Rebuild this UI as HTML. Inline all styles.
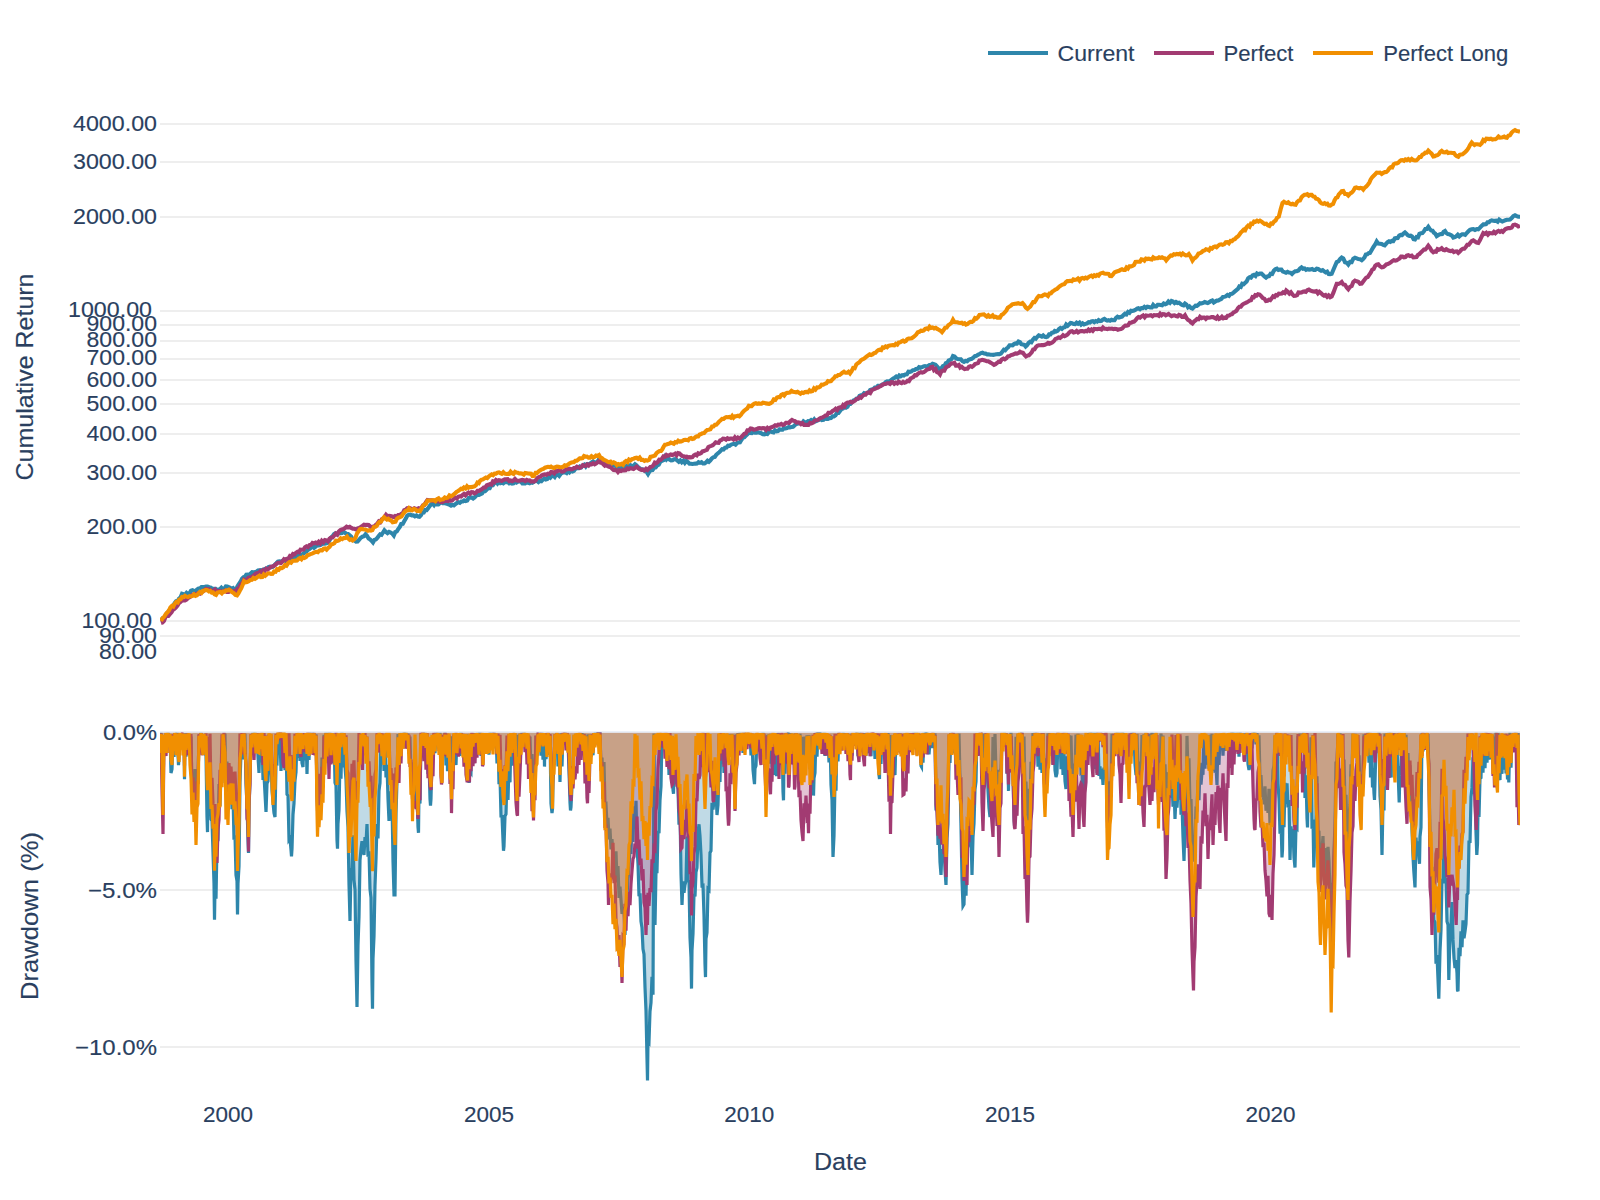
<!DOCTYPE html>
<html><head><meta charset="utf-8"><style>
html,body{margin:0;padding:0;background:#fff;}
svg{display:block;}
text{font-family:"Liberation Sans", sans-serif;fill:#2a3f5f;stroke:#2a3f5f;stroke-width:0.15px;}
</style></head><body>
<svg width="1600" height="1200" viewBox="0 0 1600 1200">
<rect width="1600" height="1200" fill="#fff"/>
<line x1="160" x2="1520" y1="124" y2="124" stroke="#e8e8e8" stroke-width="1.3"/>
<line x1="160" x2="1520" y1="162" y2="162" stroke="#e8e8e8" stroke-width="1.3"/>
<line x1="160" x2="1520" y1="217" y2="217" stroke="#e8e8e8" stroke-width="1.3"/>
<line x1="160" x2="1520" y1="311" y2="311" stroke="#e8e8e8" stroke-width="1.3"/>
<line x1="160" x2="1520" y1="325" y2="325" stroke="#e8e8e8" stroke-width="1.3"/>
<line x1="160" x2="1520" y1="341" y2="341" stroke="#e8e8e8" stroke-width="1.3"/>
<line x1="160" x2="1520" y1="359" y2="359" stroke="#e8e8e8" stroke-width="1.3"/>
<line x1="160" x2="1520" y1="380" y2="380" stroke="#e8e8e8" stroke-width="1.3"/>
<line x1="160" x2="1520" y1="404" y2="404" stroke="#e8e8e8" stroke-width="1.3"/>
<line x1="160" x2="1520" y1="434" y2="434" stroke="#e8e8e8" stroke-width="1.3"/>
<line x1="160" x2="1520" y1="473" y2="473" stroke="#e8e8e8" stroke-width="1.3"/>
<line x1="160" x2="1520" y1="527" y2="527" stroke="#e8e8e8" stroke-width="1.3"/>
<line x1="160" x2="1520" y1="621" y2="621" stroke="#e8e8e8" stroke-width="1.3"/>
<line x1="160" x2="1520" y1="636" y2="636" stroke="#e8e8e8" stroke-width="1.3"/>
<line x1="160" x2="1520" y1="890" y2="890" stroke="#e8e8e8" stroke-width="1.3"/>
<line x1="160" x2="1520" y1="1047" y2="1047" stroke="#e8e8e8" stroke-width="1.3"/>
<line x1="160" x2="1520" y1="731.9" y2="731.9" stroke="#EBF0F8" stroke-width="2"/>
<defs><clipPath id="ddclip"><rect x="160" y="732.6" width="1360" height="360"/></clipPath><clipPath id="topclip"><rect x="160" y="100" width="1360" height="552"/></clipPath></defs>
<g clip-path="url(#ddclip)"><path d="M160.0,755.5 L161.0,732.9 L162.0,752.9 L163.0,790.3 L164.0,735.0 L165.0,742.3 L166.0,733.3 L167.0,746.7 L168.0,732.8 L169.0,742.2 L170.0,734.6 L171.0,773.0 L172.0,769.0 L173.0,736.6 L174.0,756.9 L175.0,733.0 L176.0,739.5 L177.0,732.8 L178.0,754.8 L178.5,765.1 L179.0,758.4 L180.0,733.3 L181.0,745.4 L182.0,733.5 L183.0,748.7 L184.0,734.2 L184.5,779.2 L185.0,733.3 L186.0,756.8 L187.0,733.4 L188.0,754.2 L189.0,734.0 L190.0,754.9 L191.0,736.6 L192.0,792.1 L193.0,775.2 L194.0,796.5 L195.0,769.0 L196.0,811.3 L197.0,785.1 L198.0,782.2 L199.0,735.0 L200.0,745.5 L201.0,733.0 L202.0,744.8 L203.0,748.3 L204.0,734.0 L205.0,754.0 L206.0,755.0 L207.0,817.0 L207.5,832.1 L208.0,787.3 L209.0,772.7 L210.0,775.9 L211.0,819.3 L212.0,821.0 L213.0,852.1 L214.0,883.1 L214.5,919.7 L215.0,886.0 L216.0,898.7 L217.0,842.4 L218.0,840.2 L219.0,784.1 L220.0,805.9 L221.0,772.8 L222.0,783.0 L223.0,734.6 L224.0,740.3 L225.0,733.6 L226.0,792.1 L227.0,761.6 L228.0,797.3 L229.0,765.7 L230.0,799.7 L231.0,776.5 L232.0,809.3 L233.0,795.3 L234.0,839.6 L235.0,835.4 L236.0,875.1 L237.0,881.1 L237.5,914.4 L238.0,883.6 L239.0,866.2 L240.0,782.1 L241.0,753.4 L242.0,735.0 L242.5,759.5 L243.0,733.4 L244.0,753.9 L245.0,733.6 L246.0,783.8 L247.0,803.8 L248.0,840.1 L248.5,852.9 L249.0,812.5 L250.0,775.8 L251.0,735.1 L252.0,750.3 L253.0,732.8 L254.0,752.3 L255.0,732.9 L256.0,749.4 L257.0,733.2 L258.0,756.6 L259.0,773.0 L260.0,733.5 L261.0,762.5 L262.0,735.8 L263.0,780.0 L264.0,774.9 L265.0,793.6 L266.0,812.0 L267.0,783.5 L268.0,781.1 L269.0,755.9 L270.0,774.1 L271.0,758.0 L272.0,790.4 L273.0,802.0 L274.0,813.0 L275.0,817.0 L276.0,763.3 L277.0,763.6 L278.0,734.6 L279.0,744.3 L280.0,734.2 L281.0,771.0 L282.0,736.5 L283.0,762.8 L284.0,734.5 L285.0,770.2 L286.0,737.7 L287.0,794.4 L288.0,795.6 L289.0,839.8 L290.0,838.4 L291.0,849.9 L291.5,856.5 L292.0,849.0 L293.0,814.7 L294.0,803.3 L295.0,780.5 L296.0,772.2 L297.0,735.4 L298.0,758.0 L299.0,735.8 L300.0,761.0 L301.0,734.4 L302.0,763.1 L303.0,767.0 L304.0,735.1 L305.0,760.5 L306.0,733.9 L307.0,774.0 L308.0,734.6 L309.0,759.9 L310.0,732.9 L311.0,746.3 L312.0,733.1 L313.0,737.5 L314.0,733.0 L315.0,746.7 L316.0,734.2 L317.0,788.8 L317.5,805.6 L318.0,786.5 L319.0,802.0 L320.0,786.8 L321.0,797.1 L322.0,757.5 L323.0,783.4 L324.0,734.9 L325.0,761.2 L326.0,732.9 L327.0,745.4 L328.0,732.9 L329.0,752.1 L330.0,732.9 L331.0,754.9 L332.0,733.1 L333.0,763.2 L334.0,734.7 L335.0,782.7 L336.0,785.6 L337.0,840.3 L337.5,848.7 L338.0,823.8 L339.0,809.6 L340.0,760.0 L341.0,778.8 L342.0,732.9 L343.0,767.4 L344.0,734.9 L345.0,766.7 L346.0,779.8 L347.0,810.9 L348.0,827.0 L349.0,884.1 L350.0,921.0 L351.0,868.0 L352.0,872.5 L353.0,835.2 L354.0,879.8 L355.0,889.8 L356.0,961.0 L357.0,1007.0 L358.0,945.3 L359.0,916.7 L360.0,860.2 L361.0,849.1 L362.0,841.1 L363.0,846.4 L364.0,855.0 L365.0,837.2 L366.0,843.7 L367.0,824.0 L368.0,856.6 L369.0,851.4 L370.0,889.1 L371.0,897.6 L372.0,983.3 L372.5,1008.7 L373.0,958.5 L374.0,936.5 L375.0,885.2 L376.0,859.3 L377.0,824.1 L378.0,838.4 L379.0,790.9 L380.0,782.8 L381.0,737.6 L382.0,764.5 L383.0,736.3 L384.0,771.0 L385.0,734.3 L386.0,777.4 L387.0,764.9 L388.0,798.8 L389.0,821.0 L390.0,791.4 L391.0,803.1 L392.0,801.1 L393.0,860.6 L394.0,895.0 L395.0,895.0 L396.0,813.6 L397.0,781.2 L398.0,734.0 L399.0,755.3 L400.0,733.5 L401.0,736.8 L402.0,733.1 L403.0,748.4 L404.0,732.8 L405.0,738.4 L406.0,733.0 L407.0,743.3 L408.0,733.6 L409.0,753.7 L410.0,736.6 L411.0,775.5 L412.0,766.4 L412.5,794.7 L413.0,762.5 L414.0,772.7 L415.0,782.6 L416.0,808.2 L417.0,794.0 L418.0,826.9 L418.5,832.8 L419.0,789.8 L420.0,803.7 L421.0,733.7 L422.0,743.4 L423.0,732.8 L424.0,754.0 L425.0,732.9 L426.0,744.4 L427.0,733.6 L428.0,774.0 L429.0,761.9 L430.0,798.8 L430.5,805.6 L431.0,798.7 L432.0,754.5 L433.0,750.7 L434.0,733.5 L435.0,753.2 L436.0,732.9 L437.0,742.5 L438.0,733.5 L439.0,748.3 L440.0,732.8 L441.0,760.4 L442.0,767.9 L443.0,735.5 L444.0,752.4 L445.0,732.9 L446.0,765.4 L447.0,735.5 L447.5,771.3 L448.0,736.6 L449.0,760.7 L450.0,736.0 L451.0,775.5 L451.5,779.3 L452.0,736.4 L453.0,759.5 L454.0,734.7 L455.0,755.3 L456.0,765.0 L457.0,734.2 L458.0,753.7 L459.0,733.0 L460.0,756.0 L461.0,732.9 L462.0,747.1 L463.0,734.6 L464.0,752.5 L465.0,734.1 L466.0,759.3 L467.0,734.2 L467.5,777.0 L468.0,760.9 L469.0,783.0 L470.0,770.1 L471.0,771.9 L472.0,733.1 L473.0,751.6 L474.0,733.2 L475.0,751.7 L476.0,733.4 L477.0,738.8 L478.0,733.1 L479.0,740.3 L480.0,732.8 L481.0,756.0 L482.0,733.6 L483.0,755.3 L484.0,734.0 L485.0,745.4 L486.0,733.7 L487.0,748.4 L488.0,733.1 L489.0,754.8 L490.0,732.8 L491.0,740.1 L492.0,732.9 L493.0,748.5 L494.0,733.0 L495.0,744.8 L496.0,734.5 L497.0,763.4 L498.0,737.1 L499.0,784.2 L500.0,776.4 L501.0,816.1 L502.0,816.3 L503.0,840.0 L503.5,850.8 L504.0,846.5 L505.0,816.1 L506.0,814.0 L507.0,777.1 L508.0,799.9 L509.0,763.6 L510.0,782.4 L511.0,734.6 L512.0,765.6 L513.0,734.3 L514.0,751.2 L515.0,733.2 L516.0,757.2 L517.0,780.5 L518.0,734.7 L519.0,755.1 L520.0,733.5 L521.0,745.1 L522.0,733.0 L523.0,741.8 L524.0,733.0 L525.0,738.4 L526.0,733.4 L527.0,743.8 L528.0,734.5 L529.0,754.2 L530.0,736.5 L531.0,774.6 L532.0,754.1 L533.0,789.2 L533.5,792.1 L534.0,760.1 L535.0,775.9 L536.0,735.8 L537.0,755.3 L538.0,733.8 L539.0,741.6 L540.0,732.9 L541.0,755.8 L542.0,732.9 L543.0,759.8 L544.0,733.5 L544.5,766.6 L545.0,736.5 L546.0,759.0 L547.0,749.7 L548.0,733.3 L549.0,754.8 L550.0,734.7 L551.0,803.6 L552.0,813.0 L552.5,809.0 L553.0,783.2 L554.0,761.3 L555.0,734.7 L556.0,740.9 L557.0,733.7 L558.0,766.5 L559.0,737.5 L560.0,782.0 L561.0,733.3 L562.0,766.5 L563.0,733.1 L564.0,738.8 L565.0,733.0 L566.0,738.6 L567.0,733.3 L568.0,741.7 L569.0,770.9 L570.0,802.5 L570.5,810.4 L571.0,807.2 L572.0,786.6 L573.0,768.9 L574.0,735.2 L575.0,747.3 L576.0,734.0 L577.0,751.2 L578.0,733.0 L579.0,756.7 L580.0,733.1 L581.0,747.7 L582.0,733.2 L583.0,747.1 L584.0,733.9 L585.0,756.4 L586.0,735.9 L587.0,762.7 L588.0,734.4 L589.0,766.5 L590.0,734.6 L591.0,753.6 L592.0,734.7 L593.0,755.3 L594.0,733.0 L595.0,736.6 L596.0,733.0 L597.0,738.5 L598.0,733.1 L599.0,735.3 L600.0,733.6 L601.0,766.9 L602.0,757.5 L603.0,784.0 L604.0,762.1 L605.0,804.6 L606.0,804.0 L607.0,824.6 L608.0,817.8 L609.0,839.4 L610.0,828.5 L611.0,849.4 L612.0,839.2 L613.0,857.2 L614.0,856.2 L615.0,876.2 L616.0,851.2 L617.0,882.4 L618.0,866.0 L619.0,897.9 L620.0,886.6 L621.0,899.9 L622.0,914.0 L623.0,906.9 L624.0,914.2 L625.0,935.0 L626.0,906.8 L627.0,894.8 L628.0,878.9 L629.0,867.3 L630.0,844.9 L631.0,854.0 L632.0,817.8 L633.0,841.9 L634.0,806.4 L635.0,824.0 L636.0,800.8 L637.0,847.8 L638.0,863.9 L639.0,896.2 L640.0,893.4 L641.0,921.3 L642.0,927.7 L643.0,949.1 L644.0,954.3 L645.0,987.1 L646.0,1010.9 L647.0,1058.9 L647.5,1080.5 L648.0,1040.0 L649.0,1041.6 L650.0,1011.5 L651.0,1002.6 L652.0,976.9 L653.0,994.7 L654.0,733.5 L655.0,925.0 L656.0,871.5 L657.0,871.6 L658.0,830.9 L659.0,833.2 L660.0,800.3 L661.0,786.3 L662.0,733.3 L663.0,749.4 L664.0,733.7 L665.0,749.7 L666.0,733.9 L667.0,755.0 L668.0,733.0 L669.0,775.0 L670.0,736.2 L671.0,764.5 L672.0,736.0 L673.0,790.0 L673.5,793.7 L674.0,776.8 L675.0,772.3 L676.0,758.9 L677.0,783.1 L678.0,789.5 L679.0,824.7 L680.0,809.6 L681.0,873.9 L682.0,905.0 L683.0,881.2 L684.0,892.7 L685.0,884.9 L686.0,880.9 L687.0,836.5 L688.0,880.9 L689.0,881.5 L690.0,937.8 L691.0,957.4 L691.5,988.6 L692.0,950.6 L693.0,933.8 L694.0,893.7 L695.0,896.4 L696.0,872.1 L697.0,867.7 L698.0,832.3 L699.0,824.3 L700.0,836.0 L701.0,854.8 L702.0,885.6 L703.0,885.3 L704.0,915.7 L705.0,964.3 L705.5,977.1 L706.0,938.7 L707.0,932.6 L708.0,889.1 L709.0,890.1 L710.0,852.7 L711.0,850.9 L712.0,802.9 L713.0,809.5 L714.0,801.0 L715.0,805.0 L716.0,790.5 L717.0,815.0 L718.0,805.0 L719.0,772.3 L720.0,781.9 L721.0,733.8 L722.0,763.7 L723.0,734.8 L724.0,773.0 L725.0,735.2 L726.0,759.4 L727.0,734.6 L728.0,752.8 L729.0,755.3 L730.0,734.3 L731.0,754.0 L732.0,734.1 L733.0,759.4 L734.0,736.9 L735.0,786.1 L736.0,734.2 L737.0,753.7 L738.0,733.2 L739.0,740.9 L740.0,733.0 L741.0,741.0 L742.0,733.1 L743.0,752.8 L744.0,732.8 L745.0,748.3 L746.0,733.4 L747.0,742.3 L748.0,733.6 L749.0,744.4 L750.0,734.0 L751.0,755.5 L752.0,734.5 L753.0,769.6 L754.0,779.5 L754.5,784.1 L755.0,768.5 L756.0,765.6 L757.0,735.3 L758.0,749.7 L759.0,734.1 L760.0,749.7 L761.0,733.6 L762.0,744.3 L763.0,732.9 L764.0,754.7 L765.0,735.8 L766.0,791.7 L767.0,734.7 L768.0,757.2 L769.0,734.2 L770.0,763.6 L771.0,733.7 L772.0,767.7 L773.0,736.7 L774.0,775.0 L775.0,733.1 L776.0,770.8 L776.5,776.0 L777.0,773.6 L778.0,733.0 L779.0,742.4 L780.0,733.8 L781.0,753.7 L782.0,734.8 L783.0,791.4 L783.5,800.3 L784.0,761.8 L785.0,773.6 L786.0,733.3 L787.0,735.6 L788.0,733.7 L789.0,762.3 L790.0,733.1 L791.0,747.3 L792.0,733.6 L793.0,748.3 L794.0,735.0 L795.0,762.3 L796.0,733.1 L797.0,752.3 L798.0,734.0 L799.0,754.3 L800.0,733.9 L801.0,764.9 L802.0,769.3 L803.0,736.8 L804.0,765.7 L805.0,736.5 L806.0,761.9 L807.0,735.3 L808.0,755.5 L809.0,735.1 L810.0,769.3 L811.0,736.2 L812.0,774.6 L813.0,756.8 L813.5,795.6 L814.0,778.1 L815.0,772.8 L816.0,732.8 L817.0,756.8 L818.0,733.0 L819.0,734.6 L820.0,732.9 L821.0,743.3 L822.0,733.4 L823.0,748.4 L823.5,750.6 L824.0,732.9 L825.0,756.0 L826.0,733.8 L827.0,741.1 L828.0,735.2 L829.0,762.5 L830.0,736.8 L831.0,784.6 L832.0,800.0 L833.0,857.0 L834.0,836.0 L835.0,781.3 L836.0,790.6 L837.0,735.8 L838.0,761.4 L839.0,733.2 L840.0,742.5 L841.0,733.1 L842.0,748.4 L843.0,732.8 L844.0,745.5 L845.0,733.1 L846.0,741.7 L847.0,733.4 L848.0,747.7 L849.0,734.9 L850.0,753.0 L850.5,755.1 L851.0,733.9 L852.0,755.6 L853.0,733.6 L854.0,739.7 L855.0,733.2 L856.0,741.2 L857.0,732.8 L858.0,756.3 L859.0,733.1 L860.0,738.8 L861.0,733.1 L862.0,743.0 L863.0,733.2 L864.0,748.3 L865.0,733.1 L866.0,755.7 L867.0,733.6 L868.0,746.6 L869.0,753.0 L870.0,733.4 L871.0,756.1 L872.0,733.0 L873.0,749.3 L874.0,733.4 L875.0,759.0 L876.0,734.7 L877.0,753.1 L878.0,734.4 L879.0,774.6 L879.5,779.1 L880.0,736.1 L881.0,763.9 L882.0,733.3 L883.0,750.9 L884.0,733.1 L885.0,754.3 L886.0,733.1 L887.0,755.8 L888.0,733.1 L889.0,762.2 L890.0,735.0 L890.5,776.8 L891.0,737.6 L892.0,764.6 L893.0,735.2 L894.0,770.7 L894.5,773.5 L895.0,775.0 L896.0,734.5 L897.0,748.3 L898.0,733.8 L899.0,738.2 L900.0,733.7 L901.0,749.3 L902.0,734.1 L903.0,757.4 L904.0,759.5 L905.0,733.8 L906.0,748.2 L907.0,733.4 L908.0,751.6 L909.0,733.4 L910.0,748.8 L911.0,733.1 L912.0,743.7 L913.0,748.3 L914.0,732.9 L915.0,741.5 L916.0,733.1 L917.0,737.5 L918.0,733.4 L919.0,743.5 L920.0,735.0 L921.0,765.9 L921.5,766.8 L922.0,734.4 L923.0,762.8 L924.0,732.9 L925.0,738.9 L926.0,733.1 L927.0,735.7 L928.0,733.0 L929.0,754.3 L930.0,741.3 L931.0,733.5 L932.0,748.1 L933.0,733.0 L934.0,747.5 L935.0,733.2 L936.0,810.4 L937.0,798.3 L938.0,845.0 L939.0,829.9 L940.0,862.1 L941.0,875.0 L942.0,849.1 L943.0,860.5 L944.0,841.5 L945.0,870.1 L946.0,885.0 L947.0,838.1 L948.0,823.9 L949.0,759.5 L950.0,762.9 L951.0,733.1 L952.0,738.2 L953.0,733.3 L954.0,753.5 L955.0,733.9 L956.0,754.5 L957.0,734.1 L958.0,763.3 L959.0,733.6 L960.0,777.9 L961.0,826.6 L962.0,879.6 L963.0,906.0 L964.0,904.3 L965.0,870.6 L966.0,895.8 L967.0,847.3 L968.0,846.5 L969.0,835.6 L970.0,845.6 L971.0,834.2 L972.0,875.0 L973.0,837.1 L974.0,823.4 L975.0,789.2 L976.0,781.6 L977.0,733.2 L978.0,739.4 L979.0,733.3 L980.0,746.5 L981.0,733.6 L982.0,756.4 L983.0,769.3 L984.0,733.5 L985.0,759.6 L986.0,734.0 L987.0,757.6 L988.0,790.5 L989.0,807.8 L990.0,817.0 L991.0,800.3 L992.0,809.0 L993.0,737.1 L994.0,771.5 L995.0,734.1 L996.0,773.0 L997.0,769.8 L998.0,787.7 L999.0,797.3 L1000.0,771.6 L1001.0,768.1 L1002.0,733.4 L1003.0,745.9 L1004.0,733.1 L1005.0,738.3 L1006.0,733.3 L1007.0,773.8 L1008.0,762.6 L1008.5,790.9 L1009.0,757.3 L1010.0,772.1 L1011.0,732.9 L1012.0,762.4 L1013.0,774.7 L1014.0,817.2 L1014.5,826.0 L1015.0,821.0 L1016.0,736.8 L1017.0,755.7 L1018.0,733.7 L1019.0,755.8 L1020.0,733.2 L1021.0,746.1 L1022.0,732.8 L1023.0,756.8 L1024.0,736.6 L1025.0,793.2 L1026.0,781.6 L1027.0,815.7 L1028.0,832.3 L1029.0,788.9 L1030.0,804.2 L1031.0,761.8 L1032.0,767.8 L1033.0,733.0 L1034.0,755.9 L1035.0,732.9 L1036.0,754.3 L1037.0,734.2 L1038.0,766.6 L1039.0,734.1 L1040.0,769.7 L1041.0,735.3 L1042.0,773.0 L1043.0,733.1 L1044.0,776.8 L1045.0,791.7 L1046.0,758.2 L1047.0,774.1 L1048.0,733.2 L1049.0,753.9 L1050.0,733.2 L1051.0,752.8 L1052.0,733.0 L1053.0,764.8 L1054.0,734.3 L1055.0,770.4 L1056.0,777.0 L1057.0,773.0 L1058.0,735.7 L1059.0,749.2 L1060.0,733.2 L1061.0,769.2 L1062.0,733.9 L1063.0,775.0 L1064.0,754.0 L1065.0,781.2 L1066.0,789.0 L1067.0,756.4 L1068.0,776.0 L1069.0,735.0 L1070.0,768.2 L1071.0,735.6 L1072.0,780.6 L1073.0,790.3 L1074.0,763.6 L1075.0,773.7 L1076.0,734.6 L1077.0,760.2 L1078.0,733.9 L1079.0,756.5 L1080.0,734.8 L1081.0,772.5 L1082.0,771.6 L1083.0,805.0 L1084.0,778.5 L1085.0,781.4 L1086.0,734.6 L1087.0,752.7 L1088.0,733.0 L1089.0,740.8 L1090.0,733.0 L1091.0,737.4 L1092.0,732.9 L1093.0,752.8 L1094.0,732.9 L1095.0,769.0 L1096.0,732.8 L1097.0,773.3 L1098.0,734.4 L1099.0,775.9 L1100.0,766.5 L1101.0,779.1 L1102.0,768.9 L1103.0,785.0 L1104.0,767.6 L1105.0,775.3 L1106.0,734.3 L1107.0,801.0 L1107.5,821.8 L1108.0,800.0 L1109.0,816.1 L1110.0,781.2 L1111.0,793.8 L1112.0,733.7 L1113.0,764.2 L1114.0,734.2 L1115.0,746.6 L1116.0,733.1 L1117.0,737.2 L1118.0,733.1 L1119.0,743.8 L1120.0,732.8 L1121.0,744.8 L1122.0,733.1 L1123.0,739.3 L1124.0,733.0 L1125.0,750.4 L1126.0,735.0 L1127.0,761.0 L1128.0,736.8 L1129.0,779.1 L1130.0,734.9 L1131.0,755.1 L1132.0,732.9 L1133.0,741.2 L1134.0,733.2 L1135.0,764.3 L1136.0,775.0 L1137.0,733.7 L1138.0,772.2 L1139.0,783.3 L1140.0,761.5 L1141.0,780.1 L1142.0,735.1 L1143.0,756.7 L1144.0,734.2 L1145.0,754.3 L1146.0,733.1 L1147.0,752.6 L1148.0,734.3 L1149.0,769.3 L1150.0,733.8 L1151.0,762.8 L1152.0,732.9 L1153.0,751.3 L1154.0,733.7 L1155.0,751.6 L1156.0,733.3 L1157.0,770.9 L1158.0,757.1 L1158.5,799.8 L1159.0,768.0 L1160.0,777.0 L1161.0,733.5 L1162.0,753.0 L1163.0,735.6 L1164.0,775.0 L1165.0,764.4 L1166.0,795.7 L1167.0,804.3 L1168.0,772.2 L1169.0,782.6 L1170.0,776.5 L1171.0,797.6 L1172.0,781.0 L1173.0,806.8 L1174.0,787.4 L1175.0,819.0 L1176.0,796.1 L1177.0,807.6 L1178.0,789.8 L1179.0,764.1 L1180.0,736.2 L1181.0,814.8 L1182.0,804.9 L1183.0,836.8 L1184.0,861.0 L1185.0,823.0 L1186.0,824.8 L1187.0,735.9 L1188.0,775.5 L1189.0,758.2 L1190.0,808.4 L1191.0,799.1 L1192.0,839.9 L1193.0,861.7 L1194.0,837.1 L1195.0,839.3 L1196.0,808.7 L1197.0,809.2 L1198.0,780.0 L1199.0,800.2 L1200.0,762.8 L1201.0,784.5 L1202.0,772.2 L1203.0,774.8 L1204.0,734.1 L1205.0,768.6 L1206.0,736.8 L1207.0,764.7 L1208.0,735.6 L1209.0,769.0 L1210.0,734.8 L1211.0,775.0 L1212.0,733.9 L1213.0,770.7 L1214.0,735.9 L1215.0,772.8 L1216.0,765.8 L1217.0,785.0 L1218.0,734.0 L1219.0,764.9 L1220.0,734.8 L1221.0,748.6 L1222.0,734.6 L1223.0,755.7 L1224.0,734.0 L1225.0,751.0 L1226.0,734.1 L1227.0,749.4 L1228.0,734.2 L1229.0,744.2 L1230.0,733.3 L1231.0,736.9 L1232.0,733.0 L1233.0,737.9 L1234.0,732.9 L1235.0,752.5 L1236.0,733.0 L1237.0,739.8 L1238.0,733.1 L1239.0,756.8 L1240.0,732.8 L1241.0,738.2 L1242.0,733.3 L1243.0,747.4 L1244.0,748.3 L1245.0,733.3 L1246.0,747.8 L1247.0,736.2 L1248.0,764.0 L1249.0,770.0 L1250.0,765.5 L1251.0,733.1 L1252.0,748.3 L1253.0,732.9 L1254.0,736.0 L1255.0,733.0 L1256.0,744.3 L1257.0,733.0 L1258.0,750.6 L1259.0,735.4 L1260.0,777.7 L1261.0,775.1 L1262.0,797.2 L1263.0,788.7 L1264.0,804.3 L1265.0,786.3 L1266.0,810.8 L1267.0,797.9 L1268.0,812.8 L1269.0,788.7 L1270.0,825.3 L1271.0,802.2 L1272.0,798.0 L1273.0,770.4 L1274.0,765.3 L1275.0,735.5 L1276.0,765.3 L1277.0,733.0 L1278.0,783.6 L1279.0,798.9 L1280.0,833.8 L1281.0,821.7 L1282.0,857.5 L1282.5,850.0 L1283.0,815.9 L1284.0,827.1 L1285.0,782.7 L1286.0,804.0 L1287.0,783.3 L1288.0,807.5 L1289.0,800.0 L1290.0,860.0 L1291.0,826.3 L1292.0,846.9 L1293.0,828.7 L1294.0,857.5 L1295.0,867.5 L1296.0,826.2 L1297.0,827.6 L1298.0,736.0 L1299.0,760.2 L1300.0,733.6 L1301.0,746.3 L1302.0,733.6 L1303.0,739.4 L1304.0,732.9 L1305.0,798.1 L1306.0,775.4 L1307.0,818.2 L1307.5,827.5 L1308.0,795.0 L1309.0,808.4 L1310.0,800.0 L1311.0,737.3 L1312.0,828.8 L1313.0,819.6 L1313.8,867.5 L1315.0,827.1 L1316.0,822.1 L1317.0,776.3 L1318.0,831.5 L1319.0,831.9 L1320.0,873.3 L1320.5,881.3 L1321.0,858.4 L1322.0,849.7 L1323.0,836.1 L1324.0,871.2 L1325.0,888.3 L1326.0,848.1 L1327.0,872.4 L1328.0,846.9 L1329.0,861.6 L1330.0,893.6 L1331.2,928.6 L1332.0,882.7 L1333.0,889.7 L1334.0,848.7 L1335.0,826.2 L1336.0,761.4 L1337.0,764.7 L1338.0,734.0 L1339.0,752.3 L1340.0,733.4 L1341.0,750.3 L1342.0,734.9 L1343.0,770.2 L1344.0,759.6 L1345.0,802.6 L1346.0,794.8 L1347.0,834.7 L1348.0,849.8 L1349.0,816.1 L1350.0,804.7 L1351.0,764.2 L1352.0,770.3 L1353.0,733.8 L1354.0,754.0 L1355.0,733.8 L1356.0,753.9 L1357.0,735.7 L1358.0,769.5 L1359.0,755.2 L1360.0,789.2 L1361.2,800.8 L1362.0,774.0 L1363.0,777.7 L1364.0,734.4 L1365.0,752.6 L1366.0,734.1 L1367.0,748.2 L1368.0,732.9 L1369.0,762.6 L1370.0,737.2 L1370.5,777.5 L1371.0,734.0 L1372.0,765.6 L1372.5,787.5 L1373.0,768.1 L1374.0,793.5 L1374.5,800.0 L1375.0,782.1 L1376.0,746.0 L1377.0,733.4 L1378.0,742.0 L1379.0,732.8 L1380.0,795.7 L1381.0,810.0 L1382.0,855.0 L1383.0,801.5 L1384.0,810.6 L1385.0,733.5 L1386.0,749.4 L1387.0,733.3 L1388.0,755.6 L1389.0,732.9 L1390.0,768.2 L1391.2,777.5 L1392.0,735.9 L1393.0,765.7 L1394.0,733.1 L1395.0,767.6 L1396.0,734.2 L1397.0,749.2 L1398.0,770.2 L1399.2,802.5 L1400.0,766.1 L1401.0,775.3 L1402.0,733.3 L1403.0,741.4 L1404.0,733.2 L1405.0,747.5 L1406.0,734.7 L1407.0,771.6 L1408.0,753.0 L1409.0,785.1 L1410.0,765.4 L1411.0,791.4 L1412.0,830.4 L1413.0,856.6 L1413.8,870.8 L1415.0,887.5 L1416.0,837.6 L1417.0,854.5 L1418.0,841.3 L1419.0,858.4 L1419.5,863.8 L1420.0,836.5 L1421.0,827.4 L1422.0,733.2 L1423.0,751.3 L1424.0,733.5 L1425.0,749.7 L1426.0,733.4 L1427.0,740.5 L1428.0,734.1 L1429.0,780.9 L1430.0,832.6 L1431.0,866.6 L1432.0,867.9 L1433.0,902.1 L1433.8,920.0 L1435.0,922.1 L1436.0,963.7 L1437.0,955.0 L1438.0,979.2 L1438.8,998.8 L1440.0,951.0 L1441.0,930.0 L1442.0,878.8 L1443.0,883.3 L1444.0,839.5 L1445.0,880.2 L1446.0,880.0 L1447.0,921.5 L1448.0,924.7 L1448.8,980.0 L1450.0,934.6 L1451.0,926.7 L1452.0,902.1 L1453.0,939.9 L1454.0,957.8 L1455.0,968.1 L1456.0,960.0 L1457.0,973.1 L1457.5,990.2 L1458.0,991.2 L1459.0,947.7 L1460.0,956.1 L1461.0,931.4 L1462.0,947.3 L1463.0,920.3 L1464.0,938.2 L1465.0,931.4 L1466.0,923.9 L1467.0,894.7 L1468.0,893.2 L1469.0,840.5 L1470.0,843.0 L1471.0,796.8 L1472.0,787.9 L1473.0,757.4 L1474.0,793.7 L1475.0,787.4 L1476.0,832.8 L1476.8,855.0 L1477.5,843.8 L1478.0,810.6 L1479.0,816.9 L1480.0,778.3 L1481.0,777.7 L1482.0,734.8 L1483.0,772.6 L1484.0,733.3 L1485.0,768.2 L1486.0,735.6 L1487.0,762.6 L1488.0,734.4 L1489.0,759.7 L1490.0,735.5 L1491.0,759.3 L1492.0,734.5 L1493.0,763.1 L1494.0,736.6 L1495.0,767.6 L1496.0,732.8 L1497.0,773.1 L1497.5,774.6 L1498.0,732.9 L1499.0,777.1 L1500.0,780.0 L1501.0,736.3 L1502.0,773.9 L1503.0,734.0 L1504.0,769.6 L1505.0,734.1 L1506.0,773.5 L1507.0,764.9 L1507.5,779.4 L1508.0,754.6 L1508.8,782.5 L1510.0,732.8 L1511.0,767.6 L1512.0,735.8 L1513.0,751.0 L1514.0,733.3 L1515.0,746.9 L1516.0,732.8 L1517.0,743.1 L1518.0,733.1 L1519.0,773.9 L1520.0,797.3 L1520.0,732.8 L160.0,732.8 Z" fill="#2E86AB" fill-opacity="0.3" stroke="none"/><path d="M160.0,755.5 L161.0,732.9 L162.0,752.9 L163.0,790.3 L164.0,735.0 L165.0,742.3 L166.0,733.3 L167.0,746.7 L168.0,732.8 L169.0,742.2 L170.0,734.6 L171.0,773.0 L172.0,769.0 L173.0,736.6 L174.0,756.9 L175.0,733.0 L176.0,739.5 L177.0,732.8 L178.0,754.8 L178.5,765.1 L179.0,758.4 L180.0,733.3 L181.0,745.4 L182.0,733.5 L183.0,748.7 L184.0,734.2 L184.5,779.2 L185.0,733.3 L186.0,756.8 L187.0,733.4 L188.0,754.2 L189.0,734.0 L190.0,754.9 L191.0,736.6 L192.0,792.1 L193.0,775.2 L194.0,796.5 L195.0,769.0 L196.0,811.3 L197.0,785.1 L198.0,782.2 L199.0,735.0 L200.0,745.5 L201.0,733.0 L202.0,744.8 L203.0,748.3 L204.0,734.0 L205.0,754.0 L206.0,755.0 L207.0,817.0 L207.5,832.1 L208.0,787.3 L209.0,772.7 L210.0,775.9 L211.0,819.3 L212.0,821.0 L213.0,852.1 L214.0,883.1 L214.5,919.7 L215.0,886.0 L216.0,898.7 L217.0,842.4 L218.0,840.2 L219.0,784.1 L220.0,805.9 L221.0,772.8 L222.0,783.0 L223.0,734.6 L224.0,740.3 L225.0,733.6 L226.0,792.1 L227.0,761.6 L228.0,797.3 L229.0,765.7 L230.0,799.7 L231.0,776.5 L232.0,809.3 L233.0,795.3 L234.0,839.6 L235.0,835.4 L236.0,875.1 L237.0,881.1 L237.5,914.4 L238.0,883.6 L239.0,866.2 L240.0,782.1 L241.0,753.4 L242.0,735.0 L242.5,759.5 L243.0,733.4 L244.0,753.9 L245.0,733.6 L246.0,783.8 L247.0,803.8 L248.0,840.1 L248.5,852.9 L249.0,812.5 L250.0,775.8 L251.0,735.1 L252.0,750.3 L253.0,732.8 L254.0,752.3 L255.0,732.9 L256.0,749.4 L257.0,733.2 L258.0,756.6 L259.0,773.0 L260.0,733.5 L261.0,762.5 L262.0,735.8 L263.0,780.0 L264.0,774.9 L265.0,793.6 L266.0,812.0 L267.0,783.5 L268.0,781.1 L269.0,755.9 L270.0,774.1 L271.0,758.0 L272.0,790.4 L273.0,802.0 L274.0,813.0 L275.0,817.0 L276.0,763.3 L277.0,763.6 L278.0,734.6 L279.0,744.3 L280.0,734.2 L281.0,771.0 L282.0,736.5 L283.0,762.8 L284.0,734.5 L285.0,770.2 L286.0,737.7 L287.0,794.4 L288.0,795.6 L289.0,839.8 L290.0,838.4 L291.0,849.9 L291.5,856.5 L292.0,849.0 L293.0,814.7 L294.0,803.3 L295.0,780.5 L296.0,772.2 L297.0,735.4 L298.0,758.0 L299.0,735.8 L300.0,761.0 L301.0,734.4 L302.0,763.1 L303.0,767.0 L304.0,735.1 L305.0,760.5 L306.0,733.9 L307.0,774.0 L308.0,734.6 L309.0,759.9 L310.0,732.9 L311.0,746.3 L312.0,733.1 L313.0,737.5 L314.0,733.0 L315.0,746.7 L316.0,734.2 L317.0,788.8 L317.5,805.6 L318.0,786.5 L319.0,802.0 L320.0,786.8 L321.0,797.1 L322.0,757.5 L323.0,783.4 L324.0,734.9 L325.0,761.2 L326.0,732.9 L327.0,745.4 L328.0,732.9 L329.0,752.1 L330.0,732.9 L331.0,754.9 L332.0,733.1 L333.0,763.2 L334.0,734.7 L335.0,782.7 L336.0,785.6 L337.0,840.3 L337.5,848.7 L338.0,823.8 L339.0,809.6 L340.0,760.0 L341.0,778.8 L342.0,732.9 L343.0,767.4 L344.0,734.9 L345.0,766.7 L346.0,779.8 L347.0,810.9 L348.0,827.0 L349.0,884.1 L350.0,921.0 L351.0,868.0 L352.0,872.5 L353.0,835.2 L354.0,879.8 L355.0,889.8 L356.0,961.0 L357.0,1007.0 L358.0,945.3 L359.0,916.7 L360.0,860.2 L361.0,849.1 L362.0,841.1 L363.0,846.4 L364.0,855.0 L365.0,837.2 L366.0,843.7 L367.0,824.0 L368.0,856.6 L369.0,851.4 L370.0,889.1 L371.0,897.6 L372.0,983.3 L372.5,1008.7 L373.0,958.5 L374.0,936.5 L375.0,885.2 L376.0,859.3 L377.0,824.1 L378.0,838.4 L379.0,790.9 L380.0,782.8 L381.0,737.6 L382.0,764.5 L383.0,736.3 L384.0,771.0 L385.0,734.3 L386.0,777.4 L387.0,764.9 L388.0,798.8 L389.0,821.0 L390.0,791.4 L391.0,803.1 L392.0,801.1 L393.0,860.6 L394.0,895.0 L395.0,895.0 L396.0,813.6 L397.0,781.2 L398.0,734.0 L399.0,755.3 L400.0,733.5 L401.0,736.8 L402.0,733.1 L403.0,748.4 L404.0,732.8 L405.0,738.4 L406.0,733.0 L407.0,743.3 L408.0,733.6 L409.0,753.7 L410.0,736.6 L411.0,775.5 L412.0,766.4 L412.5,794.7 L413.0,762.5 L414.0,772.7 L415.0,782.6 L416.0,808.2 L417.0,794.0 L418.0,826.9 L418.5,832.8 L419.0,789.8 L420.0,803.7 L421.0,733.7 L422.0,743.4 L423.0,732.8 L424.0,754.0 L425.0,732.9 L426.0,744.4 L427.0,733.6 L428.0,774.0 L429.0,761.9 L430.0,798.8 L430.5,805.6 L431.0,798.7 L432.0,754.5 L433.0,750.7 L434.0,733.5 L435.0,753.2 L436.0,732.9 L437.0,742.5 L438.0,733.5 L439.0,748.3 L440.0,732.8 L441.0,760.4 L442.0,767.9 L443.0,735.5 L444.0,752.4 L445.0,732.9 L446.0,765.4 L447.0,735.5 L447.5,771.3 L448.0,736.6 L449.0,760.7 L450.0,736.0 L451.0,775.5 L451.5,779.3 L452.0,736.4 L453.0,759.5 L454.0,734.7 L455.0,755.3 L456.0,765.0 L457.0,734.2 L458.0,753.7 L459.0,733.0 L460.0,756.0 L461.0,732.9 L462.0,747.1 L463.0,734.6 L464.0,752.5 L465.0,734.1 L466.0,759.3 L467.0,734.2 L467.5,777.0 L468.0,760.9 L469.0,783.0 L470.0,770.1 L471.0,771.9 L472.0,733.1 L473.0,751.6 L474.0,733.2 L475.0,751.7 L476.0,733.4 L477.0,738.8 L478.0,733.1 L479.0,740.3 L480.0,732.8 L481.0,756.0 L482.0,733.6 L483.0,755.3 L484.0,734.0 L485.0,745.4 L486.0,733.7 L487.0,748.4 L488.0,733.1 L489.0,754.8 L490.0,732.8 L491.0,740.1 L492.0,732.9 L493.0,748.5 L494.0,733.0 L495.0,744.8 L496.0,734.5 L497.0,763.4 L498.0,737.1 L499.0,784.2 L500.0,776.4 L501.0,816.1 L502.0,816.3 L503.0,840.0 L503.5,850.8 L504.0,846.5 L505.0,816.1 L506.0,814.0 L507.0,777.1 L508.0,799.9 L509.0,763.6 L510.0,782.4 L511.0,734.6 L512.0,765.6 L513.0,734.3 L514.0,751.2 L515.0,733.2 L516.0,757.2 L517.0,780.5 L518.0,734.7 L519.0,755.1 L520.0,733.5 L521.0,745.1 L522.0,733.0 L523.0,741.8 L524.0,733.0 L525.0,738.4 L526.0,733.4 L527.0,743.8 L528.0,734.5 L529.0,754.2 L530.0,736.5 L531.0,774.6 L532.0,754.1 L533.0,789.2 L533.5,792.1 L534.0,760.1 L535.0,775.9 L536.0,735.8 L537.0,755.3 L538.0,733.8 L539.0,741.6 L540.0,732.9 L541.0,755.8 L542.0,732.9 L543.0,759.8 L544.0,733.5 L544.5,766.6 L545.0,736.5 L546.0,759.0 L547.0,749.7 L548.0,733.3 L549.0,754.8 L550.0,734.7 L551.0,803.6 L552.0,813.0 L552.5,809.0 L553.0,783.2 L554.0,761.3 L555.0,734.7 L556.0,740.9 L557.0,733.7 L558.0,766.5 L559.0,737.5 L560.0,782.0 L561.0,733.3 L562.0,766.5 L563.0,733.1 L564.0,738.8 L565.0,733.0 L566.0,738.6 L567.0,733.3 L568.0,741.7 L569.0,770.9 L570.0,802.5 L570.5,810.4 L571.0,807.2 L572.0,786.6 L573.0,768.9 L574.0,735.2 L575.0,747.3 L576.0,734.0 L577.0,751.2 L578.0,733.0 L579.0,756.7 L580.0,733.1 L581.0,747.7 L582.0,733.2 L583.0,747.1 L584.0,733.9 L585.0,756.4 L586.0,735.9 L587.0,762.7 L588.0,734.4 L589.0,766.5 L590.0,734.6 L591.0,753.6 L592.0,734.7 L593.0,755.3 L594.0,733.0 L595.0,736.6 L596.0,733.0 L597.0,738.5 L598.0,733.1 L599.0,735.3 L600.0,733.6 L601.0,766.9 L602.0,757.5 L603.0,784.0 L604.0,762.1 L605.0,804.6 L606.0,804.0 L607.0,824.6 L608.0,817.8 L609.0,839.4 L610.0,828.5 L611.0,849.4 L612.0,839.2 L613.0,857.2 L614.0,856.2 L615.0,876.2 L616.0,851.2 L617.0,882.4 L618.0,866.0 L619.0,897.9 L620.0,886.6 L621.0,899.9 L622.0,914.0 L623.0,906.9 L624.0,914.2 L625.0,935.0 L626.0,906.8 L627.0,894.8 L628.0,878.9 L629.0,867.3 L630.0,844.9 L631.0,854.0 L632.0,817.8 L633.0,841.9 L634.0,806.4 L635.0,824.0 L636.0,800.8 L637.0,847.8 L638.0,863.9 L639.0,896.2 L640.0,893.4 L641.0,921.3 L642.0,927.7 L643.0,949.1 L644.0,954.3 L645.0,987.1 L646.0,1010.9 L647.0,1058.9 L647.5,1080.5 L648.0,1040.0 L649.0,1041.6 L650.0,1011.5 L651.0,1002.6 L652.0,976.9 L653.0,994.7 L654.0,733.5 L655.0,925.0 L656.0,871.5 L657.0,871.6 L658.0,830.9 L659.0,833.2 L660.0,800.3 L661.0,786.3 L662.0,733.3 L663.0,749.4 L664.0,733.7 L665.0,749.7 L666.0,733.9 L667.0,755.0 L668.0,733.0 L669.0,775.0 L670.0,736.2 L671.0,764.5 L672.0,736.0 L673.0,790.0 L673.5,793.7 L674.0,776.8 L675.0,772.3 L676.0,758.9 L677.0,783.1 L678.0,789.5 L679.0,824.7 L680.0,809.6 L681.0,873.9 L682.0,905.0 L683.0,881.2 L684.0,892.7 L685.0,884.9 L686.0,880.9 L687.0,836.5 L688.0,880.9 L689.0,881.5 L690.0,937.8 L691.0,957.4 L691.5,988.6 L692.0,950.6 L693.0,933.8 L694.0,893.7 L695.0,896.4 L696.0,872.1 L697.0,867.7 L698.0,832.3 L699.0,824.3 L700.0,836.0 L701.0,854.8 L702.0,885.6 L703.0,885.3 L704.0,915.7 L705.0,964.3 L705.5,977.1 L706.0,938.7 L707.0,932.6 L708.0,889.1 L709.0,890.1 L710.0,852.7 L711.0,850.9 L712.0,802.9 L713.0,809.5 L714.0,801.0 L715.0,805.0 L716.0,790.5 L717.0,815.0 L718.0,805.0 L719.0,772.3 L720.0,781.9 L721.0,733.8 L722.0,763.7 L723.0,734.8 L724.0,773.0 L725.0,735.2 L726.0,759.4 L727.0,734.6 L728.0,752.8 L729.0,755.3 L730.0,734.3 L731.0,754.0 L732.0,734.1 L733.0,759.4 L734.0,736.9 L735.0,786.1 L736.0,734.2 L737.0,753.7 L738.0,733.2 L739.0,740.9 L740.0,733.0 L741.0,741.0 L742.0,733.1 L743.0,752.8 L744.0,732.8 L745.0,748.3 L746.0,733.4 L747.0,742.3 L748.0,733.6 L749.0,744.4 L750.0,734.0 L751.0,755.5 L752.0,734.5 L753.0,769.6 L754.0,779.5 L754.5,784.1 L755.0,768.5 L756.0,765.6 L757.0,735.3 L758.0,749.7 L759.0,734.1 L760.0,749.7 L761.0,733.6 L762.0,744.3 L763.0,732.9 L764.0,754.7 L765.0,735.8 L766.0,791.7 L767.0,734.7 L768.0,757.2 L769.0,734.2 L770.0,763.6 L771.0,733.7 L772.0,767.7 L773.0,736.7 L774.0,775.0 L775.0,733.1 L776.0,770.8 L776.5,776.0 L777.0,773.6 L778.0,733.0 L779.0,742.4 L780.0,733.8 L781.0,753.7 L782.0,734.8 L783.0,791.4 L783.5,800.3 L784.0,761.8 L785.0,773.6 L786.0,733.3 L787.0,735.6 L788.0,733.7 L789.0,762.3 L790.0,733.1 L791.0,747.3 L792.0,733.6 L793.0,748.3 L794.0,735.0 L795.0,762.3 L796.0,733.1 L797.0,752.3 L798.0,734.0 L799.0,754.3 L800.0,733.9 L801.0,764.9 L802.0,769.3 L803.0,736.8 L804.0,765.7 L805.0,736.5 L806.0,761.9 L807.0,735.3 L808.0,755.5 L809.0,735.1 L810.0,769.3 L811.0,736.2 L812.0,774.6 L813.0,756.8 L813.5,795.6 L814.0,778.1 L815.0,772.8 L816.0,732.8 L817.0,756.8 L818.0,733.0 L819.0,734.6 L820.0,732.9 L821.0,743.3 L822.0,733.4 L823.0,748.4 L823.5,750.6 L824.0,732.9 L825.0,756.0 L826.0,733.8 L827.0,741.1 L828.0,735.2 L829.0,762.5 L830.0,736.8 L831.0,784.6 L832.0,800.0 L833.0,857.0 L834.0,836.0 L835.0,781.3 L836.0,790.6 L837.0,735.8 L838.0,761.4 L839.0,733.2 L840.0,742.5 L841.0,733.1 L842.0,748.4 L843.0,732.8 L844.0,745.5 L845.0,733.1 L846.0,741.7 L847.0,733.4 L848.0,747.7 L849.0,734.9 L850.0,753.0 L850.5,755.1 L851.0,733.9 L852.0,755.6 L853.0,733.6 L854.0,739.7 L855.0,733.2 L856.0,741.2 L857.0,732.8 L858.0,756.3 L859.0,733.1 L860.0,738.8 L861.0,733.1 L862.0,743.0 L863.0,733.2 L864.0,748.3 L865.0,733.1 L866.0,755.7 L867.0,733.6 L868.0,746.6 L869.0,753.0 L870.0,733.4 L871.0,756.1 L872.0,733.0 L873.0,749.3 L874.0,733.4 L875.0,759.0 L876.0,734.7 L877.0,753.1 L878.0,734.4 L879.0,774.6 L879.5,779.1 L880.0,736.1 L881.0,763.9 L882.0,733.3 L883.0,750.9 L884.0,733.1 L885.0,754.3 L886.0,733.1 L887.0,755.8 L888.0,733.1 L889.0,762.2 L890.0,735.0 L890.5,776.8 L891.0,737.6 L892.0,764.6 L893.0,735.2 L894.0,770.7 L894.5,773.5 L895.0,775.0 L896.0,734.5 L897.0,748.3 L898.0,733.8 L899.0,738.2 L900.0,733.7 L901.0,749.3 L902.0,734.1 L903.0,757.4 L904.0,759.5 L905.0,733.8 L906.0,748.2 L907.0,733.4 L908.0,751.6 L909.0,733.4 L910.0,748.8 L911.0,733.1 L912.0,743.7 L913.0,748.3 L914.0,732.9 L915.0,741.5 L916.0,733.1 L917.0,737.5 L918.0,733.4 L919.0,743.5 L920.0,735.0 L921.0,765.9 L921.5,766.8 L922.0,734.4 L923.0,762.8 L924.0,732.9 L925.0,738.9 L926.0,733.1 L927.0,735.7 L928.0,733.0 L929.0,754.3 L930.0,741.3 L931.0,733.5 L932.0,748.1 L933.0,733.0 L934.0,747.5 L935.0,733.2 L936.0,810.4 L937.0,798.3 L938.0,845.0 L939.0,829.9 L940.0,862.1 L941.0,875.0 L942.0,849.1 L943.0,860.5 L944.0,841.5 L945.0,870.1 L946.0,885.0 L947.0,838.1 L948.0,823.9 L949.0,759.5 L950.0,762.9 L951.0,733.1 L952.0,738.2 L953.0,733.3 L954.0,753.5 L955.0,733.9 L956.0,754.5 L957.0,734.1 L958.0,763.3 L959.0,733.6 L960.0,777.9 L961.0,826.6 L962.0,879.6 L963.0,906.0 L964.0,904.3 L965.0,870.6 L966.0,895.8 L967.0,847.3 L968.0,846.5 L969.0,835.6 L970.0,845.6 L971.0,834.2 L972.0,875.0 L973.0,837.1 L974.0,823.4 L975.0,789.2 L976.0,781.6 L977.0,733.2 L978.0,739.4 L979.0,733.3 L980.0,746.5 L981.0,733.6 L982.0,756.4 L983.0,769.3 L984.0,733.5 L985.0,759.6 L986.0,734.0 L987.0,757.6 L988.0,790.5 L989.0,807.8 L990.0,817.0 L991.0,800.3 L992.0,809.0 L993.0,737.1 L994.0,771.5 L995.0,734.1 L996.0,773.0 L997.0,769.8 L998.0,787.7 L999.0,797.3 L1000.0,771.6 L1001.0,768.1 L1002.0,733.4 L1003.0,745.9 L1004.0,733.1 L1005.0,738.3 L1006.0,733.3 L1007.0,773.8 L1008.0,762.6 L1008.5,790.9 L1009.0,757.3 L1010.0,772.1 L1011.0,732.9 L1012.0,762.4 L1013.0,774.7 L1014.0,817.2 L1014.5,826.0 L1015.0,821.0 L1016.0,736.8 L1017.0,755.7 L1018.0,733.7 L1019.0,755.8 L1020.0,733.2 L1021.0,746.1 L1022.0,732.8 L1023.0,756.8 L1024.0,736.6 L1025.0,793.2 L1026.0,781.6 L1027.0,815.7 L1028.0,832.3 L1029.0,788.9 L1030.0,804.2 L1031.0,761.8 L1032.0,767.8 L1033.0,733.0 L1034.0,755.9 L1035.0,732.9 L1036.0,754.3 L1037.0,734.2 L1038.0,766.6 L1039.0,734.1 L1040.0,769.7 L1041.0,735.3 L1042.0,773.0 L1043.0,733.1 L1044.0,776.8 L1045.0,791.7 L1046.0,758.2 L1047.0,774.1 L1048.0,733.2 L1049.0,753.9 L1050.0,733.2 L1051.0,752.8 L1052.0,733.0 L1053.0,764.8 L1054.0,734.3 L1055.0,770.4 L1056.0,777.0 L1057.0,773.0 L1058.0,735.7 L1059.0,749.2 L1060.0,733.2 L1061.0,769.2 L1062.0,733.9 L1063.0,775.0 L1064.0,754.0 L1065.0,781.2 L1066.0,789.0 L1067.0,756.4 L1068.0,776.0 L1069.0,735.0 L1070.0,768.2 L1071.0,735.6 L1072.0,780.6 L1073.0,790.3 L1074.0,763.6 L1075.0,773.7 L1076.0,734.6 L1077.0,760.2 L1078.0,733.9 L1079.0,756.5 L1080.0,734.8 L1081.0,772.5 L1082.0,771.6 L1083.0,805.0 L1084.0,778.5 L1085.0,781.4 L1086.0,734.6 L1087.0,752.7 L1088.0,733.0 L1089.0,740.8 L1090.0,733.0 L1091.0,737.4 L1092.0,732.9 L1093.0,752.8 L1094.0,732.9 L1095.0,769.0 L1096.0,732.8 L1097.0,773.3 L1098.0,734.4 L1099.0,775.9 L1100.0,766.5 L1101.0,779.1 L1102.0,768.9 L1103.0,785.0 L1104.0,767.6 L1105.0,775.3 L1106.0,734.3 L1107.0,801.0 L1107.5,821.8 L1108.0,800.0 L1109.0,816.1 L1110.0,781.2 L1111.0,793.8 L1112.0,733.7 L1113.0,764.2 L1114.0,734.2 L1115.0,746.6 L1116.0,733.1 L1117.0,737.2 L1118.0,733.1 L1119.0,743.8 L1120.0,732.8 L1121.0,744.8 L1122.0,733.1 L1123.0,739.3 L1124.0,733.0 L1125.0,750.4 L1126.0,735.0 L1127.0,761.0 L1128.0,736.8 L1129.0,779.1 L1130.0,734.9 L1131.0,755.1 L1132.0,732.9 L1133.0,741.2 L1134.0,733.2 L1135.0,764.3 L1136.0,775.0 L1137.0,733.7 L1138.0,772.2 L1139.0,783.3 L1140.0,761.5 L1141.0,780.1 L1142.0,735.1 L1143.0,756.7 L1144.0,734.2 L1145.0,754.3 L1146.0,733.1 L1147.0,752.6 L1148.0,734.3 L1149.0,769.3 L1150.0,733.8 L1151.0,762.8 L1152.0,732.9 L1153.0,751.3 L1154.0,733.7 L1155.0,751.6 L1156.0,733.3 L1157.0,770.9 L1158.0,757.1 L1158.5,799.8 L1159.0,768.0 L1160.0,777.0 L1161.0,733.5 L1162.0,753.0 L1163.0,735.6 L1164.0,775.0 L1165.0,764.4 L1166.0,795.7 L1167.0,804.3 L1168.0,772.2 L1169.0,782.6 L1170.0,776.5 L1171.0,797.6 L1172.0,781.0 L1173.0,806.8 L1174.0,787.4 L1175.0,819.0 L1176.0,796.1 L1177.0,807.6 L1178.0,789.8 L1179.0,764.1 L1180.0,736.2 L1181.0,814.8 L1182.0,804.9 L1183.0,836.8 L1184.0,861.0 L1185.0,823.0 L1186.0,824.8 L1187.0,735.9 L1188.0,775.5 L1189.0,758.2 L1190.0,808.4 L1191.0,799.1 L1192.0,839.9 L1193.0,861.7 L1194.0,837.1 L1195.0,839.3 L1196.0,808.7 L1197.0,809.2 L1198.0,780.0 L1199.0,800.2 L1200.0,762.8 L1201.0,784.5 L1202.0,772.2 L1203.0,774.8 L1204.0,734.1 L1205.0,768.6 L1206.0,736.8 L1207.0,764.7 L1208.0,735.6 L1209.0,769.0 L1210.0,734.8 L1211.0,775.0 L1212.0,733.9 L1213.0,770.7 L1214.0,735.9 L1215.0,772.8 L1216.0,765.8 L1217.0,785.0 L1218.0,734.0 L1219.0,764.9 L1220.0,734.8 L1221.0,748.6 L1222.0,734.6 L1223.0,755.7 L1224.0,734.0 L1225.0,751.0 L1226.0,734.1 L1227.0,749.4 L1228.0,734.2 L1229.0,744.2 L1230.0,733.3 L1231.0,736.9 L1232.0,733.0 L1233.0,737.9 L1234.0,732.9 L1235.0,752.5 L1236.0,733.0 L1237.0,739.8 L1238.0,733.1 L1239.0,756.8 L1240.0,732.8 L1241.0,738.2 L1242.0,733.3 L1243.0,747.4 L1244.0,748.3 L1245.0,733.3 L1246.0,747.8 L1247.0,736.2 L1248.0,764.0 L1249.0,770.0 L1250.0,765.5 L1251.0,733.1 L1252.0,748.3 L1253.0,732.9 L1254.0,736.0 L1255.0,733.0 L1256.0,744.3 L1257.0,733.0 L1258.0,750.6 L1259.0,735.4 L1260.0,777.7 L1261.0,775.1 L1262.0,797.2 L1263.0,788.7 L1264.0,804.3 L1265.0,786.3 L1266.0,810.8 L1267.0,797.9 L1268.0,812.8 L1269.0,788.7 L1270.0,825.3 L1271.0,802.2 L1272.0,798.0 L1273.0,770.4 L1274.0,765.3 L1275.0,735.5 L1276.0,765.3 L1277.0,733.0 L1278.0,783.6 L1279.0,798.9 L1280.0,833.8 L1281.0,821.7 L1282.0,857.5 L1282.5,850.0 L1283.0,815.9 L1284.0,827.1 L1285.0,782.7 L1286.0,804.0 L1287.0,783.3 L1288.0,807.5 L1289.0,800.0 L1290.0,860.0 L1291.0,826.3 L1292.0,846.9 L1293.0,828.7 L1294.0,857.5 L1295.0,867.5 L1296.0,826.2 L1297.0,827.6 L1298.0,736.0 L1299.0,760.2 L1300.0,733.6 L1301.0,746.3 L1302.0,733.6 L1303.0,739.4 L1304.0,732.9 L1305.0,798.1 L1306.0,775.4 L1307.0,818.2 L1307.5,827.5 L1308.0,795.0 L1309.0,808.4 L1310.0,800.0 L1311.0,737.3 L1312.0,828.8 L1313.0,819.6 L1313.8,867.5 L1315.0,827.1 L1316.0,822.1 L1317.0,776.3 L1318.0,831.5 L1319.0,831.9 L1320.0,873.3 L1320.5,881.3 L1321.0,858.4 L1322.0,849.7 L1323.0,836.1 L1324.0,871.2 L1325.0,888.3 L1326.0,848.1 L1327.0,872.4 L1328.0,846.9 L1329.0,861.6 L1330.0,893.6 L1331.2,928.6 L1332.0,882.7 L1333.0,889.7 L1334.0,848.7 L1335.0,826.2 L1336.0,761.4 L1337.0,764.7 L1338.0,734.0 L1339.0,752.3 L1340.0,733.4 L1341.0,750.3 L1342.0,734.9 L1343.0,770.2 L1344.0,759.6 L1345.0,802.6 L1346.0,794.8 L1347.0,834.7 L1348.0,849.8 L1349.0,816.1 L1350.0,804.7 L1351.0,764.2 L1352.0,770.3 L1353.0,733.8 L1354.0,754.0 L1355.0,733.8 L1356.0,753.9 L1357.0,735.7 L1358.0,769.5 L1359.0,755.2 L1360.0,789.2 L1361.2,800.8 L1362.0,774.0 L1363.0,777.7 L1364.0,734.4 L1365.0,752.6 L1366.0,734.1 L1367.0,748.2 L1368.0,732.9 L1369.0,762.6 L1370.0,737.2 L1370.5,777.5 L1371.0,734.0 L1372.0,765.6 L1372.5,787.5 L1373.0,768.1 L1374.0,793.5 L1374.5,800.0 L1375.0,782.1 L1376.0,746.0 L1377.0,733.4 L1378.0,742.0 L1379.0,732.8 L1380.0,795.7 L1381.0,810.0 L1382.0,855.0 L1383.0,801.5 L1384.0,810.6 L1385.0,733.5 L1386.0,749.4 L1387.0,733.3 L1388.0,755.6 L1389.0,732.9 L1390.0,768.2 L1391.2,777.5 L1392.0,735.9 L1393.0,765.7 L1394.0,733.1 L1395.0,767.6 L1396.0,734.2 L1397.0,749.2 L1398.0,770.2 L1399.2,802.5 L1400.0,766.1 L1401.0,775.3 L1402.0,733.3 L1403.0,741.4 L1404.0,733.2 L1405.0,747.5 L1406.0,734.7 L1407.0,771.6 L1408.0,753.0 L1409.0,785.1 L1410.0,765.4 L1411.0,791.4 L1412.0,830.4 L1413.0,856.6 L1413.8,870.8 L1415.0,887.5 L1416.0,837.6 L1417.0,854.5 L1418.0,841.3 L1419.0,858.4 L1419.5,863.8 L1420.0,836.5 L1421.0,827.4 L1422.0,733.2 L1423.0,751.3 L1424.0,733.5 L1425.0,749.7 L1426.0,733.4 L1427.0,740.5 L1428.0,734.1 L1429.0,780.9 L1430.0,832.6 L1431.0,866.6 L1432.0,867.9 L1433.0,902.1 L1433.8,920.0 L1435.0,922.1 L1436.0,963.7 L1437.0,955.0 L1438.0,979.2 L1438.8,998.8 L1440.0,951.0 L1441.0,930.0 L1442.0,878.8 L1443.0,883.3 L1444.0,839.5 L1445.0,880.2 L1446.0,880.0 L1447.0,921.5 L1448.0,924.7 L1448.8,980.0 L1450.0,934.6 L1451.0,926.7 L1452.0,902.1 L1453.0,939.9 L1454.0,957.8 L1455.0,968.1 L1456.0,960.0 L1457.0,973.1 L1457.5,990.2 L1458.0,991.2 L1459.0,947.7 L1460.0,956.1 L1461.0,931.4 L1462.0,947.3 L1463.0,920.3 L1464.0,938.2 L1465.0,931.4 L1466.0,923.9 L1467.0,894.7 L1468.0,893.2 L1469.0,840.5 L1470.0,843.0 L1471.0,796.8 L1472.0,787.9 L1473.0,757.4 L1474.0,793.7 L1475.0,787.4 L1476.0,832.8 L1476.8,855.0 L1477.5,843.8 L1478.0,810.6 L1479.0,816.9 L1480.0,778.3 L1481.0,777.7 L1482.0,734.8 L1483.0,772.6 L1484.0,733.3 L1485.0,768.2 L1486.0,735.6 L1487.0,762.6 L1488.0,734.4 L1489.0,759.7 L1490.0,735.5 L1491.0,759.3 L1492.0,734.5 L1493.0,763.1 L1494.0,736.6 L1495.0,767.6 L1496.0,732.8 L1497.0,773.1 L1497.5,774.6 L1498.0,732.9 L1499.0,777.1 L1500.0,780.0 L1501.0,736.3 L1502.0,773.9 L1503.0,734.0 L1504.0,769.6 L1505.0,734.1 L1506.0,773.5 L1507.0,764.9 L1507.5,779.4 L1508.0,754.6 L1508.8,782.5 L1510.0,732.8 L1511.0,767.6 L1512.0,735.8 L1513.0,751.0 L1514.0,733.3 L1515.0,746.9 L1516.0,732.8 L1517.0,743.1 L1518.0,733.1 L1519.0,773.9 L1520.0,797.3" fill="none" stroke="#2E86AB" stroke-width="3.2"/><path d="M160.0,745.9 L161.0,733.5 L162.0,789.6 L163.0,834.0 L164.0,735.9 L165.0,751.4 L166.0,756.0 L167.0,735.1 L168.0,745.9 L169.0,733.8 L170.0,752.9 L171.0,734.0 L172.0,757.0 L173.0,734.2 L174.0,748.0 L175.0,733.1 L176.0,750.6 L177.0,733.8 L178.0,751.0 L179.0,754.7 L180.0,733.7 L181.0,735.8 L182.0,733.9 L183.0,750.2 L184.0,735.8 L184.5,765.7 L185.0,735.2 L186.0,746.4 L187.0,733.5 L188.0,755.3 L189.0,734.2 L190.0,755.2 L191.0,734.0 L192.0,797.3 L193.0,777.5 L194.0,799.2 L195.0,790.7 L196.0,817.0 L197.0,781.2 L198.0,784.1 L199.0,734.0 L200.0,746.8 L201.0,733.1 L202.0,755.1 L203.0,749.5 L204.0,734.1 L205.0,748.9 L206.0,733.3 L207.0,770.3 L207.5,775.8 L208.0,737.1 L209.0,764.5 L210.0,733.8 L211.0,792.1 L212.0,777.9 L213.0,803.4 L214.0,811.7 L214.5,836.3 L215.0,804.0 L216.0,843.9 L217.0,863.0 L218.0,829.0 L219.0,819.6 L220.0,769.8 L221.0,779.1 L222.0,734.3 L223.0,756.5 L224.0,732.8 L225.0,767.8 L226.0,770.0 L227.0,796.8 L228.0,802.0 L229.0,763.0 L230.0,789.9 L231.0,766.6 L232.0,786.9 L233.0,772.2 L234.0,788.5 L235.0,771.5 L236.0,796.6 L237.0,809.1 L237.5,836.4 L238.0,807.1 L239.0,799.8 L240.0,733.6 L241.0,753.6 L242.0,733.1 L243.0,754.3 L244.0,733.3 L245.0,754.0 L246.0,764.6 L247.0,818.9 L248.0,821.3 L248.5,851.6 L249.0,802.9 L250.0,784.8 L251.0,734.1 L252.0,754.3 L253.0,733.5 L254.0,760.0 L255.0,733.7 L256.0,753.0 L257.0,733.2 L258.0,742.8 L259.0,748.0 L260.0,733.7 L261.0,751.4 L262.0,734.8 L263.0,765.0 L264.0,733.0 L265.0,763.5 L266.0,769.0 L267.0,735.5 L268.0,761.4 L269.0,734.4 L270.0,738.5 L271.0,734.6 L272.0,770.8 L273.0,787.0 L274.0,764.0 L275.0,776.5 L276.0,733.8 L277.0,741.5 L278.0,733.0 L279.0,740.0 L280.0,732.9 L281.0,733.7 L282.0,734.6 L283.0,762.8 L284.0,768.0 L285.0,733.6 L286.0,760.6 L287.0,733.5 L288.0,765.4 L289.0,733.3 L290.0,773.6 L291.0,755.0 L292.0,784.0 L293.0,761.5 L294.0,771.5 L295.0,733.9 L296.0,754.0 L297.0,733.4 L298.0,738.6 L299.0,733.6 L300.0,752.2 L301.0,757.0 L302.0,734.8 L303.0,749.0 L304.0,733.0 L305.0,752.2 L306.0,733.4 L307.0,741.1 L308.0,732.8 L309.0,751.9 L310.0,732.9 L311.0,742.8 L312.0,733.0 L313.0,754.9 L314.0,732.9 L315.0,755.4 L316.0,735.4 L317.0,795.5 L317.5,810.8 L318.0,788.5 L319.0,808.8 L320.0,773.8 L321.0,797.9 L322.0,766.8 L323.0,787.5 L324.0,736.3 L325.0,763.2 L326.0,733.6 L327.0,753.6 L328.0,735.2 L329.0,779.0 L330.0,734.2 L331.0,764.5 L332.0,736.2 L333.0,762.3 L334.0,734.4 L335.0,756.8 L336.0,732.8 L337.0,772.0 L338.0,735.6 L339.0,755.3 L340.0,734.2 L341.0,742.7 L342.0,733.2 L343.0,741.0 L344.0,733.2 L345.0,749.3 L346.0,735.4 L347.0,769.9 L348.0,773.2 L349.0,823.0 L350.0,788.6 L351.0,811.4 L352.0,763.7 L353.0,771.7 L354.0,760.4 L355.0,803.8 L356.0,829.0 L357.0,781.3 L358.0,786.4 L359.0,733.0 L360.0,755.5 L361.0,734.0 L362.0,763.8 L362.5,769.9 L363.0,735.7 L364.0,751.4 L365.0,733.0 L366.0,755.3 L367.0,736.5 L368.0,771.5 L369.0,761.2 L370.0,784.0 L371.0,775.7 L372.0,820.7 L372.5,836.6 L373.0,803.0 L374.0,814.2 L375.0,774.6 L376.0,769.4 L377.0,733.2 L378.0,750.1 L378.5,752.5 L379.0,733.6 L380.0,744.1 L381.0,733.1 L382.0,751.6 L383.0,733.6 L384.0,757.0 L385.0,734.6 L386.0,746.5 L387.0,733.2 L388.0,751.2 L389.0,734.3 L390.0,771.0 L391.0,768.0 L392.0,789.8 L393.0,773.6 L394.0,803.8 L395.0,817.0 L396.0,767.5 L397.0,778.8 L398.0,755.0 L399.0,783.0 L400.0,737.4 L401.0,763.4 L402.0,733.8 L403.0,743.9 L404.0,744.0 L405.0,733.0 L406.0,748.7 L407.0,733.9 L408.0,748.8 L409.0,734.9 L410.0,767.0 L411.0,759.5 L412.0,787.8 L412.5,799.1 L413.0,790.6 L414.0,807.6 L415.0,801.1 L416.0,809.0 L417.0,803.7 L418.0,819.0 L419.0,779.0 L420.0,800.3 L421.0,732.8 L422.0,735.9 L423.0,735.0 L424.0,761.2 L425.0,736.9 L426.0,769.7 L427.0,733.0 L428.0,778.1 L429.0,764.4 L430.0,786.3 L431.0,790.0 L432.0,772.1 L433.0,776.1 L434.0,732.9 L435.0,746.3 L436.0,733.3 L437.0,739.5 L438.0,733.1 L439.0,750.9 L440.0,734.3 L441.0,776.9 L441.5,784.4 L442.0,781.2 L443.0,734.8 L444.0,748.6 L445.0,732.9 L446.0,756.2 L447.0,733.5 L448.0,751.6 L449.0,734.8 L450.0,784.0 L451.0,776.0 L451.5,813.1 L452.0,784.5 L453.0,789.2 L454.0,734.4 L455.0,747.6 L456.0,732.9 L457.0,754.8 L458.0,734.2 L458.5,756.6 L459.0,734.0 L460.0,748.6 L461.0,733.2 L462.0,753.6 L463.0,733.9 L464.0,766.8 L465.0,737.4 L466.0,774.5 L467.0,781.0 L467.5,781.0 L468.0,764.0 L469.0,780.4 L469.5,780.5 L470.0,758.9 L471.0,771.2 L472.0,732.9 L473.0,766.2 L474.0,733.5 L475.0,763.4 L476.0,735.5 L477.0,757.8 L478.0,734.2 L479.0,744.0 L480.0,733.7 L481.0,754.7 L482.0,734.5 L482.5,766.2 L483.0,764.6 L484.0,735.0 L485.0,746.8 L486.0,733.6 L487.0,744.0 L488.0,733.1 L489.0,745.0 L490.0,733.1 L491.0,749.0 L492.0,733.0 L493.0,738.6 L494.0,732.9 L495.0,741.4 L496.0,733.9 L497.0,754.4 L498.0,733.5 L499.0,764.1 L500.0,734.8 L501.0,774.8 L502.0,769.2 L503.0,782.5 L504.0,787.0 L505.0,765.3 L506.0,769.9 L507.0,735.6 L508.0,759.6 L509.0,734.1 L510.0,750.2 L511.0,733.7 L512.0,742.2 L513.0,733.1 L514.0,739.4 L515.0,773.4 L516.0,802.4 L517.0,814.3 L517.5,815.8 L518.0,776.5 L519.0,796.8 L520.0,773.5 L521.0,746.9 L522.0,733.6 L523.0,739.9 L524.0,733.1 L525.0,752.1 L526.0,733.0 L527.0,764.4 L528.0,736.2 L528.5,779.1 L529.0,735.6 L530.0,765.7 L531.0,764.2 L532.0,811.2 L533.0,790.1 L533.5,820.5 L534.0,791.4 L535.0,800.3 L536.0,735.5 L537.0,756.2 L538.0,734.3 L539.0,735.9 L540.0,733.1 L541.0,740.8 L542.0,733.0 L543.0,746.1 L544.0,733.2 L545.0,742.3 L546.0,733.1 L547.0,751.0 L548.0,732.9 L549.0,750.9 L550.0,734.0 L551.0,763.8 L552.0,768.9 L552.5,789.8 L553.0,764.8 L554.0,764.1 L555.0,734.0 L556.0,751.3 L557.0,733.3 L558.0,748.6 L559.0,734.4 L560.0,764.5 L561.0,735.0 L562.0,753.1 L563.0,732.9 L564.0,735.8 L565.0,732.9 L566.0,750.3 L567.0,733.0 L568.0,742.8 L569.0,759.3 L570.0,792.1 L571.0,801.0 L572.0,766.0 L573.0,788.5 L574.0,772.4 L575.0,779.3 L576.0,766.4 L577.0,773.4 L578.0,733.7 L579.0,764.9 L580.0,732.9 L581.0,759.9 L582.0,735.6 L583.0,753.9 L584.0,734.0 L585.0,783.5 L586.0,757.2 L587.0,797.9 L587.5,803.3 L588.0,782.5 L589.0,792.9 L590.0,756.7 L591.0,756.0 L592.0,734.3 L593.0,751.3 L594.0,733.1 L595.0,745.4 L596.0,733.1 L597.0,739.0 L598.0,732.9 L599.0,735.5 L600.0,734.0 L601.0,770.8 L602.0,762.2 L603.0,798.9 L604.0,781.7 L605.0,827.9 L606.0,824.2 L607.0,870.7 L608.0,882.9 L608.5,905.0 L609.0,881.8 L610.0,885.1 L611.0,875.6 L612.0,876.2 L613.0,842.7 L614.0,883.1 L615.0,875.6 L616.0,920.3 L617.0,927.5 L618.0,951.2 L619.0,935.1 L620.0,967.0 L621.0,946.8 L622.0,983.0 L623.0,937.6 L624.0,939.5 L625.0,903.9 L626.0,930.6 L627.0,895.8 L628.0,916.3 L629.0,891.8 L630.0,905.1 L631.0,884.0 L632.0,871.0 L633.0,858.9 L634.0,856.5 L635.0,843.5 L636.0,846.9 L637.0,816.6 L638.0,848.6 L639.0,839.6 L640.0,865.2 L641.0,858.5 L642.0,880.4 L643.0,869.1 L644.0,902.5 L645.0,907.6 L646.0,935.0 L647.0,894.9 L647.5,925.0 L648.0,892.7 L649.0,905.8 L650.0,888.2 L651.0,892.1 L652.0,859.2 L653.0,863.0 L654.0,847.5 L655.0,849.0 L656.0,810.9 L657.0,803.7 L658.0,768.7 L659.0,754.0 L660.0,733.2 L661.0,742.5 L662.0,733.1 L663.0,747.7 L664.0,733.2 L665.0,758.6 L666.0,732.9 L667.0,767.0 L668.0,734.7 L669.0,769.2 L670.0,733.1 L671.0,778.1 L672.0,785.0 L673.0,783.7 L674.0,765.2 L675.0,777.2 L676.0,754.7 L677.0,786.7 L678.0,781.8 L679.0,809.6 L680.0,816.0 L681.0,849.0 L682.0,847.7 L683.0,819.8 L684.0,839.1 L685.0,825.7 L686.0,826.6 L687.0,799.9 L688.0,837.6 L689.0,828.3 L690.0,874.3 L691.0,872.3 L691.5,915.4 L692.0,889.0 L693.0,881.9 L694.0,853.7 L695.0,846.4 L696.0,798.3 L697.0,801.2 L698.0,773.5 L699.0,778.8 L700.0,775.0 L701.0,737.3 L702.0,767.2 L703.0,732.9 L704.0,767.0 L705.0,790.0 L706.0,733.0 L707.0,759.5 L708.0,736.6 L709.0,772.3 L710.0,763.1 L711.0,787.5 L712.0,760.7 L713.0,800.3 L713.5,801.9 L714.0,796.2 L715.0,785.0 L716.0,785.0 L717.0,769.5 L718.0,779.5 L719.0,734.0 L720.0,760.8 L721.0,733.1 L722.0,753.7 L723.0,733.2 L724.0,766.6 L725.0,736.2 L726.0,789.1 L727.0,788.7 L728.0,816.6 L728.5,825.6 L729.0,820.0 L730.0,773.2 L731.0,784.3 L732.0,759.6 L733.0,771.4 L734.0,735.0 L735.0,811.0 L736.0,772.7 L737.0,764.4 L738.0,733.7 L739.0,755.4 L740.0,734.3 L741.0,748.6 L742.0,733.5 L743.0,749.9 L744.0,732.8 L745.0,749.5 L746.0,733.4 L747.0,749.1 L748.0,732.9 L749.0,745.0 L750.0,733.1 L751.0,748.2 L752.0,733.7 L753.0,744.8 L754.0,749.5 L755.0,734.3 L756.0,748.7 L757.0,733.6 L758.0,751.5 L759.0,735.3 L760.0,758.1 L761.0,765.0 L762.0,733.2 L763.0,756.5 L764.0,733.5 L765.0,773.1 L766.0,796.0 L767.0,736.2 L768.0,772.0 L769.0,768.2 L770.0,789.9 L770.5,794.2 L771.0,775.6 L772.0,781.6 L773.0,734.9 L774.0,764.4 L775.0,734.9 L776.0,741.6 L777.0,755.0 L778.0,733.5 L779.0,779.0 L780.0,733.2 L781.0,764.6 L782.0,732.9 L783.0,764.5 L784.0,735.2 L785.0,754.2 L786.0,732.9 L787.0,763.6 L788.0,755.1 L788.5,787.5 L789.0,786.2 L790.0,758.9 L791.0,751.1 L792.0,734.1 L793.0,763.3 L794.0,763.5 L794.5,789.4 L795.0,786.4 L796.0,733.4 L797.0,774.4 L798.0,759.3 L799.0,797.3 L800.0,790.6 L801.0,819.8 L802.0,832.3 L803.0,841.0 L804.0,803.2 L805.0,817.0 L806.0,795.5 L807.0,818.6 L808.0,817.0 L808.5,833.3 L809.0,803.5 L810.0,813.7 L811.0,770.0 L812.0,782.6 L813.0,734.9 L814.0,748.9 L815.0,733.2 L816.0,740.8 L817.0,732.9 L818.0,743.0 L819.0,732.9 L820.0,739.5 L821.0,733.6 L822.0,753.8 L823.0,743.0 L824.0,733.4 L825.0,755.2 L826.0,733.3 L827.0,755.6 L828.0,734.2 L829.0,749.4 L830.0,734.7 L831.0,756.7 L832.0,736.4 L833.0,770.7 L834.0,781.0 L835.0,733.7 L836.0,762.2 L837.0,733.7 L838.0,748.8 L839.0,732.8 L840.0,739.8 L841.0,733.4 L842.0,750.6 L843.0,734.3 L844.0,750.0 L845.0,733.5 L846.0,754.0 L847.0,733.3 L848.0,761.1 L849.0,736.6 L850.0,774.9 L850.5,780.0 L851.0,734.7 L852.0,760.8 L853.0,733.3 L854.0,745.8 L855.0,733.1 L856.0,739.6 L857.0,733.5 L858.0,753.3 L859.0,762.0 L860.0,733.6 L861.0,752.2 L862.0,732.8 L863.0,753.5 L864.0,762.5 L864.5,766.2 L865.0,734.8 L866.0,753.5 L867.0,732.9 L868.0,744.0 L869.0,733.2 L870.0,756.3 L871.0,732.8 L872.0,735.7 L873.0,733.0 L874.0,736.7 L875.0,733.1 L876.0,740.3 L877.0,733.2 L878.0,755.6 L879.0,764.5 L880.0,733.6 L881.0,748.2 L882.0,733.5 L883.0,754.7 L884.0,735.8 L885.0,773.0 L886.0,733.7 L887.0,753.5 L888.0,758.3 L889.0,801.8 L890.0,792.5 L890.5,834.0 L891.0,802.8 L892.0,802.0 L893.0,771.9 L894.0,748.2 L895.0,733.8 L896.0,745.6 L897.0,749.5 L898.0,733.7 L899.0,752.3 L900.0,733.7 L901.0,754.0 L902.0,733.7 L903.0,795.0 L904.0,794.3 L905.0,778.3 L906.0,791.5 L907.0,753.4 L908.0,773.5 L909.0,734.0 L910.0,752.1 L911.0,733.2 L912.0,744.9 L913.0,749.5 L914.0,733.2 L915.0,742.7 L916.0,733.2 L917.0,755.2 L918.0,733.3 L919.0,746.6 L920.0,734.0 L921.0,763.0 L922.0,734.4 L923.0,757.5 L924.0,735.4 L925.0,753.4 L926.0,733.6 L927.0,754.3 L928.0,733.4 L929.0,739.7 L930.0,742.0 L931.0,733.5 L932.0,742.0 L933.0,733.0 L934.0,739.3 L935.0,735.1 L936.0,804.7 L937.0,812.2 L938.0,835.7 L939.0,819.6 L940.0,838.6 L941.0,834.2 L942.0,844.5 L943.0,819.5 L944.0,852.8 L945.0,853.1 L946.0,877.0 L947.0,825.2 L948.0,799.7 L949.0,734.5 L950.0,752.9 L951.0,733.0 L952.0,737.9 L953.0,733.0 L954.0,741.9 L955.0,734.2 L956.0,779.6 L957.0,772.1 L958.0,795.0 L959.0,766.6 L960.0,781.0 L961.0,780.2 L962.0,854.6 L963.0,853.6 L964.0,881.0 L965.0,848.7 L966.0,873.7 L967.0,885.0 L968.0,829.2 L969.0,842.1 L970.0,813.3 L971.0,828.7 L972.0,828.3 L973.0,804.5 L974.0,803.6 L975.0,733.5 L976.0,753.0 L977.0,733.8 L978.0,755.9 L979.0,733.1 L980.0,735.8 L981.0,734.8 L982.0,802.9 L983.0,831.0 L984.0,790.1 L985.0,781.4 L986.0,733.2 L987.0,757.6 L988.0,755.5 L989.0,788.3 L990.0,784.7 L991.0,810.0 L992.0,823.7 L993.0,837.0 L994.0,785.1 L995.0,804.9 L996.0,801.0 L997.0,825.9 L998.0,809.2 L999.0,857.0 L1000.0,808.0 L1001.0,803.3 L1002.0,733.8 L1003.0,746.8 L1004.0,733.1 L1005.0,746.5 L1006.0,733.2 L1007.0,773.4 L1008.0,762.2 L1008.5,784.4 L1009.0,755.6 L1010.0,772.3 L1011.0,736.1 L1012.0,766.5 L1013.0,769.9 L1014.0,821.0 L1014.5,827.7 L1015.0,829.0 L1016.0,810.0 L1017.0,815.8 L1018.0,782.1 L1019.0,771.8 L1020.0,733.1 L1021.0,739.9 L1022.0,732.8 L1023.0,833.9 L1024.0,826.2 L1025.0,878.9 L1026.0,870.1 L1027.0,910.3 L1027.5,922.7 L1028.0,911.2 L1029.0,858.1 L1030.0,856.6 L1031.0,820.6 L1032.0,808.9 L1033.0,772.4 L1034.0,764.0 L1035.0,733.2 L1036.0,740.4 L1037.0,732.9 L1038.0,756.3 L1039.0,733.6 L1040.0,752.8 L1041.0,733.4 L1042.0,756.9 L1043.0,733.3 L1044.0,778.3 L1045.0,796.0 L1046.0,761.1 L1047.0,777.5 L1048.0,735.8 L1049.0,756.0 L1050.0,733.3 L1051.0,754.1 L1052.0,735.7 L1053.0,765.0 L1054.0,736.0 L1055.0,754.2 L1056.0,733.8 L1057.0,749.5 L1058.0,732.9 L1059.0,753.1 L1060.0,733.7 L1061.0,753.3 L1062.0,733.0 L1063.0,741.6 L1064.0,732.9 L1065.0,754.0 L1066.0,733.2 L1067.0,749.9 L1068.0,733.6 L1069.0,801.0 L1070.0,789.5 L1071.0,816.8 L1072.0,808.8 L1073.0,837.0 L1074.0,792.4 L1075.0,801.6 L1076.0,762.8 L1077.0,795.1 L1078.0,798.0 L1079.0,829.0 L1080.0,786.9 L1081.0,783.4 L1082.0,784.7 L1083.0,813.0 L1084.0,827.0 L1085.0,793.1 L1086.0,782.2 L1087.0,734.3 L1088.0,765.0 L1089.0,735.7 L1090.0,756.1 L1091.0,735.0 L1092.0,765.6 L1093.0,777.0 L1094.0,734.8 L1095.0,765.0 L1096.0,735.8 L1097.0,775.0 L1098.0,732.9 L1099.0,741.9 L1100.0,733.1 L1101.0,739.7 L1102.0,733.0 L1103.0,747.2 L1104.0,733.0 L1105.0,759.7 L1106.0,732.8 L1107.0,808.4 L1107.5,828.2 L1108.0,814.0 L1109.0,818.0 L1110.0,796.4 L1111.0,795.6 L1112.0,762.6 L1113.0,765.9 L1114.0,733.9 L1115.0,756.3 L1116.0,733.4 L1117.0,743.4 L1118.0,733.1 L1119.0,765.0 L1120.0,774.6 L1121.0,803.0 L1122.0,764.5 L1123.0,763.5 L1124.0,735.2 L1125.0,748.1 L1126.0,734.2 L1127.0,764.2 L1128.0,734.7 L1129.0,782.5 L1130.0,733.2 L1131.0,756.3 L1132.0,734.7 L1133.0,746.6 L1134.0,732.9 L1135.0,744.1 L1136.0,734.6 L1137.0,783.1 L1138.0,777.0 L1139.0,805.0 L1140.0,770.8 L1141.0,805.6 L1142.0,784.9 L1143.0,812.6 L1144.0,827.0 L1145.0,787.7 L1146.0,784.6 L1147.0,733.0 L1148.0,773.4 L1149.0,790.0 L1150.0,805.0 L1151.0,783.9 L1152.0,801.0 L1153.0,767.3 L1154.0,792.3 L1155.0,759.4 L1156.0,755.4 L1157.0,735.0 L1158.0,791.6 L1158.5,804.5 L1159.0,783.9 L1160.0,781.8 L1161.0,775.2 L1162.0,802.0 L1163.0,780.6 L1164.0,830.6 L1165.0,827.2 L1166.0,879.0 L1167.0,858.0 L1168.0,816.2 L1169.0,806.1 L1170.0,771.5 L1171.0,765.5 L1172.0,734.6 L1173.0,775.4 L1174.0,770.3 L1175.0,784.0 L1176.0,735.0 L1177.0,769.1 L1178.0,733.8 L1179.0,764.9 L1180.0,734.3 L1181.0,799.9 L1182.0,792.0 L1183.0,808.1 L1184.0,815.0 L1185.0,798.6 L1186.0,826.3 L1187.0,812.6 L1188.0,848.0 L1189.0,842.6 L1190.0,880.2 L1191.0,903.8 L1192.0,948.6 L1193.0,978.0 L1193.5,990.5 L1194.0,961.6 L1195.0,947.5 L1196.0,896.6 L1197.0,880.5 L1198.0,864.4 L1199.0,876.0 L1200.0,889.0 L1201.0,836.4 L1202.0,843.7 L1203.0,810.5 L1204.0,819.3 L1205.0,793.4 L1206.0,826.2 L1207.0,814.9 L1208.0,859.0 L1209.0,827.9 L1210.0,828.3 L1211.0,815.0 L1212.0,794.3 L1213.0,845.0 L1214.0,815.5 L1215.0,825.0 L1216.0,792.0 L1217.0,800.3 L1218.0,785.5 L1219.0,818.9 L1220.0,833.0 L1221.0,787.7 L1222.0,798.7 L1223.0,773.2 L1224.0,801.0 L1225.0,822.3 L1226.0,841.0 L1227.0,783.4 L1228.0,787.9 L1229.0,734.9 L1230.0,767.9 L1231.0,735.1 L1232.0,775.0 L1233.0,735.4 L1234.0,764.5 L1235.0,733.1 L1236.0,751.3 L1237.0,733.2 L1238.0,754.0 L1239.0,733.1 L1240.0,752.9 L1241.0,733.4 L1242.0,741.9 L1243.0,734.6 L1244.0,760.0 L1244.5,761.6 L1245.0,735.1 L1246.0,753.8 L1247.0,733.0 L1248.0,749.5 L1249.0,734.0 L1250.0,757.0 L1251.0,733.4 L1252.0,746.1 L1253.0,786.1 L1254.0,818.7 L1254.5,828.4 L1255.0,830.0 L1256.0,800.9 L1257.0,797.9 L1258.0,772.2 L1259.0,766.5 L1260.0,811.5 L1261.0,827.3 L1262.0,822.0 L1263.0,847.2 L1264.0,842.5 L1265.0,870.2 L1266.0,880.7 L1267.0,896.5 L1268.0,875.7 L1269.0,913.5 L1270.0,916.9 L1271.0,894.7 L1272.0,920.0 L1273.0,873.5 L1274.0,855.1 L1275.0,807.2 L1276.0,755.4 L1277.0,732.9 L1278.0,744.2 L1279.0,733.1 L1280.0,755.9 L1281.0,733.5 L1282.0,788.0 L1282.5,802.0 L1283.0,770.8 L1284.0,776.5 L1285.0,733.6 L1286.0,756.9 L1287.0,734.3 L1288.0,749.3 L1289.0,734.8 L1290.0,763.8 L1291.0,734.9 L1292.0,805.9 L1293.0,795.0 L1294.0,820.3 L1295.0,830.0 L1296.0,803.0 L1297.0,804.1 L1298.0,734.0 L1299.0,761.4 L1300.0,735.9 L1301.0,773.6 L1302.0,761.3 L1302.5,792.5 L1303.0,767.2 L1304.0,773.8 L1305.0,734.7 L1306.0,753.2 L1307.0,733.0 L1308.0,767.6 L1309.0,768.3 L1310.0,792.6 L1311.0,756.5 L1312.0,766.2 L1313.0,735.1 L1314.0,750.0 L1315.0,733.0 L1316.0,785.9 L1317.0,785.5 L1318.0,844.4 L1319.0,855.1 L1320.0,874.7 L1320.5,892.0 L1321.0,848.0 L1322.0,863.8 L1323.0,843.4 L1324.0,879.8 L1325.0,899.5 L1326.0,876.4 L1327.0,877.0 L1328.0,860.4 L1329.0,888.9 L1330.0,905.1 L1331.2,942.6 L1332.0,913.7 L1333.0,897.5 L1334.0,857.9 L1335.0,838.5 L1336.0,793.2 L1337.0,765.7 L1338.0,734.3 L1339.0,787.9 L1340.0,781.3 L1340.5,810.0 L1341.0,768.5 L1342.0,791.2 L1343.0,734.1 L1344.0,852.1 L1345.0,864.2 L1346.0,885.7 L1347.0,888.8 L1348.0,940.2 L1348.8,957.5 L1350.0,901.1 L1351.0,871.6 L1352.0,832.4 L1353.0,826.0 L1354.0,776.0 L1355.0,801.0 L1356.0,770.2 L1357.0,762.4 L1358.0,735.1 L1359.0,784.0 L1360.0,775.4 L1361.2,805.7 L1362.0,779.1 L1363.0,779.9 L1364.0,736.2 L1365.0,753.9 L1366.0,733.7 L1367.0,745.1 L1368.0,733.4 L1369.0,747.1 L1370.0,733.1 L1371.0,741.9 L1372.0,733.3 L1372.5,745.7 L1373.0,733.1 L1374.0,743.1 L1375.0,762.5 L1376.0,733.9 L1377.0,748.7 L1378.0,733.7 L1379.0,753.1 L1380.0,734.0 L1381.0,779.4 L1382.0,802.0 L1383.0,759.1 L1384.0,770.4 L1385.0,735.8 L1386.0,750.7 L1387.0,764.1 L1387.5,790.0 L1388.0,773.6 L1389.0,778.0 L1390.0,733.6 L1391.0,756.8 L1392.0,733.0 L1393.0,749.9 L1394.0,733.6 L1395.0,770.1 L1396.0,735.9 L1397.0,749.7 L1398.0,733.4 L1399.0,749.8 L1400.0,733.4 L1401.0,739.6 L1402.0,759.5 L1402.5,787.5 L1403.0,767.2 L1404.0,743.7 L1405.0,781.5 L1406.0,806.4 L1407.0,823.8 L1408.0,783.6 L1409.0,786.5 L1410.0,760.6 L1411.0,795.5 L1412.0,774.7 L1413.0,814.7 L1413.8,828.2 L1415.0,802.2 L1416.0,803.1 L1417.0,772.1 L1418.0,787.8 L1419.0,761.7 L1420.0,768.1 L1421.0,734.8 L1422.0,755.9 L1423.0,732.8 L1424.0,749.0 L1425.0,734.0 L1426.0,749.9 L1427.0,733.2 L1428.0,753.6 L1429.0,763.9 L1430.0,887.0 L1431.0,899.0 L1432.0,935.0 L1433.0,893.9 L1433.8,914.6 L1435.0,882.7 L1436.0,853.8 L1437.0,848.2 L1438.0,867.9 L1438.8,882.6 L1440.0,824.4 L1441.0,825.0 L1442.0,768.9 L1443.0,818.7 L1444.0,826.6 L1445.0,855.6 L1446.0,862.2 L1447.0,877.1 L1448.0,873.0 L1448.8,907.5 L1450.0,874.6 L1451.0,885.6 L1452.0,874.8 L1453.0,881.0 L1454.0,887.2 L1455.0,905.3 L1456.2,925.0 L1457.0,892.8 L1457.5,900.0 L1458.0,856.9 L1459.0,868.1 L1460.0,845.6 L1461.0,851.3 L1462.0,834.2 L1463.0,831.8 L1464.0,769.7 L1465.0,786.6 L1466.0,756.8 L1467.0,767.3 L1468.0,733.6 L1469.0,752.6 L1470.0,733.9 L1471.0,739.8 L1472.0,733.6 L1473.0,745.5 L1474.0,768.7 L1475.0,805.3 L1476.2,830.0 L1477.0,805.2 L1477.5,815.0 L1478.0,788.2 L1479.0,770.8 L1480.0,736.3 L1481.0,757.5 L1482.0,734.8 L1483.0,756.3 L1484.0,733.0 L1485.0,754.4 L1486.0,732.9 L1487.0,755.5 L1488.0,733.1 L1489.0,754.6 L1490.0,733.5 L1491.0,750.9 L1492.0,735.4 L1493.0,776.0 L1494.0,768.3 L1494.5,787.5 L1495.0,765.2 L1496.0,776.5 L1497.0,732.9 L1497.5,777.6 L1498.0,737.4 L1499.0,762.4 L1500.0,735.4 L1501.0,751.4 L1502.0,734.6 L1503.0,746.7 L1504.0,734.4 L1505.0,754.4 L1506.0,733.8 L1507.0,760.3 L1507.5,764.5 L1508.0,734.8 L1509.0,759.7 L1510.0,734.3 L1511.0,754.4 L1512.0,734.7 L1513.0,752.5 L1514.0,732.9 L1515.0,740.2 L1516.0,733.0 L1517.0,807.3 L1518.0,783.9 L1518.8,825.0 L1520.0,820.0 L1520.0,732.8 L160.0,732.8 Z" fill="#A23B72" fill-opacity="0.3" stroke="none"/><path d="M160.0,745.9 L161.0,733.5 L162.0,789.6 L163.0,834.0 L164.0,735.9 L165.0,751.4 L166.0,756.0 L167.0,735.1 L168.0,745.9 L169.0,733.8 L170.0,752.9 L171.0,734.0 L172.0,757.0 L173.0,734.2 L174.0,748.0 L175.0,733.1 L176.0,750.6 L177.0,733.8 L178.0,751.0 L179.0,754.7 L180.0,733.7 L181.0,735.8 L182.0,733.9 L183.0,750.2 L184.0,735.8 L184.5,765.7 L185.0,735.2 L186.0,746.4 L187.0,733.5 L188.0,755.3 L189.0,734.2 L190.0,755.2 L191.0,734.0 L192.0,797.3 L193.0,777.5 L194.0,799.2 L195.0,790.7 L196.0,817.0 L197.0,781.2 L198.0,784.1 L199.0,734.0 L200.0,746.8 L201.0,733.1 L202.0,755.1 L203.0,749.5 L204.0,734.1 L205.0,748.9 L206.0,733.3 L207.0,770.3 L207.5,775.8 L208.0,737.1 L209.0,764.5 L210.0,733.8 L211.0,792.1 L212.0,777.9 L213.0,803.4 L214.0,811.7 L214.5,836.3 L215.0,804.0 L216.0,843.9 L217.0,863.0 L218.0,829.0 L219.0,819.6 L220.0,769.8 L221.0,779.1 L222.0,734.3 L223.0,756.5 L224.0,732.8 L225.0,767.8 L226.0,770.0 L227.0,796.8 L228.0,802.0 L229.0,763.0 L230.0,789.9 L231.0,766.6 L232.0,786.9 L233.0,772.2 L234.0,788.5 L235.0,771.5 L236.0,796.6 L237.0,809.1 L237.5,836.4 L238.0,807.1 L239.0,799.8 L240.0,733.6 L241.0,753.6 L242.0,733.1 L243.0,754.3 L244.0,733.3 L245.0,754.0 L246.0,764.6 L247.0,818.9 L248.0,821.3 L248.5,851.6 L249.0,802.9 L250.0,784.8 L251.0,734.1 L252.0,754.3 L253.0,733.5 L254.0,760.0 L255.0,733.7 L256.0,753.0 L257.0,733.2 L258.0,742.8 L259.0,748.0 L260.0,733.7 L261.0,751.4 L262.0,734.8 L263.0,765.0 L264.0,733.0 L265.0,763.5 L266.0,769.0 L267.0,735.5 L268.0,761.4 L269.0,734.4 L270.0,738.5 L271.0,734.6 L272.0,770.8 L273.0,787.0 L274.0,764.0 L275.0,776.5 L276.0,733.8 L277.0,741.5 L278.0,733.0 L279.0,740.0 L280.0,732.9 L281.0,733.7 L282.0,734.6 L283.0,762.8 L284.0,768.0 L285.0,733.6 L286.0,760.6 L287.0,733.5 L288.0,765.4 L289.0,733.3 L290.0,773.6 L291.0,755.0 L292.0,784.0 L293.0,761.5 L294.0,771.5 L295.0,733.9 L296.0,754.0 L297.0,733.4 L298.0,738.6 L299.0,733.6 L300.0,752.2 L301.0,757.0 L302.0,734.8 L303.0,749.0 L304.0,733.0 L305.0,752.2 L306.0,733.4 L307.0,741.1 L308.0,732.8 L309.0,751.9 L310.0,732.9 L311.0,742.8 L312.0,733.0 L313.0,754.9 L314.0,732.9 L315.0,755.4 L316.0,735.4 L317.0,795.5 L317.5,810.8 L318.0,788.5 L319.0,808.8 L320.0,773.8 L321.0,797.9 L322.0,766.8 L323.0,787.5 L324.0,736.3 L325.0,763.2 L326.0,733.6 L327.0,753.6 L328.0,735.2 L329.0,779.0 L330.0,734.2 L331.0,764.5 L332.0,736.2 L333.0,762.3 L334.0,734.4 L335.0,756.8 L336.0,732.8 L337.0,772.0 L338.0,735.6 L339.0,755.3 L340.0,734.2 L341.0,742.7 L342.0,733.2 L343.0,741.0 L344.0,733.2 L345.0,749.3 L346.0,735.4 L347.0,769.9 L348.0,773.2 L349.0,823.0 L350.0,788.6 L351.0,811.4 L352.0,763.7 L353.0,771.7 L354.0,760.4 L355.0,803.8 L356.0,829.0 L357.0,781.3 L358.0,786.4 L359.0,733.0 L360.0,755.5 L361.0,734.0 L362.0,763.8 L362.5,769.9 L363.0,735.7 L364.0,751.4 L365.0,733.0 L366.0,755.3 L367.0,736.5 L368.0,771.5 L369.0,761.2 L370.0,784.0 L371.0,775.7 L372.0,820.7 L372.5,836.6 L373.0,803.0 L374.0,814.2 L375.0,774.6 L376.0,769.4 L377.0,733.2 L378.0,750.1 L378.5,752.5 L379.0,733.6 L380.0,744.1 L381.0,733.1 L382.0,751.6 L383.0,733.6 L384.0,757.0 L385.0,734.6 L386.0,746.5 L387.0,733.2 L388.0,751.2 L389.0,734.3 L390.0,771.0 L391.0,768.0 L392.0,789.8 L393.0,773.6 L394.0,803.8 L395.0,817.0 L396.0,767.5 L397.0,778.8 L398.0,755.0 L399.0,783.0 L400.0,737.4 L401.0,763.4 L402.0,733.8 L403.0,743.9 L404.0,744.0 L405.0,733.0 L406.0,748.7 L407.0,733.9 L408.0,748.8 L409.0,734.9 L410.0,767.0 L411.0,759.5 L412.0,787.8 L412.5,799.1 L413.0,790.6 L414.0,807.6 L415.0,801.1 L416.0,809.0 L417.0,803.7 L418.0,819.0 L419.0,779.0 L420.0,800.3 L421.0,732.8 L422.0,735.9 L423.0,735.0 L424.0,761.2 L425.0,736.9 L426.0,769.7 L427.0,733.0 L428.0,778.1 L429.0,764.4 L430.0,786.3 L431.0,790.0 L432.0,772.1 L433.0,776.1 L434.0,732.9 L435.0,746.3 L436.0,733.3 L437.0,739.5 L438.0,733.1 L439.0,750.9 L440.0,734.3 L441.0,776.9 L441.5,784.4 L442.0,781.2 L443.0,734.8 L444.0,748.6 L445.0,732.9 L446.0,756.2 L447.0,733.5 L448.0,751.6 L449.0,734.8 L450.0,784.0 L451.0,776.0 L451.5,813.1 L452.0,784.5 L453.0,789.2 L454.0,734.4 L455.0,747.6 L456.0,732.9 L457.0,754.8 L458.0,734.2 L458.5,756.6 L459.0,734.0 L460.0,748.6 L461.0,733.2 L462.0,753.6 L463.0,733.9 L464.0,766.8 L465.0,737.4 L466.0,774.5 L467.0,781.0 L467.5,781.0 L468.0,764.0 L469.0,780.4 L469.5,780.5 L470.0,758.9 L471.0,771.2 L472.0,732.9 L473.0,766.2 L474.0,733.5 L475.0,763.4 L476.0,735.5 L477.0,757.8 L478.0,734.2 L479.0,744.0 L480.0,733.7 L481.0,754.7 L482.0,734.5 L482.5,766.2 L483.0,764.6 L484.0,735.0 L485.0,746.8 L486.0,733.6 L487.0,744.0 L488.0,733.1 L489.0,745.0 L490.0,733.1 L491.0,749.0 L492.0,733.0 L493.0,738.6 L494.0,732.9 L495.0,741.4 L496.0,733.9 L497.0,754.4 L498.0,733.5 L499.0,764.1 L500.0,734.8 L501.0,774.8 L502.0,769.2 L503.0,782.5 L504.0,787.0 L505.0,765.3 L506.0,769.9 L507.0,735.6 L508.0,759.6 L509.0,734.1 L510.0,750.2 L511.0,733.7 L512.0,742.2 L513.0,733.1 L514.0,739.4 L515.0,773.4 L516.0,802.4 L517.0,814.3 L517.5,815.8 L518.0,776.5 L519.0,796.8 L520.0,773.5 L521.0,746.9 L522.0,733.6 L523.0,739.9 L524.0,733.1 L525.0,752.1 L526.0,733.0 L527.0,764.4 L528.0,736.2 L528.5,779.1 L529.0,735.6 L530.0,765.7 L531.0,764.2 L532.0,811.2 L533.0,790.1 L533.5,820.5 L534.0,791.4 L535.0,800.3 L536.0,735.5 L537.0,756.2 L538.0,734.3 L539.0,735.9 L540.0,733.1 L541.0,740.8 L542.0,733.0 L543.0,746.1 L544.0,733.2 L545.0,742.3 L546.0,733.1 L547.0,751.0 L548.0,732.9 L549.0,750.9 L550.0,734.0 L551.0,763.8 L552.0,768.9 L552.5,789.8 L553.0,764.8 L554.0,764.1 L555.0,734.0 L556.0,751.3 L557.0,733.3 L558.0,748.6 L559.0,734.4 L560.0,764.5 L561.0,735.0 L562.0,753.1 L563.0,732.9 L564.0,735.8 L565.0,732.9 L566.0,750.3 L567.0,733.0 L568.0,742.8 L569.0,759.3 L570.0,792.1 L571.0,801.0 L572.0,766.0 L573.0,788.5 L574.0,772.4 L575.0,779.3 L576.0,766.4 L577.0,773.4 L578.0,733.7 L579.0,764.9 L580.0,732.9 L581.0,759.9 L582.0,735.6 L583.0,753.9 L584.0,734.0 L585.0,783.5 L586.0,757.2 L587.0,797.9 L587.5,803.3 L588.0,782.5 L589.0,792.9 L590.0,756.7 L591.0,756.0 L592.0,734.3 L593.0,751.3 L594.0,733.1 L595.0,745.4 L596.0,733.1 L597.0,739.0 L598.0,732.9 L599.0,735.5 L600.0,734.0 L601.0,770.8 L602.0,762.2 L603.0,798.9 L604.0,781.7 L605.0,827.9 L606.0,824.2 L607.0,870.7 L608.0,882.9 L608.5,905.0 L609.0,881.8 L610.0,885.1 L611.0,875.6 L612.0,876.2 L613.0,842.7 L614.0,883.1 L615.0,875.6 L616.0,920.3 L617.0,927.5 L618.0,951.2 L619.0,935.1 L620.0,967.0 L621.0,946.8 L622.0,983.0 L623.0,937.6 L624.0,939.5 L625.0,903.9 L626.0,930.6 L627.0,895.8 L628.0,916.3 L629.0,891.8 L630.0,905.1 L631.0,884.0 L632.0,871.0 L633.0,858.9 L634.0,856.5 L635.0,843.5 L636.0,846.9 L637.0,816.6 L638.0,848.6 L639.0,839.6 L640.0,865.2 L641.0,858.5 L642.0,880.4 L643.0,869.1 L644.0,902.5 L645.0,907.6 L646.0,935.0 L647.0,894.9 L647.5,925.0 L648.0,892.7 L649.0,905.8 L650.0,888.2 L651.0,892.1 L652.0,859.2 L653.0,863.0 L654.0,847.5 L655.0,849.0 L656.0,810.9 L657.0,803.7 L658.0,768.7 L659.0,754.0 L660.0,733.2 L661.0,742.5 L662.0,733.1 L663.0,747.7 L664.0,733.2 L665.0,758.6 L666.0,732.9 L667.0,767.0 L668.0,734.7 L669.0,769.2 L670.0,733.1 L671.0,778.1 L672.0,785.0 L673.0,783.7 L674.0,765.2 L675.0,777.2 L676.0,754.7 L677.0,786.7 L678.0,781.8 L679.0,809.6 L680.0,816.0 L681.0,849.0 L682.0,847.7 L683.0,819.8 L684.0,839.1 L685.0,825.7 L686.0,826.6 L687.0,799.9 L688.0,837.6 L689.0,828.3 L690.0,874.3 L691.0,872.3 L691.5,915.4 L692.0,889.0 L693.0,881.9 L694.0,853.7 L695.0,846.4 L696.0,798.3 L697.0,801.2 L698.0,773.5 L699.0,778.8 L700.0,775.0 L701.0,737.3 L702.0,767.2 L703.0,732.9 L704.0,767.0 L705.0,790.0 L706.0,733.0 L707.0,759.5 L708.0,736.6 L709.0,772.3 L710.0,763.1 L711.0,787.5 L712.0,760.7 L713.0,800.3 L713.5,801.9 L714.0,796.2 L715.0,785.0 L716.0,785.0 L717.0,769.5 L718.0,779.5 L719.0,734.0 L720.0,760.8 L721.0,733.1 L722.0,753.7 L723.0,733.2 L724.0,766.6 L725.0,736.2 L726.0,789.1 L727.0,788.7 L728.0,816.6 L728.5,825.6 L729.0,820.0 L730.0,773.2 L731.0,784.3 L732.0,759.6 L733.0,771.4 L734.0,735.0 L735.0,811.0 L736.0,772.7 L737.0,764.4 L738.0,733.7 L739.0,755.4 L740.0,734.3 L741.0,748.6 L742.0,733.5 L743.0,749.9 L744.0,732.8 L745.0,749.5 L746.0,733.4 L747.0,749.1 L748.0,732.9 L749.0,745.0 L750.0,733.1 L751.0,748.2 L752.0,733.7 L753.0,744.8 L754.0,749.5 L755.0,734.3 L756.0,748.7 L757.0,733.6 L758.0,751.5 L759.0,735.3 L760.0,758.1 L761.0,765.0 L762.0,733.2 L763.0,756.5 L764.0,733.5 L765.0,773.1 L766.0,796.0 L767.0,736.2 L768.0,772.0 L769.0,768.2 L770.0,789.9 L770.5,794.2 L771.0,775.6 L772.0,781.6 L773.0,734.9 L774.0,764.4 L775.0,734.9 L776.0,741.6 L777.0,755.0 L778.0,733.5 L779.0,779.0 L780.0,733.2 L781.0,764.6 L782.0,732.9 L783.0,764.5 L784.0,735.2 L785.0,754.2 L786.0,732.9 L787.0,763.6 L788.0,755.1 L788.5,787.5 L789.0,786.2 L790.0,758.9 L791.0,751.1 L792.0,734.1 L793.0,763.3 L794.0,763.5 L794.5,789.4 L795.0,786.4 L796.0,733.4 L797.0,774.4 L798.0,759.3 L799.0,797.3 L800.0,790.6 L801.0,819.8 L802.0,832.3 L803.0,841.0 L804.0,803.2 L805.0,817.0 L806.0,795.5 L807.0,818.6 L808.0,817.0 L808.5,833.3 L809.0,803.5 L810.0,813.7 L811.0,770.0 L812.0,782.6 L813.0,734.9 L814.0,748.9 L815.0,733.2 L816.0,740.8 L817.0,732.9 L818.0,743.0 L819.0,732.9 L820.0,739.5 L821.0,733.6 L822.0,753.8 L823.0,743.0 L824.0,733.4 L825.0,755.2 L826.0,733.3 L827.0,755.6 L828.0,734.2 L829.0,749.4 L830.0,734.7 L831.0,756.7 L832.0,736.4 L833.0,770.7 L834.0,781.0 L835.0,733.7 L836.0,762.2 L837.0,733.7 L838.0,748.8 L839.0,732.8 L840.0,739.8 L841.0,733.4 L842.0,750.6 L843.0,734.3 L844.0,750.0 L845.0,733.5 L846.0,754.0 L847.0,733.3 L848.0,761.1 L849.0,736.6 L850.0,774.9 L850.5,780.0 L851.0,734.7 L852.0,760.8 L853.0,733.3 L854.0,745.8 L855.0,733.1 L856.0,739.6 L857.0,733.5 L858.0,753.3 L859.0,762.0 L860.0,733.6 L861.0,752.2 L862.0,732.8 L863.0,753.5 L864.0,762.5 L864.5,766.2 L865.0,734.8 L866.0,753.5 L867.0,732.9 L868.0,744.0 L869.0,733.2 L870.0,756.3 L871.0,732.8 L872.0,735.7 L873.0,733.0 L874.0,736.7 L875.0,733.1 L876.0,740.3 L877.0,733.2 L878.0,755.6 L879.0,764.5 L880.0,733.6 L881.0,748.2 L882.0,733.5 L883.0,754.7 L884.0,735.8 L885.0,773.0 L886.0,733.7 L887.0,753.5 L888.0,758.3 L889.0,801.8 L890.0,792.5 L890.5,834.0 L891.0,802.8 L892.0,802.0 L893.0,771.9 L894.0,748.2 L895.0,733.8 L896.0,745.6 L897.0,749.5 L898.0,733.7 L899.0,752.3 L900.0,733.7 L901.0,754.0 L902.0,733.7 L903.0,795.0 L904.0,794.3 L905.0,778.3 L906.0,791.5 L907.0,753.4 L908.0,773.5 L909.0,734.0 L910.0,752.1 L911.0,733.2 L912.0,744.9 L913.0,749.5 L914.0,733.2 L915.0,742.7 L916.0,733.2 L917.0,755.2 L918.0,733.3 L919.0,746.6 L920.0,734.0 L921.0,763.0 L922.0,734.4 L923.0,757.5 L924.0,735.4 L925.0,753.4 L926.0,733.6 L927.0,754.3 L928.0,733.4 L929.0,739.7 L930.0,742.0 L931.0,733.5 L932.0,742.0 L933.0,733.0 L934.0,739.3 L935.0,735.1 L936.0,804.7 L937.0,812.2 L938.0,835.7 L939.0,819.6 L940.0,838.6 L941.0,834.2 L942.0,844.5 L943.0,819.5 L944.0,852.8 L945.0,853.1 L946.0,877.0 L947.0,825.2 L948.0,799.7 L949.0,734.5 L950.0,752.9 L951.0,733.0 L952.0,737.9 L953.0,733.0 L954.0,741.9 L955.0,734.2 L956.0,779.6 L957.0,772.1 L958.0,795.0 L959.0,766.6 L960.0,781.0 L961.0,780.2 L962.0,854.6 L963.0,853.6 L964.0,881.0 L965.0,848.7 L966.0,873.7 L967.0,885.0 L968.0,829.2 L969.0,842.1 L970.0,813.3 L971.0,828.7 L972.0,828.3 L973.0,804.5 L974.0,803.6 L975.0,733.5 L976.0,753.0 L977.0,733.8 L978.0,755.9 L979.0,733.1 L980.0,735.8 L981.0,734.8 L982.0,802.9 L983.0,831.0 L984.0,790.1 L985.0,781.4 L986.0,733.2 L987.0,757.6 L988.0,755.5 L989.0,788.3 L990.0,784.7 L991.0,810.0 L992.0,823.7 L993.0,837.0 L994.0,785.1 L995.0,804.9 L996.0,801.0 L997.0,825.9 L998.0,809.2 L999.0,857.0 L1000.0,808.0 L1001.0,803.3 L1002.0,733.8 L1003.0,746.8 L1004.0,733.1 L1005.0,746.5 L1006.0,733.2 L1007.0,773.4 L1008.0,762.2 L1008.5,784.4 L1009.0,755.6 L1010.0,772.3 L1011.0,736.1 L1012.0,766.5 L1013.0,769.9 L1014.0,821.0 L1014.5,827.7 L1015.0,829.0 L1016.0,810.0 L1017.0,815.8 L1018.0,782.1 L1019.0,771.8 L1020.0,733.1 L1021.0,739.9 L1022.0,732.8 L1023.0,833.9 L1024.0,826.2 L1025.0,878.9 L1026.0,870.1 L1027.0,910.3 L1027.5,922.7 L1028.0,911.2 L1029.0,858.1 L1030.0,856.6 L1031.0,820.6 L1032.0,808.9 L1033.0,772.4 L1034.0,764.0 L1035.0,733.2 L1036.0,740.4 L1037.0,732.9 L1038.0,756.3 L1039.0,733.6 L1040.0,752.8 L1041.0,733.4 L1042.0,756.9 L1043.0,733.3 L1044.0,778.3 L1045.0,796.0 L1046.0,761.1 L1047.0,777.5 L1048.0,735.8 L1049.0,756.0 L1050.0,733.3 L1051.0,754.1 L1052.0,735.7 L1053.0,765.0 L1054.0,736.0 L1055.0,754.2 L1056.0,733.8 L1057.0,749.5 L1058.0,732.9 L1059.0,753.1 L1060.0,733.7 L1061.0,753.3 L1062.0,733.0 L1063.0,741.6 L1064.0,732.9 L1065.0,754.0 L1066.0,733.2 L1067.0,749.9 L1068.0,733.6 L1069.0,801.0 L1070.0,789.5 L1071.0,816.8 L1072.0,808.8 L1073.0,837.0 L1074.0,792.4 L1075.0,801.6 L1076.0,762.8 L1077.0,795.1 L1078.0,798.0 L1079.0,829.0 L1080.0,786.9 L1081.0,783.4 L1082.0,784.7 L1083.0,813.0 L1084.0,827.0 L1085.0,793.1 L1086.0,782.2 L1087.0,734.3 L1088.0,765.0 L1089.0,735.7 L1090.0,756.1 L1091.0,735.0 L1092.0,765.6 L1093.0,777.0 L1094.0,734.8 L1095.0,765.0 L1096.0,735.8 L1097.0,775.0 L1098.0,732.9 L1099.0,741.9 L1100.0,733.1 L1101.0,739.7 L1102.0,733.0 L1103.0,747.2 L1104.0,733.0 L1105.0,759.7 L1106.0,732.8 L1107.0,808.4 L1107.5,828.2 L1108.0,814.0 L1109.0,818.0 L1110.0,796.4 L1111.0,795.6 L1112.0,762.6 L1113.0,765.9 L1114.0,733.9 L1115.0,756.3 L1116.0,733.4 L1117.0,743.4 L1118.0,733.1 L1119.0,765.0 L1120.0,774.6 L1121.0,803.0 L1122.0,764.5 L1123.0,763.5 L1124.0,735.2 L1125.0,748.1 L1126.0,734.2 L1127.0,764.2 L1128.0,734.7 L1129.0,782.5 L1130.0,733.2 L1131.0,756.3 L1132.0,734.7 L1133.0,746.6 L1134.0,732.9 L1135.0,744.1 L1136.0,734.6 L1137.0,783.1 L1138.0,777.0 L1139.0,805.0 L1140.0,770.8 L1141.0,805.6 L1142.0,784.9 L1143.0,812.6 L1144.0,827.0 L1145.0,787.7 L1146.0,784.6 L1147.0,733.0 L1148.0,773.4 L1149.0,790.0 L1150.0,805.0 L1151.0,783.9 L1152.0,801.0 L1153.0,767.3 L1154.0,792.3 L1155.0,759.4 L1156.0,755.4 L1157.0,735.0 L1158.0,791.6 L1158.5,804.5 L1159.0,783.9 L1160.0,781.8 L1161.0,775.2 L1162.0,802.0 L1163.0,780.6 L1164.0,830.6 L1165.0,827.2 L1166.0,879.0 L1167.0,858.0 L1168.0,816.2 L1169.0,806.1 L1170.0,771.5 L1171.0,765.5 L1172.0,734.6 L1173.0,775.4 L1174.0,770.3 L1175.0,784.0 L1176.0,735.0 L1177.0,769.1 L1178.0,733.8 L1179.0,764.9 L1180.0,734.3 L1181.0,799.9 L1182.0,792.0 L1183.0,808.1 L1184.0,815.0 L1185.0,798.6 L1186.0,826.3 L1187.0,812.6 L1188.0,848.0 L1189.0,842.6 L1190.0,880.2 L1191.0,903.8 L1192.0,948.6 L1193.0,978.0 L1193.5,990.5 L1194.0,961.6 L1195.0,947.5 L1196.0,896.6 L1197.0,880.5 L1198.0,864.4 L1199.0,876.0 L1200.0,889.0 L1201.0,836.4 L1202.0,843.7 L1203.0,810.5 L1204.0,819.3 L1205.0,793.4 L1206.0,826.2 L1207.0,814.9 L1208.0,859.0 L1209.0,827.9 L1210.0,828.3 L1211.0,815.0 L1212.0,794.3 L1213.0,845.0 L1214.0,815.5 L1215.0,825.0 L1216.0,792.0 L1217.0,800.3 L1218.0,785.5 L1219.0,818.9 L1220.0,833.0 L1221.0,787.7 L1222.0,798.7 L1223.0,773.2 L1224.0,801.0 L1225.0,822.3 L1226.0,841.0 L1227.0,783.4 L1228.0,787.9 L1229.0,734.9 L1230.0,767.9 L1231.0,735.1 L1232.0,775.0 L1233.0,735.4 L1234.0,764.5 L1235.0,733.1 L1236.0,751.3 L1237.0,733.2 L1238.0,754.0 L1239.0,733.1 L1240.0,752.9 L1241.0,733.4 L1242.0,741.9 L1243.0,734.6 L1244.0,760.0 L1244.5,761.6 L1245.0,735.1 L1246.0,753.8 L1247.0,733.0 L1248.0,749.5 L1249.0,734.0 L1250.0,757.0 L1251.0,733.4 L1252.0,746.1 L1253.0,786.1 L1254.0,818.7 L1254.5,828.4 L1255.0,830.0 L1256.0,800.9 L1257.0,797.9 L1258.0,772.2 L1259.0,766.5 L1260.0,811.5 L1261.0,827.3 L1262.0,822.0 L1263.0,847.2 L1264.0,842.5 L1265.0,870.2 L1266.0,880.7 L1267.0,896.5 L1268.0,875.7 L1269.0,913.5 L1270.0,916.9 L1271.0,894.7 L1272.0,920.0 L1273.0,873.5 L1274.0,855.1 L1275.0,807.2 L1276.0,755.4 L1277.0,732.9 L1278.0,744.2 L1279.0,733.1 L1280.0,755.9 L1281.0,733.5 L1282.0,788.0 L1282.5,802.0 L1283.0,770.8 L1284.0,776.5 L1285.0,733.6 L1286.0,756.9 L1287.0,734.3 L1288.0,749.3 L1289.0,734.8 L1290.0,763.8 L1291.0,734.9 L1292.0,805.9 L1293.0,795.0 L1294.0,820.3 L1295.0,830.0 L1296.0,803.0 L1297.0,804.1 L1298.0,734.0 L1299.0,761.4 L1300.0,735.9 L1301.0,773.6 L1302.0,761.3 L1302.5,792.5 L1303.0,767.2 L1304.0,773.8 L1305.0,734.7 L1306.0,753.2 L1307.0,733.0 L1308.0,767.6 L1309.0,768.3 L1310.0,792.6 L1311.0,756.5 L1312.0,766.2 L1313.0,735.1 L1314.0,750.0 L1315.0,733.0 L1316.0,785.9 L1317.0,785.5 L1318.0,844.4 L1319.0,855.1 L1320.0,874.7 L1320.5,892.0 L1321.0,848.0 L1322.0,863.8 L1323.0,843.4 L1324.0,879.8 L1325.0,899.5 L1326.0,876.4 L1327.0,877.0 L1328.0,860.4 L1329.0,888.9 L1330.0,905.1 L1331.2,942.6 L1332.0,913.7 L1333.0,897.5 L1334.0,857.9 L1335.0,838.5 L1336.0,793.2 L1337.0,765.7 L1338.0,734.3 L1339.0,787.9 L1340.0,781.3 L1340.5,810.0 L1341.0,768.5 L1342.0,791.2 L1343.0,734.1 L1344.0,852.1 L1345.0,864.2 L1346.0,885.7 L1347.0,888.8 L1348.0,940.2 L1348.8,957.5 L1350.0,901.1 L1351.0,871.6 L1352.0,832.4 L1353.0,826.0 L1354.0,776.0 L1355.0,801.0 L1356.0,770.2 L1357.0,762.4 L1358.0,735.1 L1359.0,784.0 L1360.0,775.4 L1361.2,805.7 L1362.0,779.1 L1363.0,779.9 L1364.0,736.2 L1365.0,753.9 L1366.0,733.7 L1367.0,745.1 L1368.0,733.4 L1369.0,747.1 L1370.0,733.1 L1371.0,741.9 L1372.0,733.3 L1372.5,745.7 L1373.0,733.1 L1374.0,743.1 L1375.0,762.5 L1376.0,733.9 L1377.0,748.7 L1378.0,733.7 L1379.0,753.1 L1380.0,734.0 L1381.0,779.4 L1382.0,802.0 L1383.0,759.1 L1384.0,770.4 L1385.0,735.8 L1386.0,750.7 L1387.0,764.1 L1387.5,790.0 L1388.0,773.6 L1389.0,778.0 L1390.0,733.6 L1391.0,756.8 L1392.0,733.0 L1393.0,749.9 L1394.0,733.6 L1395.0,770.1 L1396.0,735.9 L1397.0,749.7 L1398.0,733.4 L1399.0,749.8 L1400.0,733.4 L1401.0,739.6 L1402.0,759.5 L1402.5,787.5 L1403.0,767.2 L1404.0,743.7 L1405.0,781.5 L1406.0,806.4 L1407.0,823.8 L1408.0,783.6 L1409.0,786.5 L1410.0,760.6 L1411.0,795.5 L1412.0,774.7 L1413.0,814.7 L1413.8,828.2 L1415.0,802.2 L1416.0,803.1 L1417.0,772.1 L1418.0,787.8 L1419.0,761.7 L1420.0,768.1 L1421.0,734.8 L1422.0,755.9 L1423.0,732.8 L1424.0,749.0 L1425.0,734.0 L1426.0,749.9 L1427.0,733.2 L1428.0,753.6 L1429.0,763.9 L1430.0,887.0 L1431.0,899.0 L1432.0,935.0 L1433.0,893.9 L1433.8,914.6 L1435.0,882.7 L1436.0,853.8 L1437.0,848.2 L1438.0,867.9 L1438.8,882.6 L1440.0,824.4 L1441.0,825.0 L1442.0,768.9 L1443.0,818.7 L1444.0,826.6 L1445.0,855.6 L1446.0,862.2 L1447.0,877.1 L1448.0,873.0 L1448.8,907.5 L1450.0,874.6 L1451.0,885.6 L1452.0,874.8 L1453.0,881.0 L1454.0,887.2 L1455.0,905.3 L1456.2,925.0 L1457.0,892.8 L1457.5,900.0 L1458.0,856.9 L1459.0,868.1 L1460.0,845.6 L1461.0,851.3 L1462.0,834.2 L1463.0,831.8 L1464.0,769.7 L1465.0,786.6 L1466.0,756.8 L1467.0,767.3 L1468.0,733.6 L1469.0,752.6 L1470.0,733.9 L1471.0,739.8 L1472.0,733.6 L1473.0,745.5 L1474.0,768.7 L1475.0,805.3 L1476.2,830.0 L1477.0,805.2 L1477.5,815.0 L1478.0,788.2 L1479.0,770.8 L1480.0,736.3 L1481.0,757.5 L1482.0,734.8 L1483.0,756.3 L1484.0,733.0 L1485.0,754.4 L1486.0,732.9 L1487.0,755.5 L1488.0,733.1 L1489.0,754.6 L1490.0,733.5 L1491.0,750.9 L1492.0,735.4 L1493.0,776.0 L1494.0,768.3 L1494.5,787.5 L1495.0,765.2 L1496.0,776.5 L1497.0,732.9 L1497.5,777.6 L1498.0,737.4 L1499.0,762.4 L1500.0,735.4 L1501.0,751.4 L1502.0,734.6 L1503.0,746.7 L1504.0,734.4 L1505.0,754.4 L1506.0,733.8 L1507.0,760.3 L1507.5,764.5 L1508.0,734.8 L1509.0,759.7 L1510.0,734.3 L1511.0,754.4 L1512.0,734.7 L1513.0,752.5 L1514.0,732.9 L1515.0,740.2 L1516.0,733.0 L1517.0,807.3 L1518.0,783.9 L1518.8,825.0 L1520.0,820.0" fill="none" stroke="#A23B72" stroke-width="3.2"/><path d="M160.0,753.1 L161.0,734.1 L162.0,748.0 L163.0,815.0 L164.0,734.7 L165.0,751.7 L166.0,732.9 L167.0,752.9 L168.0,732.8 L169.0,743.8 L170.0,734.0 L171.0,759.4 L172.0,765.0 L173.0,735.7 L174.0,750.9 L175.0,732.8 L176.0,755.3 L177.0,733.5 L178.0,754.1 L179.0,762.0 L180.0,732.9 L181.0,743.3 L182.0,733.6 L183.0,755.5 L184.0,733.8 L184.5,776.7 L185.0,734.9 L186.0,750.0 L187.0,733.8 L188.0,748.2 L189.0,733.2 L190.0,765.0 L191.0,778.3 L192.0,814.4 L193.0,792.5 L194.0,821.9 L195.0,800.1 L196.0,845.0 L197.0,807.3 L198.0,803.8 L199.0,735.7 L200.0,747.4 L201.0,733.2 L202.0,745.8 L203.0,755.0 L204.0,734.0 L205.0,744.1 L206.0,735.8 L207.0,781.0 L207.5,790.1 L208.0,772.3 L209.0,775.0 L210.0,762.4 L211.0,809.0 L212.0,804.7 L213.0,828.7 L214.0,824.1 L214.5,870.8 L215.0,846.9 L216.0,856.7 L217.0,818.9 L218.0,814.2 L219.0,803.1 L220.0,807.2 L221.0,763.4 L222.0,787.2 L223.0,734.3 L224.0,744.9 L225.0,752.4 L226.0,819.4 L227.0,798.6 L228.0,825.0 L229.0,784.5 L230.0,804.3 L231.0,783.3 L232.0,804.7 L233.0,783.6 L234.0,809.5 L235.0,801.4 L236.0,821.7 L237.0,820.7 L237.5,870.9 L238.0,849.1 L239.0,823.4 L240.0,758.6 L241.0,750.6 L242.0,734.0 L243.0,746.3 L244.0,733.6 L245.0,753.7 L246.0,763.8 L247.0,807.9 L248.0,809.5 L248.5,837.0 L249.0,794.0 L250.0,774.7 L251.0,734.6 L252.0,747.5 L253.0,733.3 L254.0,738.3 L255.0,732.9 L256.0,753.5 L257.0,733.6 L258.0,752.4 L259.0,753.0 L260.0,733.4 L261.0,749.0 L262.0,732.9 L263.0,756.0 L264.0,736.1 L265.0,772.5 L266.0,781.0 L267.0,736.1 L268.0,770.9 L269.0,733.3 L270.0,740.7 L271.0,733.8 L272.0,782.5 L273.0,805.0 L274.0,776.7 L275.0,789.7 L276.0,734.9 L277.0,744.0 L278.0,733.2 L279.0,735.4 L280.0,733.0 L281.0,737.8 L282.0,732.9 L283.0,733.3 L284.0,732.8 L285.0,752.9 L286.0,733.4 L287.0,770.7 L288.0,759.7 L289.0,781.7 L290.0,756.4 L291.0,794.6 L292.0,801.0 L293.0,769.2 L294.0,781.8 L295.0,735.7 L296.0,753.9 L297.0,733.4 L298.0,740.8 L299.0,733.0 L300.0,753.8 L301.0,733.1 L302.0,744.2 L303.0,749.0 L304.0,734.4 L305.0,744.7 L306.0,733.1 L307.0,753.9 L308.0,732.8 L309.0,755.9 L310.0,733.0 L311.0,753.6 L312.0,733.3 L313.0,745.0 L314.0,733.3 L315.0,752.9 L316.0,735.4 L317.0,812.6 L317.5,836.8 L318.0,820.4 L319.0,827.2 L320.0,805.4 L321.0,820.1 L322.0,794.2 L323.0,802.7 L324.0,759.1 L325.0,774.7 L326.0,733.4 L327.0,756.5 L328.0,733.4 L329.0,737.9 L330.0,733.0 L331.0,755.2 L332.0,733.1 L333.0,749.3 L334.0,734.0 L335.0,765.0 L336.0,736.5 L337.0,785.0 L338.0,733.2 L339.0,762.9 L340.0,733.4 L341.0,747.2 L342.0,733.2 L343.0,742.5 L344.0,733.4 L345.0,754.8 L346.0,737.1 L347.0,784.5 L348.0,804.8 L349.0,853.0 L350.0,824.3 L351.0,837.0 L352.0,803.2 L353.0,781.1 L354.0,777.7 L355.0,833.9 L356.0,861.0 L357.0,801.3 L358.0,801.2 L359.0,762.1 L360.0,764.4 L361.0,734.3 L362.0,744.2 L363.0,733.1 L364.0,746.3 L365.0,735.0 L366.0,763.6 L367.0,736.8 L368.0,784.3 L369.0,783.9 L370.0,803.1 L371.0,801.9 L372.0,847.7 L372.5,871.2 L373.0,829.4 L374.0,836.4 L375.0,798.2 L376.0,785.0 L377.0,734.4 L378.0,744.1 L379.0,733.0 L380.0,736.9 L381.0,733.7 L382.0,756.1 L383.0,735.2 L384.0,765.0 L385.0,733.7 L386.0,750.5 L387.0,732.9 L388.0,757.6 L389.0,732.8 L390.0,784.9 L391.0,780.1 L392.0,809.1 L393.0,802.9 L394.0,829.4 L395.0,845.0 L396.0,792.6 L397.0,778.0 L398.0,737.3 L399.0,764.9 L400.0,733.3 L401.0,756.3 L402.0,733.1 L403.0,748.7 L404.0,732.8 L405.0,740.2 L406.0,732.9 L407.0,739.5 L408.0,734.9 L409.0,763.6 L410.0,758.7 L411.0,794.7 L412.0,791.9 L412.5,821.2 L413.0,796.0 L414.0,790.2 L415.0,734.5 L416.0,764.6 L417.0,772.4 L418.0,815.0 L419.0,771.7 L420.0,763.8 L421.0,734.1 L422.0,736.7 L423.0,732.9 L424.0,746.0 L425.0,732.8 L426.0,748.0 L427.0,733.6 L428.0,764.5 L429.0,736.9 L430.0,776.5 L431.0,787.0 L432.0,735.1 L433.0,754.6 L434.0,734.3 L435.0,751.4 L436.0,733.6 L437.0,742.2 L438.0,733.0 L439.0,754.9 L440.0,733.9 L441.0,773.6 L442.0,783.0 L443.0,736.8 L444.0,753.3 L445.0,734.7 L446.0,754.6 L447.0,734.7 L448.0,757.8 L449.0,733.5 L450.0,777.9 L451.0,780.2 L451.5,799.2 L452.0,762.6 L453.0,771.2 L454.0,733.0 L455.0,752.6 L456.0,733.6 L457.0,753.2 L458.0,733.2 L459.0,740.9 L460.0,733.1 L461.0,748.3 L462.0,733.9 L463.0,757.5 L464.0,734.0 L465.0,762.8 L466.0,734.0 L467.0,777.7 L467.5,780.4 L468.0,734.9 L469.0,769.3 L470.0,733.7 L471.0,756.9 L472.0,734.0 L473.0,746.6 L474.0,733.8 L475.0,742.8 L476.0,733.3 L477.0,741.6 L478.0,733.3 L479.0,754.6 L480.0,734.1 L481.0,750.6 L482.0,732.9 L483.0,765.0 L484.0,733.0 L485.0,753.9 L486.0,733.0 L487.0,754.0 L488.0,733.1 L489.0,753.2 L490.0,733.0 L491.0,750.5 L492.0,733.0 L493.0,754.3 L494.0,733.6 L495.0,744.6 L496.0,733.3 L497.0,753.6 L498.0,735.7 L499.0,771.8 L500.0,759.9 L501.0,787.0 L502.0,771.2 L503.0,795.5 L504.0,805.0 L505.0,765.8 L506.0,781.0 L507.0,751.4 L508.0,771.1 L509.0,733.8 L510.0,756.8 L511.0,733.1 L512.0,753.0 L513.0,733.3 L514.0,743.5 L515.0,733.0 L516.0,767.9 L517.0,801.0 L518.0,757.0 L519.0,763.5 L520.0,733.8 L521.0,754.6 L522.0,734.2 L523.0,747.2 L524.0,733.1 L525.0,739.9 L526.0,733.1 L527.0,748.7 L528.0,733.4 L529.0,763.6 L530.0,759.1 L531.0,793.0 L532.0,773.1 L533.0,809.8 L533.5,817.5 L534.0,792.0 L535.0,792.7 L536.0,766.1 L537.0,763.9 L538.0,734.3 L539.0,752.2 L540.0,733.2 L541.0,744.6 L542.0,733.1 L543.0,746.5 L544.0,733.2 L545.0,745.2 L546.0,734.6 L547.0,757.0 L548.0,733.0 L549.0,745.9 L550.0,735.7 L551.0,774.2 L552.0,786.5 L552.5,808.7 L553.0,774.1 L554.0,773.6 L555.0,734.4 L556.0,745.5 L557.0,732.8 L558.0,754.0 L559.0,734.0 L560.0,775.0 L561.0,734.3 L562.0,754.6 L563.0,733.6 L564.0,741.9 L565.0,733.0 L566.0,740.3 L567.0,733.5 L568.0,752.7 L569.0,734.6 L570.0,778.3 L571.0,795.0 L572.0,768.6 L573.0,784.3 L574.0,734.6 L575.0,756.5 L576.0,733.4 L577.0,747.7 L578.0,733.1 L579.0,739.3 L580.0,733.2 L581.0,744.4 L582.0,734.4 L583.0,751.0 L584.0,735.2 L585.0,762.1 L586.0,736.2 L587.0,774.8 L588.0,758.2 L589.0,781.0 L590.0,734.8 L591.0,764.0 L592.0,735.4 L593.0,753.1 L594.0,733.2 L595.0,747.3 L596.0,733.1 L597.0,741.0 L598.0,732.9 L599.0,753.8 L600.0,734.5 L601.0,781.5 L602.0,766.5 L603.0,808.4 L604.0,802.4 L605.0,830.3 L606.0,828.0 L607.0,862.3 L608.0,856.9 L609.0,883.5 L610.0,877.6 L611.0,897.6 L612.0,894.8 L613.0,924.2 L614.0,903.5 L615.0,929.1 L616.0,918.8 L617.0,948.0 L618.0,946.9 L619.0,955.9 L620.0,939.9 L621.0,960.8 L622.0,977.0 L623.0,950.3 L624.0,946.1 L625.0,911.0 L626.0,905.8 L627.0,871.3 L628.0,872.0 L629.0,845.0 L630.0,841.9 L631.0,801.2 L632.0,813.8 L633.0,782.4 L634.0,783.4 L635.0,734.0 L636.0,767.7 L637.0,735.5 L638.0,773.6 L639.0,772.2 L640.0,799.8 L641.0,781.4 L642.0,818.9 L643.0,818.4 L644.0,839.1 L645.0,821.0 L646.0,846.0 L647.0,835.8 L647.5,860.0 L648.0,822.5 L649.0,835.7 L650.0,806.9 L651.0,806.1 L652.0,780.0 L653.0,781.6 L654.0,734.7 L655.0,754.8 L656.0,733.9 L657.0,745.4 L658.0,732.9 L659.0,750.0 L660.0,732.9 L661.0,738.6 L662.0,733.2 L663.0,740.8 L664.0,733.0 L665.0,749.5 L666.0,733.1 L667.0,761.0 L668.0,733.4 L669.0,755.2 L670.0,735.2 L671.0,759.9 L672.0,735.8 L673.0,775.0 L674.0,736.7 L675.0,769.9 L676.0,734.2 L677.0,764.6 L678.0,756.9 L679.0,787.4 L680.0,784.1 L681.0,816.5 L682.0,835.0 L683.0,804.7 L684.0,809.5 L685.0,783.4 L686.0,784.2 L687.0,774.5 L688.0,806.4 L689.0,805.9 L690.0,832.7 L691.0,835.9 L691.5,861.1 L692.0,825.8 L693.0,831.9 L694.0,774.1 L695.0,781.0 L696.0,736.0 L697.0,750.8 L698.0,733.2 L699.0,754.9 L700.0,745.0 L701.0,733.1 L702.0,751.0 L703.0,733.2 L704.0,781.7 L705.0,809.0 L706.0,777.5 L707.0,764.1 L708.0,732.9 L709.0,749.1 L710.0,734.0 L711.0,769.5 L712.0,774.8 L713.0,783.9 L714.0,791.0 L715.0,757.2 L716.0,784.1 L717.0,774.3 L718.0,795.0 L719.0,733.4 L720.0,753.4 L721.0,734.0 L722.0,749.3 L723.0,733.2 L724.0,742.2 L725.0,733.5 L726.0,748.2 L727.0,733.4 L728.0,756.4 L729.0,765.0 L730.0,734.8 L731.0,757.0 L732.0,734.3 L733.0,771.5 L734.0,771.9 L735.0,809.0 L736.0,767.9 L737.0,762.9 L738.0,733.9 L739.0,749.9 L740.0,733.7 L741.0,750.9 L742.0,732.9 L743.0,736.4 L744.0,734.1 L745.0,755.0 L746.0,734.1 L747.0,735.0 L748.0,732.8 L749.0,744.1 L750.0,733.0 L751.0,737.0 L752.0,733.5 L753.0,748.3 L754.0,755.0 L755.0,733.6 L756.0,754.0 L757.0,732.8 L758.0,737.8 L759.0,733.4 L760.0,739.5 L761.0,733.2 L762.0,748.7 L763.0,733.2 L764.0,764.5 L765.0,759.6 L766.0,817.0 L767.0,773.1 L768.0,763.5 L769.0,734.5 L770.0,750.7 L771.0,733.9 L772.0,746.8 L773.0,732.9 L774.0,743.6 L775.0,733.1 L776.0,752.8 L777.0,755.0 L778.0,734.2 L779.0,754.3 L780.0,735.0 L781.0,763.2 L782.0,734.5 L783.0,775.0 L784.0,734.5 L785.0,744.1 L786.0,733.4 L787.0,752.4 L788.0,734.6 L789.0,775.0 L790.0,734.0 L791.0,753.8 L792.0,733.5 L793.0,744.8 L794.0,734.5 L795.0,775.0 L796.0,733.4 L797.0,761.5 L798.0,733.7 L799.0,762.6 L800.0,735.2 L801.0,779.7 L802.0,785.0 L803.0,754.7 L804.0,782.2 L805.0,755.8 L806.0,775.4 L807.0,736.4 L808.0,762.8 L809.0,735.7 L810.0,785.0 L811.0,753.0 L812.0,780.2 L813.0,735.8 L814.0,754.6 L815.0,734.3 L816.0,742.5 L817.0,733.0 L818.0,745.6 L819.0,732.8 L820.0,749.3 L821.0,733.0 L822.0,737.2 L823.0,733.0 L824.0,738.9 L825.0,732.9 L826.0,742.6 L827.0,733.0 L828.0,749.0 L829.0,734.2 L830.0,758.0 L831.0,736.1 L832.0,774.4 L833.0,757.3 L834.0,797.0 L835.0,775.9 L836.0,772.9 L837.0,735.5 L838.0,754.2 L839.0,733.7 L840.0,754.2 L841.0,733.2 L842.0,745.9 L843.0,733.4 L844.0,750.2 L845.0,733.6 L846.0,745.7 L847.0,733.2 L848.0,754.6 L849.0,734.4 L850.0,761.5 L850.5,764.6 L851.0,735.9 L852.0,753.0 L853.0,732.9 L854.0,743.8 L855.0,733.0 L856.0,749.4 L857.0,732.8 L858.0,740.1 L859.0,733.5 L860.0,756.1 L861.0,733.3 L862.0,746.0 L863.0,733.9 L864.0,755.0 L865.0,733.9 L866.0,755.7 L867.0,733.0 L868.0,740.2 L869.0,733.0 L870.0,746.9 L871.0,733.1 L872.0,737.0 L873.0,733.1 L874.0,750.5 L875.0,733.3 L876.0,742.5 L877.0,735.0 L878.0,763.4 L879.0,775.0 L880.0,736.3 L881.0,754.9 L882.0,733.4 L883.0,751.9 L884.0,733.2 L885.0,744.4 L886.0,733.0 L887.0,749.3 L888.0,734.1 L889.0,774.1 L890.0,775.0 L890.5,795.7 L891.0,774.6 L892.0,777.8 L893.0,735.1 L894.0,756.7 L895.0,733.2 L896.0,750.5 L897.0,755.0 L898.0,734.1 L899.0,751.4 L900.0,733.7 L901.0,756.4 L902.0,736.6 L903.0,767.2 L904.0,771.0 L905.0,733.3 L906.0,754.9 L907.0,732.9 L908.0,744.3 L909.0,733.7 L910.0,750.2 L911.0,733.8 L912.0,747.8 L913.0,755.0 L914.0,734.4 L915.0,745.6 L916.0,733.0 L917.0,756.1 L918.0,732.9 L919.0,748.4 L920.0,734.8 L921.0,765.0 L922.0,733.2 L923.0,750.6 L924.0,733.5 L925.0,753.4 L926.0,733.4 L927.0,736.9 L928.0,733.1 L929.0,742.1 L930.0,745.0 L931.0,733.3 L932.0,737.0 L933.0,733.1 L934.0,742.1 L935.0,735.8 L936.0,781.7 L937.0,781.1 L938.0,825.0 L939.0,802.4 L940.0,821.5 L941.0,785.2 L942.0,823.5 L943.0,813.8 L944.0,844.1 L945.0,826.5 L946.0,857.0 L947.0,804.8 L948.0,784.0 L949.0,734.3 L950.0,752.2 L951.0,733.3 L952.0,755.0 L953.0,733.9 L954.0,745.8 L955.0,734.0 L956.0,764.4 L957.0,733.9 L958.0,775.7 L959.0,760.1 L960.0,798.4 L961.0,804.3 L962.0,828.4 L963.0,831.1 L964.0,877.0 L965.0,845.1 L966.0,864.6 L967.0,820.8 L968.0,822.1 L969.0,800.4 L970.0,801.6 L971.0,802.1 L972.0,835.0 L973.0,786.7 L974.0,791.4 L975.0,766.0 L976.0,760.2 L977.0,733.3 L978.0,742.0 L979.0,733.5 L980.0,745.6 L981.0,732.9 L982.0,767.0 L983.0,785.0 L984.0,757.8 L985.0,771.1 L986.0,734.0 L987.0,766.9 L988.0,733.4 L989.0,772.1 L990.0,772.6 L991.0,790.1 L992.0,801.0 L993.0,767.2 L994.0,788.3 L995.0,760.6 L996.0,791.1 L997.0,789.2 L998.0,812.2 L999.0,825.0 L1000.0,771.9 L1001.0,782.6 L1002.0,732.8 L1003.0,751.4 L1004.0,733.1 L1005.0,739.2 L1006.0,733.6 L1007.0,745.0 L1008.0,734.2 L1009.0,757.3 L1010.0,734.1 L1011.0,769.0 L1012.0,755.4 L1013.0,783.7 L1014.0,783.2 L1015.0,805.0 L1016.0,773.9 L1017.0,764.3 L1018.0,733.5 L1019.0,736.8 L1020.0,732.8 L1021.0,742.4 L1022.0,734.2 L1023.0,768.9 L1024.0,767.1 L1025.0,814.9 L1026.0,821.2 L1027.0,853.1 L1028.0,875.0 L1029.0,820.3 L1030.0,829.7 L1031.0,779.0 L1032.0,783.5 L1033.0,736.1 L1034.0,753.7 L1035.0,733.3 L1036.0,747.7 L1037.0,733.1 L1038.0,745.7 L1039.0,733.3 L1040.0,748.0 L1041.0,734.3 L1042.0,762.6 L1043.0,733.7 L1044.0,792.0 L1045.0,817.0 L1046.0,784.6 L1047.0,793.4 L1048.0,770.1 L1049.0,763.1 L1050.0,733.5 L1051.0,741.9 L1052.0,733.1 L1053.0,745.9 L1054.0,733.4 L1055.0,750.2 L1056.0,734.3 L1057.0,755.0 L1058.0,732.9 L1059.0,749.2 L1060.0,733.0 L1061.0,742.3 L1062.0,733.5 L1063.0,753.0 L1064.0,733.4 L1065.0,754.1 L1066.0,733.0 L1067.0,744.9 L1068.0,734.1 L1069.0,768.9 L1070.0,769.7 L1071.0,793.3 L1072.0,774.1 L1073.0,815.0 L1074.0,779.0 L1075.0,790.1 L1076.0,754.7 L1077.0,774.7 L1078.0,734.6 L1079.0,767.1 L1080.0,734.6 L1081.0,767.7 L1082.0,734.8 L1083.0,775.0 L1084.0,736.8 L1085.0,760.3 L1086.0,732.9 L1087.0,750.9 L1088.0,734.1 L1089.0,744.0 L1090.0,732.9 L1091.0,745.0 L1092.0,733.0 L1093.0,756.4 L1094.0,733.5 L1095.0,741.0 L1096.0,733.4 L1097.0,752.5 L1098.0,733.0 L1099.0,738.6 L1100.0,733.2 L1101.0,740.6 L1102.0,733.8 L1103.0,744.9 L1104.0,735.5 L1105.0,769.6 L1106.0,753.8 L1107.0,833.1 L1107.5,860.0 L1108.0,849.5 L1109.0,847.9 L1110.0,824.7 L1111.0,815.1 L1112.0,763.6 L1113.0,776.3 L1114.0,735.2 L1115.0,745.3 L1116.0,732.9 L1117.0,754.2 L1118.0,732.9 L1119.0,744.5 L1120.0,733.1 L1121.0,756.2 L1122.0,732.8 L1123.0,742.3 L1124.0,733.9 L1125.0,750.0 L1126.0,733.1 L1127.0,772.8 L1128.0,762.3 L1129.0,799.0 L1130.0,756.9 L1131.0,763.6 L1132.0,734.1 L1133.0,750.2 L1134.0,733.0 L1135.0,745.8 L1136.0,734.4 L1137.0,774.8 L1138.0,776.1 L1139.0,805.0 L1140.0,782.7 L1141.0,796.1 L1142.0,773.4 L1143.0,762.6 L1144.0,734.9 L1145.0,751.9 L1146.0,732.9 L1147.0,756.1 L1148.0,736.4 L1149.0,785.0 L1150.0,753.4 L1151.0,774.8 L1152.0,734.8 L1153.0,759.2 L1154.0,734.1 L1155.0,754.2 L1156.0,732.8 L1157.0,789.5 L1158.0,780.2 L1158.5,828.5 L1159.0,788.1 L1160.0,797.0 L1161.0,764.0 L1162.0,762.1 L1163.0,736.6 L1164.0,795.6 L1165.0,809.8 L1166.0,826.8 L1167.0,835.0 L1168.0,791.3 L1169.0,792.2 L1170.0,736.8 L1171.0,779.8 L1172.0,759.7 L1173.0,789.0 L1174.0,767.5 L1175.0,801.0 L1176.0,765.3 L1177.0,781.8 L1178.0,734.1 L1179.0,777.5 L1180.0,770.4 L1181.0,783.5 L1182.0,773.1 L1183.0,799.9 L1184.0,811.0 L1185.0,771.0 L1186.0,782.8 L1187.0,756.2 L1188.0,791.2 L1189.0,807.2 L1190.0,841.3 L1191.0,846.3 L1192.0,881.9 L1193.0,917.0 L1194.0,879.7 L1195.0,880.1 L1196.0,819.3 L1197.0,822.8 L1198.0,776.2 L1199.0,763.8 L1200.0,734.3 L1201.0,748.2 L1202.0,733.2 L1203.0,739.3 L1204.0,733.3 L1205.0,736.8 L1206.0,733.7 L1207.0,755.4 L1208.0,735.2 L1209.0,770.8 L1210.0,767.4 L1211.0,785.0 L1212.0,765.3 L1213.0,769.6 L1214.0,734.6 L1215.0,756.6 L1216.0,733.4 L1217.0,752.0 L1218.0,733.5 L1219.0,743.1 L1220.0,733.4 L1221.0,746.1 L1222.0,733.1 L1223.0,747.8 L1224.0,732.9 L1225.0,745.0 L1226.0,733.9 L1227.0,750.7 L1228.0,733.2 L1229.0,747.0 L1230.0,732.9 L1231.0,738.8 L1232.0,733.0 L1233.0,739.7 L1234.0,733.1 L1235.0,741.4 L1236.0,733.2 L1237.0,749.8 L1238.0,733.0 L1239.0,738.8 L1240.0,733.5 L1241.0,743.9 L1242.0,733.2 L1243.0,750.1 L1244.0,755.0 L1245.0,734.0 L1246.0,742.8 L1247.0,732.8 L1248.0,746.1 L1249.0,735.0 L1250.0,765.0 L1251.0,734.9 L1252.0,736.9 L1253.0,733.2 L1254.0,738.7 L1255.0,732.9 L1256.0,742.1 L1257.0,734.4 L1258.0,759.4 L1259.0,763.9 L1260.0,799.6 L1261.0,800.8 L1262.0,827.8 L1263.0,822.0 L1264.0,833.8 L1265.0,832.0 L1266.0,841.7 L1267.0,823.0 L1268.0,850.8 L1269.0,838.1 L1270.0,865.0 L1271.0,822.7 L1272.0,827.1 L1273.0,783.1 L1274.0,778.8 L1275.0,734.7 L1276.0,753.3 L1277.0,733.4 L1278.0,742.9 L1279.0,733.1 L1280.0,752.7 L1281.0,733.5 L1282.0,806.3 L1282.5,825.0 L1283.0,792.8 L1284.0,790.2 L1285.0,733.9 L1286.0,764.5 L1287.0,735.3 L1288.0,754.8 L1289.0,735.4 L1290.0,771.8 L1291.0,765.9 L1292.0,794.8 L1293.0,779.2 L1294.0,809.7 L1295.0,825.0 L1296.0,786.4 L1297.0,792.6 L1298.0,769.4 L1299.0,770.5 L1300.0,736.3 L1301.0,752.1 L1302.0,734.3 L1303.0,752.8 L1304.0,733.0 L1305.0,754.6 L1306.0,733.8 L1307.0,767.5 L1308.0,752.9 L1309.0,796.6 L1310.0,812.5 L1311.0,775.0 L1312.0,779.1 L1313.0,735.6 L1314.0,756.0 L1315.0,764.5 L1316.0,805.7 L1317.0,819.8 L1318.0,881.7 L1319.0,892.4 L1320.0,934.3 L1320.5,945.0 L1321.0,910.9 L1322.0,903.1 L1323.0,885.4 L1324.0,922.1 L1325.0,955.0 L1326.0,929.1 L1327.0,925.8 L1328.0,888.8 L1329.0,911.5 L1330.0,929.9 L1331.2,1012.5 L1332.0,963.1 L1333.0,964.5 L1334.0,913.7 L1335.0,875.0 L1336.0,784.3 L1337.0,778.9 L1338.0,733.1 L1339.0,737.5 L1340.0,734.5 L1341.0,757.6 L1342.0,735.2 L1343.0,785.9 L1344.0,787.0 L1345.0,833.2 L1346.0,833.2 L1347.0,878.2 L1348.0,900.0 L1349.0,847.2 L1350.0,834.2 L1351.0,776.5 L1352.0,784.5 L1353.0,733.6 L1354.0,758.2 L1355.0,734.1 L1356.0,757.8 L1357.0,734.4 L1358.0,786.8 L1359.0,771.5 L1360.0,815.0 L1361.2,830.0 L1362.0,784.2 L1363.0,796.4 L1364.0,771.2 L1365.0,760.3 L1366.0,735.1 L1367.0,756.1 L1368.0,733.6 L1369.0,747.6 L1370.0,732.9 L1371.0,755.3 L1372.0,733.3 L1372.5,750.0 L1373.0,733.0 L1374.0,750.2 L1375.0,733.2 L1376.0,742.4 L1377.0,733.3 L1378.0,746.7 L1379.0,735.8 L1380.0,774.9 L1381.0,787.3 L1382.0,825.0 L1383.0,786.3 L1384.0,784.7 L1385.0,736.6 L1386.0,755.8 L1387.0,733.4 L1388.0,740.8 L1389.0,733.2 L1390.0,754.1 L1391.0,732.9 L1392.0,748.7 L1393.0,735.3 L1394.0,767.8 L1395.0,782.5 L1396.0,733.7 L1397.0,754.8 L1398.0,733.9 L1399.0,743.2 L1400.0,733.0 L1401.0,755.9 L1402.0,733.3 L1403.0,750.2 L1404.0,733.2 L1405.0,749.9 L1406.0,737.2 L1407.0,785.6 L1408.0,786.1 L1409.0,807.2 L1410.0,805.6 L1411.0,821.6 L1412.0,822.6 L1413.0,847.8 L1413.8,860.0 L1415.0,830.8 L1416.0,824.9 L1417.0,801.4 L1418.0,803.2 L1419.0,773.1 L1420.0,778.8 L1421.0,734.4 L1422.0,758.0 L1423.0,733.3 L1424.0,748.9 L1425.0,734.4 L1426.0,744.2 L1427.0,732.8 L1428.0,759.7 L1429.0,779.4 L1430.0,846.9 L1431.0,831.9 L1432.0,876.5 L1433.0,871.4 L1433.8,912.5 L1435.0,886.8 L1436.0,888.8 L1437.0,888.4 L1438.0,918.2 L1438.8,932.5 L1440.0,860.2 L1441.0,857.8 L1442.0,795.7 L1443.0,795.2 L1444.0,759.9 L1445.0,791.3 L1446.0,785.9 L1447.0,828.7 L1448.0,830.9 L1448.8,875.0 L1450.0,823.8 L1451.0,836.5 L1452.0,807.3 L1453.0,818.8 L1454.0,789.7 L1455.0,833.5 L1456.0,832.5 L1457.0,875.3 L1457.5,887.5 L1458.0,858.1 L1459.0,868.9 L1460.0,852.2 L1461.0,860.0 L1462.0,839.3 L1463.0,831.8 L1464.0,788.4 L1465.0,803.7 L1466.0,773.0 L1467.0,780.5 L1468.0,737.0 L1469.0,760.3 L1470.0,733.7 L1471.0,748.2 L1472.0,733.3 L1473.0,750.2 L1474.0,734.9 L1475.0,761.9 L1476.0,732.9 L1477.0,789.3 L1477.5,800.0 L1478.0,769.4 L1479.0,784.1 L1480.0,737.2 L1481.0,765.8 L1482.0,733.2 L1483.0,754.0 L1484.0,733.0 L1485.0,755.8 L1486.0,733.5 L1487.0,755.9 L1488.0,733.9 L1489.0,751.2 L1490.0,733.8 L1491.0,757.8 L1492.0,734.0 L1493.0,774.0 L1494.0,764.3 L1495.0,785.3 L1496.0,776.7 L1497.0,787.4 L1497.5,792.5 L1498.0,755.7 L1499.0,773.2 L1500.0,735.0 L1501.0,757.6 L1502.0,733.4 L1503.0,756.5 L1504.0,734.5 L1505.0,758.1 L1506.0,735.5 L1507.0,769.5 L1507.5,775.0 L1508.0,736.1 L1509.0,767.1 L1510.0,735.1 L1511.0,763.0 L1512.0,733.7 L1513.0,746.8 L1514.0,733.1 L1515.0,743.0 L1516.0,732.8 L1517.0,747.8 L1518.0,734.7 L1519.0,792.5 L1520.0,825.0 L1520.0,732.8 L160.0,732.8 Z" fill="#F18F01" fill-opacity="0.3" stroke="none"/><path d="M160.0,753.1 L161.0,734.1 L162.0,748.0 L163.0,815.0 L164.0,734.7 L165.0,751.7 L166.0,732.9 L167.0,752.9 L168.0,732.8 L169.0,743.8 L170.0,734.0 L171.0,759.4 L172.0,765.0 L173.0,735.7 L174.0,750.9 L175.0,732.8 L176.0,755.3 L177.0,733.5 L178.0,754.1 L179.0,762.0 L180.0,732.9 L181.0,743.3 L182.0,733.6 L183.0,755.5 L184.0,733.8 L184.5,776.7 L185.0,734.9 L186.0,750.0 L187.0,733.8 L188.0,748.2 L189.0,733.2 L190.0,765.0 L191.0,778.3 L192.0,814.4 L193.0,792.5 L194.0,821.9 L195.0,800.1 L196.0,845.0 L197.0,807.3 L198.0,803.8 L199.0,735.7 L200.0,747.4 L201.0,733.2 L202.0,745.8 L203.0,755.0 L204.0,734.0 L205.0,744.1 L206.0,735.8 L207.0,781.0 L207.5,790.1 L208.0,772.3 L209.0,775.0 L210.0,762.4 L211.0,809.0 L212.0,804.7 L213.0,828.7 L214.0,824.1 L214.5,870.8 L215.0,846.9 L216.0,856.7 L217.0,818.9 L218.0,814.2 L219.0,803.1 L220.0,807.2 L221.0,763.4 L222.0,787.2 L223.0,734.3 L224.0,744.9 L225.0,752.4 L226.0,819.4 L227.0,798.6 L228.0,825.0 L229.0,784.5 L230.0,804.3 L231.0,783.3 L232.0,804.7 L233.0,783.6 L234.0,809.5 L235.0,801.4 L236.0,821.7 L237.0,820.7 L237.5,870.9 L238.0,849.1 L239.0,823.4 L240.0,758.6 L241.0,750.6 L242.0,734.0 L243.0,746.3 L244.0,733.6 L245.0,753.7 L246.0,763.8 L247.0,807.9 L248.0,809.5 L248.5,837.0 L249.0,794.0 L250.0,774.7 L251.0,734.6 L252.0,747.5 L253.0,733.3 L254.0,738.3 L255.0,732.9 L256.0,753.5 L257.0,733.6 L258.0,752.4 L259.0,753.0 L260.0,733.4 L261.0,749.0 L262.0,732.9 L263.0,756.0 L264.0,736.1 L265.0,772.5 L266.0,781.0 L267.0,736.1 L268.0,770.9 L269.0,733.3 L270.0,740.7 L271.0,733.8 L272.0,782.5 L273.0,805.0 L274.0,776.7 L275.0,789.7 L276.0,734.9 L277.0,744.0 L278.0,733.2 L279.0,735.4 L280.0,733.0 L281.0,737.8 L282.0,732.9 L283.0,733.3 L284.0,732.8 L285.0,752.9 L286.0,733.4 L287.0,770.7 L288.0,759.7 L289.0,781.7 L290.0,756.4 L291.0,794.6 L292.0,801.0 L293.0,769.2 L294.0,781.8 L295.0,735.7 L296.0,753.9 L297.0,733.4 L298.0,740.8 L299.0,733.0 L300.0,753.8 L301.0,733.1 L302.0,744.2 L303.0,749.0 L304.0,734.4 L305.0,744.7 L306.0,733.1 L307.0,753.9 L308.0,732.8 L309.0,755.9 L310.0,733.0 L311.0,753.6 L312.0,733.3 L313.0,745.0 L314.0,733.3 L315.0,752.9 L316.0,735.4 L317.0,812.6 L317.5,836.8 L318.0,820.4 L319.0,827.2 L320.0,805.4 L321.0,820.1 L322.0,794.2 L323.0,802.7 L324.0,759.1 L325.0,774.7 L326.0,733.4 L327.0,756.5 L328.0,733.4 L329.0,737.9 L330.0,733.0 L331.0,755.2 L332.0,733.1 L333.0,749.3 L334.0,734.0 L335.0,765.0 L336.0,736.5 L337.0,785.0 L338.0,733.2 L339.0,762.9 L340.0,733.4 L341.0,747.2 L342.0,733.2 L343.0,742.5 L344.0,733.4 L345.0,754.8 L346.0,737.1 L347.0,784.5 L348.0,804.8 L349.0,853.0 L350.0,824.3 L351.0,837.0 L352.0,803.2 L353.0,781.1 L354.0,777.7 L355.0,833.9 L356.0,861.0 L357.0,801.3 L358.0,801.2 L359.0,762.1 L360.0,764.4 L361.0,734.3 L362.0,744.2 L363.0,733.1 L364.0,746.3 L365.0,735.0 L366.0,763.6 L367.0,736.8 L368.0,784.3 L369.0,783.9 L370.0,803.1 L371.0,801.9 L372.0,847.7 L372.5,871.2 L373.0,829.4 L374.0,836.4 L375.0,798.2 L376.0,785.0 L377.0,734.4 L378.0,744.1 L379.0,733.0 L380.0,736.9 L381.0,733.7 L382.0,756.1 L383.0,735.2 L384.0,765.0 L385.0,733.7 L386.0,750.5 L387.0,732.9 L388.0,757.6 L389.0,732.8 L390.0,784.9 L391.0,780.1 L392.0,809.1 L393.0,802.9 L394.0,829.4 L395.0,845.0 L396.0,792.6 L397.0,778.0 L398.0,737.3 L399.0,764.9 L400.0,733.3 L401.0,756.3 L402.0,733.1 L403.0,748.7 L404.0,732.8 L405.0,740.2 L406.0,732.9 L407.0,739.5 L408.0,734.9 L409.0,763.6 L410.0,758.7 L411.0,794.7 L412.0,791.9 L412.5,821.2 L413.0,796.0 L414.0,790.2 L415.0,734.5 L416.0,764.6 L417.0,772.4 L418.0,815.0 L419.0,771.7 L420.0,763.8 L421.0,734.1 L422.0,736.7 L423.0,732.9 L424.0,746.0 L425.0,732.8 L426.0,748.0 L427.0,733.6 L428.0,764.5 L429.0,736.9 L430.0,776.5 L431.0,787.0 L432.0,735.1 L433.0,754.6 L434.0,734.3 L435.0,751.4 L436.0,733.6 L437.0,742.2 L438.0,733.0 L439.0,754.9 L440.0,733.9 L441.0,773.6 L442.0,783.0 L443.0,736.8 L444.0,753.3 L445.0,734.7 L446.0,754.6 L447.0,734.7 L448.0,757.8 L449.0,733.5 L450.0,777.9 L451.0,780.2 L451.5,799.2 L452.0,762.6 L453.0,771.2 L454.0,733.0 L455.0,752.6 L456.0,733.6 L457.0,753.2 L458.0,733.2 L459.0,740.9 L460.0,733.1 L461.0,748.3 L462.0,733.9 L463.0,757.5 L464.0,734.0 L465.0,762.8 L466.0,734.0 L467.0,777.7 L467.5,780.4 L468.0,734.9 L469.0,769.3 L470.0,733.7 L471.0,756.9 L472.0,734.0 L473.0,746.6 L474.0,733.8 L475.0,742.8 L476.0,733.3 L477.0,741.6 L478.0,733.3 L479.0,754.6 L480.0,734.1 L481.0,750.6 L482.0,732.9 L483.0,765.0 L484.0,733.0 L485.0,753.9 L486.0,733.0 L487.0,754.0 L488.0,733.1 L489.0,753.2 L490.0,733.0 L491.0,750.5 L492.0,733.0 L493.0,754.3 L494.0,733.6 L495.0,744.6 L496.0,733.3 L497.0,753.6 L498.0,735.7 L499.0,771.8 L500.0,759.9 L501.0,787.0 L502.0,771.2 L503.0,795.5 L504.0,805.0 L505.0,765.8 L506.0,781.0 L507.0,751.4 L508.0,771.1 L509.0,733.8 L510.0,756.8 L511.0,733.1 L512.0,753.0 L513.0,733.3 L514.0,743.5 L515.0,733.0 L516.0,767.9 L517.0,801.0 L518.0,757.0 L519.0,763.5 L520.0,733.8 L521.0,754.6 L522.0,734.2 L523.0,747.2 L524.0,733.1 L525.0,739.9 L526.0,733.1 L527.0,748.7 L528.0,733.4 L529.0,763.6 L530.0,759.1 L531.0,793.0 L532.0,773.1 L533.0,809.8 L533.5,817.5 L534.0,792.0 L535.0,792.7 L536.0,766.1 L537.0,763.9 L538.0,734.3 L539.0,752.2 L540.0,733.2 L541.0,744.6 L542.0,733.1 L543.0,746.5 L544.0,733.2 L545.0,745.2 L546.0,734.6 L547.0,757.0 L548.0,733.0 L549.0,745.9 L550.0,735.7 L551.0,774.2 L552.0,786.5 L552.5,808.7 L553.0,774.1 L554.0,773.6 L555.0,734.4 L556.0,745.5 L557.0,732.8 L558.0,754.0 L559.0,734.0 L560.0,775.0 L561.0,734.3 L562.0,754.6 L563.0,733.6 L564.0,741.9 L565.0,733.0 L566.0,740.3 L567.0,733.5 L568.0,752.7 L569.0,734.6 L570.0,778.3 L571.0,795.0 L572.0,768.6 L573.0,784.3 L574.0,734.6 L575.0,756.5 L576.0,733.4 L577.0,747.7 L578.0,733.1 L579.0,739.3 L580.0,733.2 L581.0,744.4 L582.0,734.4 L583.0,751.0 L584.0,735.2 L585.0,762.1 L586.0,736.2 L587.0,774.8 L588.0,758.2 L589.0,781.0 L590.0,734.8 L591.0,764.0 L592.0,735.4 L593.0,753.1 L594.0,733.2 L595.0,747.3 L596.0,733.1 L597.0,741.0 L598.0,732.9 L599.0,753.8 L600.0,734.5 L601.0,781.5 L602.0,766.5 L603.0,808.4 L604.0,802.4 L605.0,830.3 L606.0,828.0 L607.0,862.3 L608.0,856.9 L609.0,883.5 L610.0,877.6 L611.0,897.6 L612.0,894.8 L613.0,924.2 L614.0,903.5 L615.0,929.1 L616.0,918.8 L617.0,948.0 L618.0,946.9 L619.0,955.9 L620.0,939.9 L621.0,960.8 L622.0,977.0 L623.0,950.3 L624.0,946.1 L625.0,911.0 L626.0,905.8 L627.0,871.3 L628.0,872.0 L629.0,845.0 L630.0,841.9 L631.0,801.2 L632.0,813.8 L633.0,782.4 L634.0,783.4 L635.0,734.0 L636.0,767.7 L637.0,735.5 L638.0,773.6 L639.0,772.2 L640.0,799.8 L641.0,781.4 L642.0,818.9 L643.0,818.4 L644.0,839.1 L645.0,821.0 L646.0,846.0 L647.0,835.8 L647.5,860.0 L648.0,822.5 L649.0,835.7 L650.0,806.9 L651.0,806.1 L652.0,780.0 L653.0,781.6 L654.0,734.7 L655.0,754.8 L656.0,733.9 L657.0,745.4 L658.0,732.9 L659.0,750.0 L660.0,732.9 L661.0,738.6 L662.0,733.2 L663.0,740.8 L664.0,733.0 L665.0,749.5 L666.0,733.1 L667.0,761.0 L668.0,733.4 L669.0,755.2 L670.0,735.2 L671.0,759.9 L672.0,735.8 L673.0,775.0 L674.0,736.7 L675.0,769.9 L676.0,734.2 L677.0,764.6 L678.0,756.9 L679.0,787.4 L680.0,784.1 L681.0,816.5 L682.0,835.0 L683.0,804.7 L684.0,809.5 L685.0,783.4 L686.0,784.2 L687.0,774.5 L688.0,806.4 L689.0,805.9 L690.0,832.7 L691.0,835.9 L691.5,861.1 L692.0,825.8 L693.0,831.9 L694.0,774.1 L695.0,781.0 L696.0,736.0 L697.0,750.8 L698.0,733.2 L699.0,754.9 L700.0,745.0 L701.0,733.1 L702.0,751.0 L703.0,733.2 L704.0,781.7 L705.0,809.0 L706.0,777.5 L707.0,764.1 L708.0,732.9 L709.0,749.1 L710.0,734.0 L711.0,769.5 L712.0,774.8 L713.0,783.9 L714.0,791.0 L715.0,757.2 L716.0,784.1 L717.0,774.3 L718.0,795.0 L719.0,733.4 L720.0,753.4 L721.0,734.0 L722.0,749.3 L723.0,733.2 L724.0,742.2 L725.0,733.5 L726.0,748.2 L727.0,733.4 L728.0,756.4 L729.0,765.0 L730.0,734.8 L731.0,757.0 L732.0,734.3 L733.0,771.5 L734.0,771.9 L735.0,809.0 L736.0,767.9 L737.0,762.9 L738.0,733.9 L739.0,749.9 L740.0,733.7 L741.0,750.9 L742.0,732.9 L743.0,736.4 L744.0,734.1 L745.0,755.0 L746.0,734.1 L747.0,735.0 L748.0,732.8 L749.0,744.1 L750.0,733.0 L751.0,737.0 L752.0,733.5 L753.0,748.3 L754.0,755.0 L755.0,733.6 L756.0,754.0 L757.0,732.8 L758.0,737.8 L759.0,733.4 L760.0,739.5 L761.0,733.2 L762.0,748.7 L763.0,733.2 L764.0,764.5 L765.0,759.6 L766.0,817.0 L767.0,773.1 L768.0,763.5 L769.0,734.5 L770.0,750.7 L771.0,733.9 L772.0,746.8 L773.0,732.9 L774.0,743.6 L775.0,733.1 L776.0,752.8 L777.0,755.0 L778.0,734.2 L779.0,754.3 L780.0,735.0 L781.0,763.2 L782.0,734.5 L783.0,775.0 L784.0,734.5 L785.0,744.1 L786.0,733.4 L787.0,752.4 L788.0,734.6 L789.0,775.0 L790.0,734.0 L791.0,753.8 L792.0,733.5 L793.0,744.8 L794.0,734.5 L795.0,775.0 L796.0,733.4 L797.0,761.5 L798.0,733.7 L799.0,762.6 L800.0,735.2 L801.0,779.7 L802.0,785.0 L803.0,754.7 L804.0,782.2 L805.0,755.8 L806.0,775.4 L807.0,736.4 L808.0,762.8 L809.0,735.7 L810.0,785.0 L811.0,753.0 L812.0,780.2 L813.0,735.8 L814.0,754.6 L815.0,734.3 L816.0,742.5 L817.0,733.0 L818.0,745.6 L819.0,732.8 L820.0,749.3 L821.0,733.0 L822.0,737.2 L823.0,733.0 L824.0,738.9 L825.0,732.9 L826.0,742.6 L827.0,733.0 L828.0,749.0 L829.0,734.2 L830.0,758.0 L831.0,736.1 L832.0,774.4 L833.0,757.3 L834.0,797.0 L835.0,775.9 L836.0,772.9 L837.0,735.5 L838.0,754.2 L839.0,733.7 L840.0,754.2 L841.0,733.2 L842.0,745.9 L843.0,733.4 L844.0,750.2 L845.0,733.6 L846.0,745.7 L847.0,733.2 L848.0,754.6 L849.0,734.4 L850.0,761.5 L850.5,764.6 L851.0,735.9 L852.0,753.0 L853.0,732.9 L854.0,743.8 L855.0,733.0 L856.0,749.4 L857.0,732.8 L858.0,740.1 L859.0,733.5 L860.0,756.1 L861.0,733.3 L862.0,746.0 L863.0,733.9 L864.0,755.0 L865.0,733.9 L866.0,755.7 L867.0,733.0 L868.0,740.2 L869.0,733.0 L870.0,746.9 L871.0,733.1 L872.0,737.0 L873.0,733.1 L874.0,750.5 L875.0,733.3 L876.0,742.5 L877.0,735.0 L878.0,763.4 L879.0,775.0 L880.0,736.3 L881.0,754.9 L882.0,733.4 L883.0,751.9 L884.0,733.2 L885.0,744.4 L886.0,733.0 L887.0,749.3 L888.0,734.1 L889.0,774.1 L890.0,775.0 L890.5,795.7 L891.0,774.6 L892.0,777.8 L893.0,735.1 L894.0,756.7 L895.0,733.2 L896.0,750.5 L897.0,755.0 L898.0,734.1 L899.0,751.4 L900.0,733.7 L901.0,756.4 L902.0,736.6 L903.0,767.2 L904.0,771.0 L905.0,733.3 L906.0,754.9 L907.0,732.9 L908.0,744.3 L909.0,733.7 L910.0,750.2 L911.0,733.8 L912.0,747.8 L913.0,755.0 L914.0,734.4 L915.0,745.6 L916.0,733.0 L917.0,756.1 L918.0,732.9 L919.0,748.4 L920.0,734.8 L921.0,765.0 L922.0,733.2 L923.0,750.6 L924.0,733.5 L925.0,753.4 L926.0,733.4 L927.0,736.9 L928.0,733.1 L929.0,742.1 L930.0,745.0 L931.0,733.3 L932.0,737.0 L933.0,733.1 L934.0,742.1 L935.0,735.8 L936.0,781.7 L937.0,781.1 L938.0,825.0 L939.0,802.4 L940.0,821.5 L941.0,785.2 L942.0,823.5 L943.0,813.8 L944.0,844.1 L945.0,826.5 L946.0,857.0 L947.0,804.8 L948.0,784.0 L949.0,734.3 L950.0,752.2 L951.0,733.3 L952.0,755.0 L953.0,733.9 L954.0,745.8 L955.0,734.0 L956.0,764.4 L957.0,733.9 L958.0,775.7 L959.0,760.1 L960.0,798.4 L961.0,804.3 L962.0,828.4 L963.0,831.1 L964.0,877.0 L965.0,845.1 L966.0,864.6 L967.0,820.8 L968.0,822.1 L969.0,800.4 L970.0,801.6 L971.0,802.1 L972.0,835.0 L973.0,786.7 L974.0,791.4 L975.0,766.0 L976.0,760.2 L977.0,733.3 L978.0,742.0 L979.0,733.5 L980.0,745.6 L981.0,732.9 L982.0,767.0 L983.0,785.0 L984.0,757.8 L985.0,771.1 L986.0,734.0 L987.0,766.9 L988.0,733.4 L989.0,772.1 L990.0,772.6 L991.0,790.1 L992.0,801.0 L993.0,767.2 L994.0,788.3 L995.0,760.6 L996.0,791.1 L997.0,789.2 L998.0,812.2 L999.0,825.0 L1000.0,771.9 L1001.0,782.6 L1002.0,732.8 L1003.0,751.4 L1004.0,733.1 L1005.0,739.2 L1006.0,733.6 L1007.0,745.0 L1008.0,734.2 L1009.0,757.3 L1010.0,734.1 L1011.0,769.0 L1012.0,755.4 L1013.0,783.7 L1014.0,783.2 L1015.0,805.0 L1016.0,773.9 L1017.0,764.3 L1018.0,733.5 L1019.0,736.8 L1020.0,732.8 L1021.0,742.4 L1022.0,734.2 L1023.0,768.9 L1024.0,767.1 L1025.0,814.9 L1026.0,821.2 L1027.0,853.1 L1028.0,875.0 L1029.0,820.3 L1030.0,829.7 L1031.0,779.0 L1032.0,783.5 L1033.0,736.1 L1034.0,753.7 L1035.0,733.3 L1036.0,747.7 L1037.0,733.1 L1038.0,745.7 L1039.0,733.3 L1040.0,748.0 L1041.0,734.3 L1042.0,762.6 L1043.0,733.7 L1044.0,792.0 L1045.0,817.0 L1046.0,784.6 L1047.0,793.4 L1048.0,770.1 L1049.0,763.1 L1050.0,733.5 L1051.0,741.9 L1052.0,733.1 L1053.0,745.9 L1054.0,733.4 L1055.0,750.2 L1056.0,734.3 L1057.0,755.0 L1058.0,732.9 L1059.0,749.2 L1060.0,733.0 L1061.0,742.3 L1062.0,733.5 L1063.0,753.0 L1064.0,733.4 L1065.0,754.1 L1066.0,733.0 L1067.0,744.9 L1068.0,734.1 L1069.0,768.9 L1070.0,769.7 L1071.0,793.3 L1072.0,774.1 L1073.0,815.0 L1074.0,779.0 L1075.0,790.1 L1076.0,754.7 L1077.0,774.7 L1078.0,734.6 L1079.0,767.1 L1080.0,734.6 L1081.0,767.7 L1082.0,734.8 L1083.0,775.0 L1084.0,736.8 L1085.0,760.3 L1086.0,732.9 L1087.0,750.9 L1088.0,734.1 L1089.0,744.0 L1090.0,732.9 L1091.0,745.0 L1092.0,733.0 L1093.0,756.4 L1094.0,733.5 L1095.0,741.0 L1096.0,733.4 L1097.0,752.5 L1098.0,733.0 L1099.0,738.6 L1100.0,733.2 L1101.0,740.6 L1102.0,733.8 L1103.0,744.9 L1104.0,735.5 L1105.0,769.6 L1106.0,753.8 L1107.0,833.1 L1107.5,860.0 L1108.0,849.5 L1109.0,847.9 L1110.0,824.7 L1111.0,815.1 L1112.0,763.6 L1113.0,776.3 L1114.0,735.2 L1115.0,745.3 L1116.0,732.9 L1117.0,754.2 L1118.0,732.9 L1119.0,744.5 L1120.0,733.1 L1121.0,756.2 L1122.0,732.8 L1123.0,742.3 L1124.0,733.9 L1125.0,750.0 L1126.0,733.1 L1127.0,772.8 L1128.0,762.3 L1129.0,799.0 L1130.0,756.9 L1131.0,763.6 L1132.0,734.1 L1133.0,750.2 L1134.0,733.0 L1135.0,745.8 L1136.0,734.4 L1137.0,774.8 L1138.0,776.1 L1139.0,805.0 L1140.0,782.7 L1141.0,796.1 L1142.0,773.4 L1143.0,762.6 L1144.0,734.9 L1145.0,751.9 L1146.0,732.9 L1147.0,756.1 L1148.0,736.4 L1149.0,785.0 L1150.0,753.4 L1151.0,774.8 L1152.0,734.8 L1153.0,759.2 L1154.0,734.1 L1155.0,754.2 L1156.0,732.8 L1157.0,789.5 L1158.0,780.2 L1158.5,828.5 L1159.0,788.1 L1160.0,797.0 L1161.0,764.0 L1162.0,762.1 L1163.0,736.6 L1164.0,795.6 L1165.0,809.8 L1166.0,826.8 L1167.0,835.0 L1168.0,791.3 L1169.0,792.2 L1170.0,736.8 L1171.0,779.8 L1172.0,759.7 L1173.0,789.0 L1174.0,767.5 L1175.0,801.0 L1176.0,765.3 L1177.0,781.8 L1178.0,734.1 L1179.0,777.5 L1180.0,770.4 L1181.0,783.5 L1182.0,773.1 L1183.0,799.9 L1184.0,811.0 L1185.0,771.0 L1186.0,782.8 L1187.0,756.2 L1188.0,791.2 L1189.0,807.2 L1190.0,841.3 L1191.0,846.3 L1192.0,881.9 L1193.0,917.0 L1194.0,879.7 L1195.0,880.1 L1196.0,819.3 L1197.0,822.8 L1198.0,776.2 L1199.0,763.8 L1200.0,734.3 L1201.0,748.2 L1202.0,733.2 L1203.0,739.3 L1204.0,733.3 L1205.0,736.8 L1206.0,733.7 L1207.0,755.4 L1208.0,735.2 L1209.0,770.8 L1210.0,767.4 L1211.0,785.0 L1212.0,765.3 L1213.0,769.6 L1214.0,734.6 L1215.0,756.6 L1216.0,733.4 L1217.0,752.0 L1218.0,733.5 L1219.0,743.1 L1220.0,733.4 L1221.0,746.1 L1222.0,733.1 L1223.0,747.8 L1224.0,732.9 L1225.0,745.0 L1226.0,733.9 L1227.0,750.7 L1228.0,733.2 L1229.0,747.0 L1230.0,732.9 L1231.0,738.8 L1232.0,733.0 L1233.0,739.7 L1234.0,733.1 L1235.0,741.4 L1236.0,733.2 L1237.0,749.8 L1238.0,733.0 L1239.0,738.8 L1240.0,733.5 L1241.0,743.9 L1242.0,733.2 L1243.0,750.1 L1244.0,755.0 L1245.0,734.0 L1246.0,742.8 L1247.0,732.8 L1248.0,746.1 L1249.0,735.0 L1250.0,765.0 L1251.0,734.9 L1252.0,736.9 L1253.0,733.2 L1254.0,738.7 L1255.0,732.9 L1256.0,742.1 L1257.0,734.4 L1258.0,759.4 L1259.0,763.9 L1260.0,799.6 L1261.0,800.8 L1262.0,827.8 L1263.0,822.0 L1264.0,833.8 L1265.0,832.0 L1266.0,841.7 L1267.0,823.0 L1268.0,850.8 L1269.0,838.1 L1270.0,865.0 L1271.0,822.7 L1272.0,827.1 L1273.0,783.1 L1274.0,778.8 L1275.0,734.7 L1276.0,753.3 L1277.0,733.4 L1278.0,742.9 L1279.0,733.1 L1280.0,752.7 L1281.0,733.5 L1282.0,806.3 L1282.5,825.0 L1283.0,792.8 L1284.0,790.2 L1285.0,733.9 L1286.0,764.5 L1287.0,735.3 L1288.0,754.8 L1289.0,735.4 L1290.0,771.8 L1291.0,765.9 L1292.0,794.8 L1293.0,779.2 L1294.0,809.7 L1295.0,825.0 L1296.0,786.4 L1297.0,792.6 L1298.0,769.4 L1299.0,770.5 L1300.0,736.3 L1301.0,752.1 L1302.0,734.3 L1303.0,752.8 L1304.0,733.0 L1305.0,754.6 L1306.0,733.8 L1307.0,767.5 L1308.0,752.9 L1309.0,796.6 L1310.0,812.5 L1311.0,775.0 L1312.0,779.1 L1313.0,735.6 L1314.0,756.0 L1315.0,764.5 L1316.0,805.7 L1317.0,819.8 L1318.0,881.7 L1319.0,892.4 L1320.0,934.3 L1320.5,945.0 L1321.0,910.9 L1322.0,903.1 L1323.0,885.4 L1324.0,922.1 L1325.0,955.0 L1326.0,929.1 L1327.0,925.8 L1328.0,888.8 L1329.0,911.5 L1330.0,929.9 L1331.2,1012.5 L1332.0,963.1 L1333.0,964.5 L1334.0,913.7 L1335.0,875.0 L1336.0,784.3 L1337.0,778.9 L1338.0,733.1 L1339.0,737.5 L1340.0,734.5 L1341.0,757.6 L1342.0,735.2 L1343.0,785.9 L1344.0,787.0 L1345.0,833.2 L1346.0,833.2 L1347.0,878.2 L1348.0,900.0 L1349.0,847.2 L1350.0,834.2 L1351.0,776.5 L1352.0,784.5 L1353.0,733.6 L1354.0,758.2 L1355.0,734.1 L1356.0,757.8 L1357.0,734.4 L1358.0,786.8 L1359.0,771.5 L1360.0,815.0 L1361.2,830.0 L1362.0,784.2 L1363.0,796.4 L1364.0,771.2 L1365.0,760.3 L1366.0,735.1 L1367.0,756.1 L1368.0,733.6 L1369.0,747.6 L1370.0,732.9 L1371.0,755.3 L1372.0,733.3 L1372.5,750.0 L1373.0,733.0 L1374.0,750.2 L1375.0,733.2 L1376.0,742.4 L1377.0,733.3 L1378.0,746.7 L1379.0,735.8 L1380.0,774.9 L1381.0,787.3 L1382.0,825.0 L1383.0,786.3 L1384.0,784.7 L1385.0,736.6 L1386.0,755.8 L1387.0,733.4 L1388.0,740.8 L1389.0,733.2 L1390.0,754.1 L1391.0,732.9 L1392.0,748.7 L1393.0,735.3 L1394.0,767.8 L1395.0,782.5 L1396.0,733.7 L1397.0,754.8 L1398.0,733.9 L1399.0,743.2 L1400.0,733.0 L1401.0,755.9 L1402.0,733.3 L1403.0,750.2 L1404.0,733.2 L1405.0,749.9 L1406.0,737.2 L1407.0,785.6 L1408.0,786.1 L1409.0,807.2 L1410.0,805.6 L1411.0,821.6 L1412.0,822.6 L1413.0,847.8 L1413.8,860.0 L1415.0,830.8 L1416.0,824.9 L1417.0,801.4 L1418.0,803.2 L1419.0,773.1 L1420.0,778.8 L1421.0,734.4 L1422.0,758.0 L1423.0,733.3 L1424.0,748.9 L1425.0,734.4 L1426.0,744.2 L1427.0,732.8 L1428.0,759.7 L1429.0,779.4 L1430.0,846.9 L1431.0,831.9 L1432.0,876.5 L1433.0,871.4 L1433.8,912.5 L1435.0,886.8 L1436.0,888.8 L1437.0,888.4 L1438.0,918.2 L1438.8,932.5 L1440.0,860.2 L1441.0,857.8 L1442.0,795.7 L1443.0,795.2 L1444.0,759.9 L1445.0,791.3 L1446.0,785.9 L1447.0,828.7 L1448.0,830.9 L1448.8,875.0 L1450.0,823.8 L1451.0,836.5 L1452.0,807.3 L1453.0,818.8 L1454.0,789.7 L1455.0,833.5 L1456.0,832.5 L1457.0,875.3 L1457.5,887.5 L1458.0,858.1 L1459.0,868.9 L1460.0,852.2 L1461.0,860.0 L1462.0,839.3 L1463.0,831.8 L1464.0,788.4 L1465.0,803.7 L1466.0,773.0 L1467.0,780.5 L1468.0,737.0 L1469.0,760.3 L1470.0,733.7 L1471.0,748.2 L1472.0,733.3 L1473.0,750.2 L1474.0,734.9 L1475.0,761.9 L1476.0,732.9 L1477.0,789.3 L1477.5,800.0 L1478.0,769.4 L1479.0,784.1 L1480.0,737.2 L1481.0,765.8 L1482.0,733.2 L1483.0,754.0 L1484.0,733.0 L1485.0,755.8 L1486.0,733.5 L1487.0,755.9 L1488.0,733.9 L1489.0,751.2 L1490.0,733.8 L1491.0,757.8 L1492.0,734.0 L1493.0,774.0 L1494.0,764.3 L1495.0,785.3 L1496.0,776.7 L1497.0,787.4 L1497.5,792.5 L1498.0,755.7 L1499.0,773.2 L1500.0,735.0 L1501.0,757.6 L1502.0,733.4 L1503.0,756.5 L1504.0,734.5 L1505.0,758.1 L1506.0,735.5 L1507.0,769.5 L1507.5,775.0 L1508.0,736.1 L1509.0,767.1 L1510.0,735.1 L1511.0,763.0 L1512.0,733.7 L1513.0,746.8 L1514.0,733.1 L1515.0,743.0 L1516.0,732.8 L1517.0,747.8 L1518.0,734.7 L1519.0,792.5 L1520.0,825.0" fill="none" stroke="#F18F01" stroke-width="3.2"/></g>
<g clip-path="url(#topclip)"><path d="M161.0,621.0 L162.5,618.3 L164.0,618.1 L165.5,616.1 L167.0,613.0 L168.5,611.7 L170.0,609.7 L171.5,608.4 L173.0,606.8 L174.5,603.3 L176.0,601.3 L177.5,601.4 L179.0,598.6 L180.5,597.5 L182.0,593.8 L183.5,594.3 L185.0,594.5 L186.5,592.8 L188.0,594.0 L189.5,593.3 L191.0,590.7 L192.5,590.2 L194.0,590.9 L195.5,591.3 L197.0,589.5 L198.5,588.5 L200.0,588.5 L201.5,587.0 L203.0,587.0 L204.5,587.0 L206.0,586.6 L207.6,586.5 L209.2,587.1 L210.8,587.6 L212.4,588.8 L214.0,588.9 L215.6,588.9 L217.1,590.4 L218.5,589.4 L220.0,589.2 L221.4,587.7 L222.9,589.3 L224.4,588.6 L225.8,586.4 L227.3,586.6 L228.8,587.1 L230.2,587.7 L231.7,588.8 L233.1,588.1 L234.6,589.6 L236.0,589.8 L237.5,586.1 L239.0,583.9 L240.5,581.8 L242.0,578.8 L243.4,577.3 L244.9,576.8 L246.3,574.7 L247.8,574.5 L249.2,575.2 L250.7,573.5 L252.1,572.2 L253.6,572.4 L255.0,572.1 L256.5,571.6 L258.0,570.5 L259.5,570.3 L261.0,570.1 L262.5,570.4 L264.0,569.4 L265.5,568.7 L267.0,568.5 L268.5,567.1 L270.0,566.7 L271.6,567.2 L273.1,566.8 L274.7,564.8 L276.3,563.3 L277.9,561.7 L279.4,561.4 L281.0,561.5 L282.4,560.8 L283.9,560.2 L285.3,560.8 L286.8,559.2 L288.2,559.8 L289.6,560.7 L291.1,559.7 L292.5,559.3 L294.0,557.9 L295.6,557.6 L297.1,557.6 L298.7,554.4 L300.2,555.3 L301.8,554.5 L303.3,553.7 L304.8,552.4 L306.4,551.6 L307.9,549.9 L309.5,549.1 L311.0,547.8 L312.5,546.4 L314.1,547.9 L315.6,546.7 L317.2,545.3 L318.7,545.5 L320.3,545.0 L321.8,544.2 L323.4,543.6 L324.9,543.6 L326.5,543.3 L328.0,542.8 L329.5,540.5 L331.0,537.6 L332.6,536.2 L334.1,534.1 L335.6,533.2 L337.2,533.7 L338.7,533.4 L340.3,533.2 L341.9,533.1 L343.4,531.6 L345.0,532.8 L346.6,533.9 L348.1,534.0 L349.7,535.3 L351.3,536.8 L352.9,540.1 L354.4,540.4 L356.0,541.6 L357.6,541.5 L359.2,539.6 L360.8,537.7 L362.4,536.7 L364.0,536.3 L365.6,534.2 L367.1,536.0 L368.6,538.5 L370.0,539.4 L371.5,540.6 L373.0,542.4 L374.4,539.9 L375.9,539.4 L377.3,538.0 L378.7,536.0 L380.1,534.4 L381.5,534.8 L383.0,532.5 L384.4,530.3 L386.0,531.9 L387.5,533.1 L389.1,531.8 L390.6,532.5 L392.2,533.5 L393.8,535.5 L395.2,532.1 L396.8,531.4 L398.2,529.2 L399.8,526.9 L401.2,524.0 L402.8,523.8 L404.2,521.3 L405.8,518.6 L407.2,515.8 L408.8,514.8 L410.3,514.6 L411.8,515.4 L413.4,515.3 L414.9,516.4 L416.5,515.5 L418.0,516.5 L419.4,516.8 L420.9,515.2 L422.3,512.5 L423.8,512.5 L425.2,509.9 L426.7,510.1 L428.1,508.3 L429.6,506.1 L431.0,504.4 L432.5,503.5 L434.0,505.2 L435.5,502.9 L437.0,504.4 L438.4,504.4 L439.9,503.2 L441.4,501.9 L442.9,503.2 L444.4,503.1 L446.0,503.5 L447.7,504.0 L449.4,504.7 L451.0,505.6 L452.5,504.7 L453.9,505.3 L455.4,504.1 L456.9,503.0 L458.4,502.2 L459.8,502.9 L461.3,501.5 L462.8,501.4 L464.2,500.4 L465.7,501.1 L467.2,500.6 L468.7,497.9 L470.1,497.8 L471.6,497.5 L473.1,498.5 L474.6,497.4 L476.0,495.8 L477.5,494.9 L479.0,494.9 L480.6,494.2 L482.1,493.4 L483.7,490.9 L485.2,491.1 L486.8,489.5 L488.3,487.9 L489.8,488.0 L491.4,485.1 L492.9,485.2 L494.5,482.6 L496.0,481.7 L497.5,483.5 L498.9,481.8 L500.4,483.1 L501.8,482.7 L503.3,483.3 L504.8,482.2 L506.2,482.1 L507.7,482.0 L509.2,483.4 L510.6,482.7 L512.1,483.6 L513.5,483.4 L515.0,481.6 L516.5,482.6 L517.9,481.6 L519.4,481.4 L520.8,481.5 L522.3,483.4 L523.8,483.2 L525.2,483.3 L526.7,482.1 L528.2,482.8 L529.6,483.2 L531.1,482.2 L532.5,482.7 L534.0,481.8 L535.5,481.0 L537.0,481.0 L538.4,482.1 L539.9,480.8 L541.4,481.2 L542.9,479.6 L544.4,478.7 L545.8,479.5 L547.3,479.1 L548.8,476.7 L550.3,477.8 L551.8,476.0 L553.2,475.6 L554.7,477.0 L556.2,474.5 L557.7,474.5 L559.2,475.9 L560.6,474.0 L562.1,472.8 L563.6,472.5 L565.1,472.2 L566.6,473.0 L568.0,471.0 L569.5,472.4 L571.0,470.7 L572.5,471.5 L573.9,470.8 L575.4,468.8 L576.9,468.1 L578.4,468.1 L579.8,466.6 L581.3,467.3 L582.8,465.3 L584.3,464.6 L585.7,466.4 L587.2,464.1 L588.7,464.3 L590.2,463.4 L591.6,462.4 L593.1,461.3 L594.6,462.7 L596.1,462.3 L597.5,461.7 L599.0,459.1 L600.5,459.9 L601.9,461.5 L603.4,463.0 L604.8,462.6 L606.3,463.5 L607.8,464.1 L609.2,463.7 L610.7,465.0 L612.2,465.1 L613.6,465.5 L615.1,465.8 L616.5,466.9 L618.0,469.2 L619.5,467.6 L621.1,467.8 L622.6,467.4 L624.2,467.9 L625.7,466.2 L627.3,465.7 L628.8,465.5 L630.4,465.2 L631.9,466.1 L633.5,465.9 L635.0,464.2 L636.4,465.3 L637.9,466.9 L639.3,468.0 L640.8,469.1 L642.2,469.3 L643.7,469.7 L645.1,471.3 L646.6,471.9 L648.0,474.1 L649.5,471.5 L651.1,470.1 L652.6,470.0 L654.2,467.7 L655.7,467.4 L657.3,465.3 L658.8,464.7 L660.4,461.5 L661.9,460.9 L663.5,460.2 L665.0,457.0 L666.5,459.4 L668.1,457.8 L669.6,459.5 L671.1,460.3 L672.6,460.2 L674.2,459.3 L675.7,459.1 L677.2,460.4 L678.8,461.7 L680.3,460.4 L681.8,462.2 L683.4,460.7 L684.9,462.8 L686.4,461.0 L687.9,462.0 L689.5,463.7 L691.0,463.7 L692.5,464.0 L694.0,463.8 L695.5,463.6 L697.0,463.5 L698.5,462.2 L700.0,462.8 L701.5,462.2 L703.0,463.5 L704.5,463.4 L706.0,462.4 L707.5,460.8 L708.9,461.8 L710.4,460.3 L711.8,458.5 L713.3,457.3 L714.8,456.9 L716.2,454.8 L717.7,453.5 L719.2,452.2 L720.6,450.9 L722.1,449.2 L723.5,449.5 L725.0,447.8 L726.5,447.6 L728.0,445.7 L729.5,445.9 L731.0,444.7 L732.5,444.1 L734.0,443.8 L735.5,444.6 L737.0,443.0 L738.5,442.4 L740.0,442.3 L741.5,439.8 L742.9,437.7 L744.4,437.3 L745.8,435.7 L747.3,434.4 L748.8,432.4 L750.3,433.0 L751.9,433.2 L753.4,432.1 L755.0,432.8 L756.6,432.8 L758.1,432.3 L759.7,432.8 L761.2,433.2 L762.8,434.2 L764.4,434.3 L765.9,432.8 L767.5,433.8 L769.0,431.9 L770.5,431.5 L772.0,432.1 L773.5,432.5 L775.0,430.3 L776.5,431.3 L778.0,431.1 L779.5,429.3 L781.0,429.8 L782.5,429.7 L784.0,428.1 L785.5,428.4 L787.0,428.0 L788.5,427.2 L790.0,427.4 L791.5,427.1 L793.0,426.8 L794.5,425.4 L796.0,424.0 L797.5,423.7 L799.0,423.1 L800.5,423.5 L802.0,423.5 L803.5,421.4 L805.0,422.4 L806.5,422.3 L808.1,421.1 L809.6,421.2 L811.1,420.1 L812.6,421.2 L814.2,419.3 L815.7,421.3 L817.2,420.6 L818.8,419.9 L820.3,418.8 L821.8,420.1 L823.4,419.9 L824.9,417.7 L826.4,419.0 L827.9,418.9 L829.5,418.1 L831.0,418.0 L832.5,416.3 L834.0,416.4 L835.5,415.4 L837.0,412.9 L838.5,412.9 L840.0,410.9 L841.5,409.2 L843.0,408.5 L844.5,406.9 L846.0,407.7 L847.5,406.8 L849.0,403.7 L850.5,403.8 L852.0,402.2 L853.5,400.5 L855.0,399.8 L856.5,398.6 L858.0,398.7 L859.5,395.9 L861.0,395.3 L862.5,395.0 L864.1,393.1 L865.6,393.7 L867.1,392.8 L868.7,392.4 L870.2,390.0 L871.8,389.4 L873.3,389.1 L874.8,387.6 L876.4,387.5 L877.9,385.8 L879.5,385.9 L881.0,385.3 L882.5,384.5 L884.1,384.0 L885.6,382.1 L887.1,381.3 L888.6,381.6 L890.2,380.8 L891.7,379.6 L893.2,378.6 L894.7,377.7 L896.2,376.6 L897.8,377.7 L899.3,375.4 L900.8,376.3 L902.3,375.2 L903.8,375.5 L905.3,374.4 L906.9,374.3 L908.4,371.7 L909.9,371.9 L911.4,371.4 L912.9,370.2 L914.5,370.0 L916.0,369.0 L917.5,368.8 L919.0,367.1 L920.5,367.7 L922.0,367.2 L923.5,366.4 L925.0,366.1 L926.5,366.6 L928.0,365.9 L929.5,364.9 L931.0,364.8 L932.5,363.7 L934.0,364.2 L935.5,364.7 L937.0,366.3 L938.5,368.0 L940.0,369.7 L941.4,368.2 L942.9,366.1 L944.3,365.9 L945.8,363.3 L947.2,362.8 L948.7,360.4 L950.1,359.9 L951.6,359.1 L953.0,356.1 L954.6,356.6 L956.1,358.4 L957.7,359.0 L959.3,359.3 L960.9,359.3 L962.4,361.0 L964.0,361.8 L965.5,360.9 L967.1,361.2 L968.6,359.7 L970.2,359.2 L971.7,358.8 L973.3,357.6 L974.8,356.1 L976.4,355.9 L977.9,354.8 L979.5,354.0 L981.0,353.1 L982.5,352.7 L984.1,353.5 L985.6,353.6 L987.2,354.5 L988.7,354.3 L990.3,354.7 L991.8,354.7 L993.4,354.9 L994.9,354.6 L996.5,354.2 L998.0,354.1 L999.4,354.2 L1000.9,353.5 L1002.3,351.7 L1003.8,349.7 L1005.2,350.3 L1006.7,348.4 L1008.1,347.3 L1009.6,345.3 L1011.0,345.3 L1012.5,345.4 L1014.0,344.1 L1015.5,343.4 L1017.0,343.6 L1018.5,341.6 L1020.0,342.2 L1021.4,344.2 L1022.8,344.6 L1024.2,344.8 L1025.6,346.5 L1027.1,345.1 L1028.5,343.0 L1030.0,341.8 L1031.4,342.3 L1032.9,339.7 L1034.4,338.0 L1035.8,338.7 L1037.3,336.8 L1038.8,335.3 L1040.2,335.8 L1041.8,336.6 L1043.2,335.4 L1044.8,336.8 L1046.2,337.1 L1047.7,336.5 L1049.1,334.4 L1050.5,334.4 L1051.9,332.7 L1053.3,332.6 L1054.7,330.9 L1056.1,331.5 L1057.5,330.9 L1059.0,328.9 L1060.4,327.9 L1061.9,328.9 L1063.3,327.6 L1064.8,327.2 L1066.2,324.5 L1067.7,325.8 L1069.1,324.4 L1070.6,323.0 L1072.1,323.2 L1073.6,324.0 L1075.1,324.1 L1076.6,322.7 L1078.1,323.7 L1079.6,322.6 L1081.1,324.5 L1082.6,323.3 L1084.1,324.4 L1085.6,323.9 L1087.0,323.4 L1088.5,322.3 L1089.9,322.6 L1091.4,321.4 L1092.8,321.1 L1094.3,322.2 L1095.7,321.1 L1097.2,321.7 L1098.6,320.2 L1100.1,321.1 L1101.5,320.8 L1103.0,319.5 L1104.4,318.8 L1105.8,319.9 L1107.2,320.6 L1108.6,320.2 L1110.0,320.8 L1111.5,319.8 L1113.0,320.3 L1114.5,320.3 L1116.0,317.9 L1117.5,316.7 L1119.0,317.5 L1120.5,317.0 L1122.0,316.6 L1123.5,315.0 L1125.0,313.6 L1126.5,314.3 L1128.0,312.0 L1129.5,312.8 L1131.0,310.8 L1132.5,311.0 L1134.0,310.6 L1135.5,309.8 L1137.0,308.7 L1138.5,308.3 L1140.0,309.2 L1141.5,308.0 L1142.9,308.1 L1144.4,306.9 L1145.9,307.9 L1147.4,306.7 L1148.8,307.0 L1150.3,307.5 L1151.8,307.5 L1153.2,304.9 L1154.7,306.5 L1156.2,306.4 L1157.7,304.8 L1159.1,304.7 L1160.6,304.9 L1162.2,305.2 L1163.7,303.5 L1165.3,304.2 L1166.9,303.5 L1168.4,301.5 L1170.0,302.9 L1171.5,301.0 L1173.0,301.6 L1174.5,303.1 L1176.0,302.0 L1177.5,303.0 L1179.0,302.7 L1180.5,303.8 L1182.0,305.0 L1183.5,305.4 L1185.0,303.6 L1186.5,304.6 L1188.0,307.4 L1189.5,306.4 L1191.0,307.9 L1192.5,308.5 L1194.0,307.1 L1195.5,305.6 L1197.0,305.8 L1198.5,304.7 L1200.0,303.2 L1201.5,303.5 L1203.1,302.9 L1204.6,302.0 L1206.1,302.5 L1207.7,303.1 L1209.2,302.2 L1210.8,301.0 L1212.3,300.4 L1213.8,302.4 L1215.4,301.4 L1216.9,300.6 L1218.4,300.5 L1219.9,299.6 L1221.4,298.8 L1222.9,296.9 L1224.5,296.8 L1226.0,296.2 L1227.5,295.0 L1229.0,295.8 L1230.5,294.0 L1232.0,293.8 L1233.5,292.6 L1234.9,291.4 L1236.4,290.1 L1237.9,288.9 L1239.3,286.4 L1240.8,286.9 L1242.2,283.7 L1243.7,284.2 L1245.2,282.8 L1246.6,281.5 L1248.1,278.3 L1249.6,277.2 L1251.0,277.6 L1252.5,275.5 L1254.0,274.9 L1255.5,276.0 L1257.0,273.4 L1258.5,274.2 L1260.0,273.6 L1261.5,273.6 L1263.0,275.0 L1264.5,276.5 L1266.0,277.7 L1267.5,276.4 L1269.1,276.1 L1270.6,273.7 L1272.2,274.0 L1273.8,270.8 L1275.3,269.3 L1276.9,268.7 L1278.4,270.0 L1279.9,269.5 L1281.4,269.5 L1282.9,271.6 L1284.5,272.1 L1286.0,272.7 L1287.5,271.9 L1289.0,272.6 L1290.5,272.7 L1292.0,273.9 L1293.6,272.3 L1295.2,271.2 L1296.8,271.2 L1298.4,270.5 L1300.0,268.5 L1301.5,267.4 L1303.0,268.8 L1304.6,268.4 L1306.1,269.8 L1307.6,269.2 L1309.1,269.6 L1310.6,269.4 L1312.1,269.0 L1313.7,270.0 L1315.2,269.9 L1316.7,268.7 L1318.2,268.9 L1319.7,269.9 L1321.2,270.8 L1322.7,270.2 L1324.2,271.3 L1325.7,272.4 L1327.2,271.6 L1328.7,274.0 L1330.2,274.1 L1331.7,273.8 L1333.4,269.8 L1335.0,266.0 L1336.7,262.1 L1338.4,261.4 L1340.0,259.2 L1341.7,257.6 L1343.3,258.5 L1345.0,262.2 L1346.7,262.7 L1348.3,264.6 L1350.0,261.9 L1351.7,262.0 L1353.3,258.7 L1355.0,257.7 L1356.7,258.4 L1358.3,259.1 L1360.0,259.3 L1361.7,260.2 L1363.1,259.0 L1364.5,257.4 L1365.8,254.6 L1367.2,254.3 L1368.6,253.1 L1370.0,252.9 L1371.7,249.9 L1373.3,247.2 L1375.0,244.8 L1376.7,241.4 L1378.3,243.6 L1380.0,243.7 L1381.7,243.9 L1383.3,244.9 L1384.7,245.4 L1386.2,243.6 L1387.6,242.1 L1389.0,241.3 L1390.4,241.9 L1391.9,240.9 L1393.3,241.0 L1394.8,238.4 L1396.2,238.1 L1397.7,238.0 L1399.2,235.6 L1400.6,234.9 L1402.1,235.1 L1403.5,233.6 L1405.0,232.4 L1406.4,233.6 L1407.9,235.3 L1409.3,235.9 L1410.7,235.7 L1412.1,236.5 L1413.6,239.2 L1415.0,239.5 L1416.5,237.0 L1418.0,237.3 L1419.4,233.9 L1420.9,233.3 L1422.4,233.1 L1423.9,231.4 L1425.3,229.0 L1426.8,229.0 L1428.3,226.9 L1429.7,229.0 L1431.1,230.4 L1432.5,230.7 L1433.9,232.7 L1435.3,233.7 L1436.7,236.1 L1438.1,235.2 L1439.5,234.4 L1440.8,234.1 L1442.2,234.0 L1443.6,231.7 L1445.0,231.0 L1446.4,233.1 L1447.8,234.0 L1449.2,234.2 L1450.5,235.0 L1451.9,235.6 L1453.3,237.6 L1454.8,237.1 L1456.3,236.3 L1457.8,234.8 L1459.3,236.4 L1460.7,235.2 L1462.2,234.3 L1463.7,234.3 L1465.2,234.9 L1466.7,233.0 L1468.4,231.3 L1470.0,229.8 L1471.7,229.2 L1473.3,229.1 L1475.0,229.9 L1476.7,229.1 L1478.3,229.4 L1480.0,227.7 L1481.6,225.9 L1483.3,224.3 L1484.7,224.4 L1486.1,224.2 L1487.5,222.3 L1488.9,222.2 L1490.3,220.9 L1491.7,220.3 L1493.2,220.7 L1494.7,220.9 L1496.2,220.7 L1497.7,221.7 L1499.2,219.6 L1500.8,220.7 L1502.3,221.5 L1503.8,220.8 L1505.3,220.3 L1506.8,219.8 L1508.3,219.8 L1510.0,219.6 L1511.7,218.0 L1513.3,216.1 L1515.0,215.2 L1516.7,216.1 L1518.3,216.7 L1520.0,216.7" fill="none" stroke="#2E86AB" stroke-width="4.1"/><path d="M161.0,623.0 L162.5,622.5 L164.0,620.9 L165.5,617.1 L167.0,615.6 L168.5,615.8 L170.0,614.0 L171.5,612.2 L173.0,609.7 L174.5,608.9 L176.0,607.3 L177.5,605.6 L179.0,603.0 L180.5,602.0 L182.0,600.3 L183.5,600.5 L185.0,600.5 L186.5,599.7 L188.0,598.1 L189.5,597.2 L191.0,596.1 L192.5,594.8 L194.0,594.2 L195.5,594.6 L197.0,593.5 L198.5,593.0 L200.0,593.6 L201.5,592.0 L203.0,591.5 L204.5,590.0 L206.0,588.9 L207.5,589.6 L209.0,589.2 L210.5,590.2 L212.0,591.4 L213.5,590.7 L215.0,589.5 L216.5,591.3 L218.0,591.1 L219.5,591.0 L221.0,591.5 L222.5,591.2 L224.0,591.3 L225.5,590.3 L227.0,591.9 L228.5,591.9 L230.0,590.0 L231.5,591.5 L233.0,591.4 L234.5,590.9 L236.0,591.1 L237.6,588.8 L239.2,587.6 L240.8,584.4 L242.4,583.0 L244.0,579.6 L245.5,580.2 L247.0,579.5 L248.4,577.7 L249.9,577.3 L251.4,577.4 L252.9,576.2 L254.4,574.9 L255.8,573.6 L257.3,573.1 L258.8,573.3 L260.3,571.3 L261.8,572.3 L263.2,570.1 L264.7,570.9 L266.2,568.7 L267.7,569.6 L269.2,568.3 L270.6,567.1 L272.1,566.4 L273.6,566.0 L275.1,565.1 L276.6,563.7 L278.0,562.7 L279.5,562.7 L281.0,563.0 L282.5,561.4 L284.0,559.2 L285.5,560.1 L287.0,559.0 L288.5,558.6 L290.0,556.0 L291.5,556.4 L293.0,553.9 L294.5,554.4 L296.0,552.7 L297.5,551.7 L299.0,552.3 L300.5,549.6 L302.0,549.7 L303.5,549.6 L305.0,547.3 L306.5,546.3 L308.0,547.1 L309.5,545.1 L311.0,544.9 L312.5,542.9 L314.1,543.4 L315.6,542.6 L317.2,543.4 L318.7,541.7 L320.3,543.4 L321.8,540.8 L323.4,542.2 L324.9,540.1 L326.5,540.4 L328.0,541.4 L329.5,538.6 L331.1,537.5 L332.6,537.5 L334.2,535.6 L335.7,533.5 L337.3,534.6 L338.8,531.4 L340.4,530.0 L341.9,529.5 L343.5,529.0 L345.0,528.1 L346.6,526.7 L348.1,527.4 L349.7,526.8 L351.3,527.9 L352.9,528.8 L354.4,528.8 L356.0,529.4 L357.6,528.4 L359.2,528.0 L360.8,527.0 L362.4,525.9 L364.0,524.7 L365.6,525.1 L367.1,524.8 L368.6,524.9 L370.0,526.3 L371.5,527.8 L373.0,526.6 L374.4,526.4 L375.9,524.7 L377.3,523.7 L378.8,521.5 L380.2,522.2 L381.7,519.3 L383.1,518.8 L384.6,517.1 L386.0,514.8 L387.6,516.5 L389.1,515.9 L390.6,516.1 L392.2,516.5 L393.8,517.2 L395.2,516.0 L396.8,516.3 L398.2,515.0 L399.8,515.1 L401.2,513.9 L402.8,513.1 L404.2,510.2 L405.8,509.7 L407.2,508.2 L408.8,508.0 L410.2,508.3 L411.6,509.0 L413.0,509.0 L414.4,508.2 L415.8,508.8 L417.2,509.3 L418.6,508.3 L420.0,508.6 L421.5,507.7 L423.0,505.3 L424.5,505.0 L426.0,502.1 L427.5,500.0 L429.0,500.2 L430.4,500.4 L431.9,500.3 L433.4,501.0 L434.8,500.9 L436.3,500.5 L437.8,501.3 L439.2,500.3 L440.7,502.0 L442.2,502.1 L443.7,501.5 L445.1,500.8 L446.6,501.0 L448.1,501.2 L449.5,499.9 L451.0,500.8 L452.4,500.3 L453.9,498.7 L455.3,497.7 L456.8,498.6 L458.2,496.7 L459.6,496.3 L461.1,496.5 L462.5,495.0 L464.0,493.9 L465.5,495.3 L467.0,493.6 L468.5,492.5 L470.0,493.8 L471.5,492.1 L473.0,492.3 L474.5,493.4 L476.0,492.7 L477.5,490.8 L479.0,490.9 L480.6,489.9 L482.1,489.1 L483.7,487.5 L485.2,487.5 L486.8,485.3 L488.3,484.8 L489.8,484.1 L491.4,484.5 L492.9,481.5 L494.5,482.2 L496.0,479.9 L497.5,480.7 L498.9,480.2 L500.4,480.4 L501.8,481.0 L503.3,480.1 L504.8,479.4 L506.2,479.4 L507.7,479.2 L509.2,481.0 L510.6,480.5 L512.1,481.2 L513.5,480.5 L515.0,478.9 L516.5,480.4 L517.9,480.8 L519.4,480.7 L520.8,480.2 L522.3,479.9 L523.8,480.2 L525.2,481.0 L526.7,479.8 L528.2,480.5 L529.6,480.4 L531.1,481.6 L532.5,481.3 L534.0,481.6 L535.6,480.5 L537.1,478.2 L538.7,477.1 L540.3,476.8 L541.9,475.3 L543.4,474.8 L545.0,474.4 L546.5,474.7 L548.1,473.6 L549.6,473.9 L551.1,471.9 L552.6,472.2 L554.2,473.4 L555.7,471.1 L557.2,471.4 L558.8,470.3 L560.3,470.1 L561.8,471.7 L563.4,471.6 L564.9,470.5 L566.4,469.0 L567.9,469.1 L569.5,468.7 L571.0,469.4 L572.5,469.1 L573.9,468.1 L575.4,468.0 L576.9,466.6 L578.4,467.3 L579.8,467.9 L581.3,467.0 L582.8,465.1 L584.3,465.7 L585.7,465.8 L587.2,464.4 L588.7,465.5 L590.2,464.1 L591.6,464.3 L593.1,463.2 L594.6,464.3 L596.1,463.4 L597.5,462.5 L599.0,461.1 L600.5,462.6 L601.9,462.3 L603.4,464.3 L604.8,465.7 L606.3,464.7 L607.8,466.2 L609.2,466.8 L610.7,467.3 L612.2,468.7 L613.6,470.0 L615.1,470.1 L616.5,470.2 L618.0,472.1 L619.5,470.3 L621.1,471.0 L622.6,470.4 L624.2,470.4 L625.7,470.3 L627.3,468.4 L628.8,469.1 L630.4,468.2 L631.9,468.5 L633.5,469.0 L635.0,467.8 L636.6,466.7 L638.1,468.1 L639.7,469.1 L641.3,469.8 L642.9,469.6 L644.4,470.4 L646.0,468.8 L647.5,470.0 L648.9,468.4 L650.4,467.0 L651.8,466.7 L653.3,465.5 L654.8,462.6 L656.2,463.2 L657.7,462.0 L659.2,459.6 L660.6,459.8 L662.1,458.4 L663.5,456.3 L665.0,456.7 L666.4,454.9 L667.9,455.8 L669.3,455.2 L670.8,454.5 L672.2,455.0 L673.7,454.6 L675.1,453.7 L676.6,455.3 L678.0,453.0 L679.4,453.3 L680.9,454.9 L682.3,456.1 L683.8,456.2 L685.2,456.8 L686.7,456.6 L688.1,457.5 L689.6,457.2 L691.0,457.4 L692.4,457.2 L693.9,455.3 L695.3,454.6 L696.8,455.4 L698.2,453.2 L699.6,453.8 L701.1,453.1 L702.5,451.4 L704.0,451.1 L705.4,450.5 L706.9,449.8 L708.4,447.1 L709.8,446.3 L711.3,445.9 L712.8,445.2 L714.2,443.9 L715.7,442.3 L717.1,442.7 L718.6,442.8 L720.1,440.5 L721.5,440.0 L723.0,438.7 L724.5,438.8 L726.0,439.7 L727.5,438.3 L729.0,439.0 L730.5,438.5 L731.9,438.5 L733.4,439.4 L734.9,437.3 L736.4,439.0 L737.9,437.6 L739.4,438.4 L741.0,437.4 L742.6,435.7 L744.2,433.8 L745.8,433.5 L747.4,430.4 L749.0,430.4 L750.6,428.5 L752.1,428.8 L753.7,429.6 L755.2,429.5 L756.7,429.1 L758.3,428.3 L759.8,428.1 L761.4,428.6 L762.9,428.1 L764.4,428.2 L766.0,429.8 L767.5,427.8 L769.0,429.0 L770.6,427.5 L772.1,427.0 L773.6,426.4 L775.2,425.3 L776.7,425.7 L778.2,424.6 L779.8,424.7 L781.3,423.9 L782.8,424.9 L784.3,424.4 L785.9,422.8 L787.4,422.8 L788.9,423.0 L790.5,421.1 L792.0,420.0 L793.5,420.8 L795.0,421.1 L796.5,422.6 L798.0,422.3 L799.5,422.7 L801.0,424.1 L802.5,423.2 L804.0,424.9 L805.5,424.9 L807.0,424.8 L808.5,424.9 L810.1,422.9 L811.6,423.3 L813.2,422.6 L814.7,420.7 L816.3,420.3 L817.8,420.1 L819.4,418.7 L820.9,417.9 L822.5,417.3 L824.0,416.6 L825.5,415.5 L826.9,415.3 L828.4,412.9 L829.9,412.9 L831.3,412.3 L832.8,410.8 L834.3,410.1 L835.7,408.8 L837.2,410.0 L838.7,407.8 L840.1,407.3 L841.6,407.6 L843.1,405.1 L844.5,406.3 L846.0,403.5 L847.5,402.5 L849.0,402.6 L850.5,401.8 L852.0,402.4 L853.5,401.6 L855.0,400.6 L856.5,399.1 L858.0,398.6 L859.5,397.1 L861.0,397.8 L862.5,395.9 L864.1,394.8 L865.6,394.8 L867.1,392.8 L868.7,392.4 L870.2,393.1 L871.8,390.2 L873.3,389.5 L874.8,388.8 L876.4,388.1 L877.9,387.7 L879.5,386.5 L881.0,385.9 L882.5,384.8 L884.1,384.0 L885.6,384.0 L887.1,383.2 L888.5,383.2 L890.0,384.0 L891.4,382.2 L892.9,382.3 L894.3,383.8 L895.8,382.7 L897.3,383.4 L898.7,381.7 L900.2,382.6 L901.6,383.2 L903.1,381.9 L904.5,382.8 L906.0,382.3 L907.5,380.7 L909.0,381.1 L910.5,378.6 L912.0,377.7 L913.4,377.0 L914.9,375.2 L916.4,375.4 L917.9,373.8 L919.4,372.7 L920.9,372.1 L922.3,372.6 L923.8,372.1 L925.2,371.2 L926.7,369.8 L928.1,369.2 L929.6,368.9 L931.0,367.2 L932.5,366.9 L934.0,370.1 L935.5,369.1 L937.0,372.2 L938.5,372.7 L940.0,374.4 L941.4,371.2 L942.9,370.6 L944.3,370.6 L945.8,367.6 L947.2,366.7 L948.7,366.1 L950.1,364.5 L951.6,363.3 L953.0,363.4 L954.4,362.8 L955.9,365.6 L957.3,365.6 L958.8,364.9 L960.2,367.7 L961.7,366.8 L963.1,368.2 L964.6,369.1 L966.0,368.8 L967.5,368.8 L969.0,366.8 L970.5,366.2 L972.0,366.9 L973.5,365.8 L975.0,364.1 L976.5,363.6 L978.0,363.1 L979.5,360.4 L981.0,360.3 L982.4,359.8 L983.9,360.2 L985.3,360.6 L986.8,361.3 L988.2,361.3 L989.7,362.1 L991.1,362.9 L992.6,363.9 L994.0,364.9 L995.5,364.2 L997.1,363.0 L998.6,361.7 L1000.2,361.9 L1001.7,359.4 L1003.3,358.5 L1004.8,359.4 L1006.4,358.2 L1007.9,356.4 L1009.5,356.1 L1011.0,355.1 L1012.5,354.8 L1014.0,354.1 L1015.5,353.4 L1017.0,353.6 L1018.5,353.0 L1020.0,351.7 L1021.5,352.5 L1023.0,352.9 L1024.5,355.0 L1026.0,356.5 L1027.5,355.6 L1028.9,355.3 L1030.3,353.9 L1031.7,352.4 L1033.1,349.5 L1034.5,349.3 L1035.9,347.1 L1037.3,345.7 L1038.8,345.2 L1040.3,345.2 L1041.8,345.0 L1043.4,345.1 L1044.9,344.8 L1046.5,344.1 L1048.0,342.9 L1049.5,343.8 L1051.0,343.2 L1052.5,342.4 L1054.0,341.0 L1055.5,338.9 L1057.0,338.4 L1058.5,337.4 L1060.1,337.9 L1061.6,336.8 L1063.1,335.2 L1064.6,336.2 L1066.1,335.5 L1067.6,334.5 L1069.1,332.6 L1070.6,331.4 L1072.1,331.1 L1073.6,332.5 L1075.1,332.1 L1076.6,331.0 L1078.1,332.4 L1079.6,331.5 L1081.1,331.1 L1082.6,331.0 L1084.1,331.6 L1085.6,330.9 L1087.0,331.2 L1088.5,329.6 L1089.9,330.8 L1091.4,329.5 L1092.8,330.8 L1094.3,328.9 L1095.7,329.0 L1097.2,329.2 L1098.6,328.7 L1100.1,328.8 L1101.5,329.5 L1103.0,327.5 L1104.4,328.7 L1105.9,328.7 L1107.4,329.1 L1108.9,328.5 L1110.4,328.7 L1111.9,328.6 L1113.4,329.1 L1114.9,328.8 L1116.4,328.9 L1117.9,329.7 L1119.4,329.3 L1120.9,329.0 L1122.3,328.3 L1123.8,326.7 L1125.3,325.5 L1126.8,325.6 L1128.2,325.3 L1129.7,322.8 L1131.2,322.8 L1132.6,322.0 L1134.1,321.6 L1135.6,320.1 L1137.1,318.3 L1138.5,317.1 L1140.0,317.7 L1141.6,316.3 L1143.1,315.4 L1144.7,317.3 L1146.2,315.5 L1147.8,315.7 L1149.4,315.5 L1150.9,315.2 L1152.5,316.2 L1154.1,315.1 L1155.6,315.2 L1157.2,315.0 L1158.8,315.8 L1160.2,313.8 L1161.6,315.2 L1163.0,314.1 L1164.4,314.2 L1165.8,315.3 L1167.2,314.7 L1168.6,314.0 L1170.0,315.2 L1171.5,316.1 L1173.0,315.5 L1174.5,315.3 L1176.0,316.1 L1177.5,316.5 L1179.0,314.8 L1180.5,315.2 L1182.0,316.9 L1183.5,316.9 L1185.0,315.3 L1186.5,318.0 L1188.0,319.9 L1189.5,320.7 L1191.0,322.4 L1192.5,323.5 L1194.0,321.6 L1195.5,320.5 L1197.0,319.0 L1198.5,319.3 L1200.0,316.9 L1201.5,318.1 L1202.9,317.5 L1204.4,317.6 L1205.8,318.9 L1207.3,317.5 L1208.8,317.7 L1210.2,317.5 L1211.7,317.1 L1213.1,317.1 L1214.6,317.9 L1216.0,318.6 L1217.5,316.8 L1219.0,318.9 L1220.4,318.2 L1221.9,316.7 L1223.3,318.3 L1224.8,317.6 L1226.2,317.8 L1227.7,315.7 L1229.2,315.6 L1230.6,314.5 L1232.1,314.1 L1233.5,312.5 L1235.0,311.7 L1236.5,310.7 L1237.9,308.3 L1239.4,306.8 L1240.8,306.7 L1242.3,304.8 L1243.8,303.7 L1245.2,303.1 L1246.7,302.5 L1248.1,301.6 L1249.6,300.6 L1251.0,300.2 L1252.5,297.0 L1253.9,297.2 L1255.2,295.2 L1256.6,295.7 L1258.0,294.2 L1259.6,294.6 L1261.2,296.1 L1262.8,298.1 L1264.3,298.7 L1265.9,301.0 L1267.5,300.7 L1268.9,299.7 L1270.3,300.1 L1271.7,298.4 L1273.1,296.3 L1274.5,296.9 L1275.9,295.0 L1277.3,295.4 L1278.8,293.7 L1280.2,293.8 L1281.8,293.6 L1283.2,292.3 L1284.8,293.1 L1286.2,290.5 L1287.8,291.8 L1289.4,293.6 L1290.9,292.3 L1292.5,294.5 L1294.0,295.9 L1295.6,295.8 L1297.1,295.2 L1298.5,292.4 L1300.0,292.6 L1301.5,292.5 L1302.9,291.7 L1304.4,291.4 L1305.8,291.9 L1307.3,290.1 L1308.8,289.5 L1310.2,290.5 L1311.7,291.1 L1313.2,291.4 L1314.8,291.6 L1316.3,291.2 L1317.9,293.3 L1319.4,291.8 L1320.9,292.9 L1322.5,294.7 L1324.0,295.6 L1325.5,295.0 L1327.1,296.8 L1328.6,295.4 L1330.2,297.2 L1331.7,296.5 L1333.4,292.7 L1335.0,288.4 L1336.7,283.8 L1338.4,283.9 L1340.0,283.3 L1341.7,282.0 L1343.3,284.5 L1345.0,284.8 L1346.7,287.6 L1348.3,289.3 L1350.0,286.9 L1351.7,286.0 L1353.3,282.0 L1355.0,280.6 L1356.7,281.3 L1358.3,281.7 L1360.0,283.8 L1361.7,283.5 L1363.2,281.5 L1364.7,279.5 L1366.2,277.7 L1367.7,277.1 L1369.2,274.9 L1370.7,272.7 L1372.2,269.7 L1373.7,268.9 L1375.2,265.9 L1376.7,264.6 L1378.3,264.3 L1380.0,266.3 L1381.7,267.4 L1383.3,267.0 L1384.8,266.0 L1386.3,264.4 L1387.8,264.1 L1389.3,263.3 L1390.7,262.3 L1392.2,261.1 L1393.7,260.2 L1395.2,260.6 L1396.7,260.3 L1398.2,259.4 L1399.6,258.4 L1401.0,256.5 L1402.5,256.6 L1404.0,257.4 L1405.4,257.2 L1406.8,255.6 L1408.3,255.2 L1410.0,256.1 L1411.7,255.6 L1413.3,257.4 L1415.0,257.2 L1416.5,257.0 L1418.0,254.8 L1419.4,254.0 L1420.9,252.4 L1422.4,251.1 L1423.9,249.6 L1425.3,249.5 L1426.8,247.7 L1428.3,245.6 L1430.0,247.8 L1431.6,250.7 L1433.3,252.3 L1434.7,251.5 L1436.1,251.7 L1437.5,249.1 L1438.9,249.7 L1440.3,249.2 L1441.7,248.2 L1443.2,249.8 L1444.7,250.2 L1446.2,249.2 L1447.7,250.1 L1449.2,250.8 L1450.8,251.1 L1452.3,250.6 L1453.8,252.1 L1455.3,251.4 L1456.8,251.3 L1458.3,252.9 L1459.8,251.6 L1461.3,249.8 L1462.8,248.7 L1464.3,248.7 L1465.8,247.0 L1467.3,244.8 L1468.8,244.7 L1470.3,242.7 L1471.8,241.0 L1473.3,240.4 L1475.0,241.5 L1476.6,242.6 L1478.3,242.9 L1480.0,240.1 L1481.6,236.7 L1483.3,233.1 L1484.8,233.9 L1486.3,232.8 L1487.9,234.6 L1489.4,233.0 L1490.9,233.3 L1492.4,233.4 L1493.9,231.8 L1495.4,233.2 L1497.0,231.7 L1498.5,230.9 L1500.0,231.9 L1501.4,231.0 L1502.8,231.9 L1504.2,230.3 L1505.5,229.1 L1506.9,228.5 L1508.3,228.1 L1510.0,228.1 L1511.7,227.6 L1513.3,225.0 L1515.0,224.6 L1516.7,225.2 L1518.3,226.5 L1520.0,225.8" fill="none" stroke="#A23B72" stroke-width="4.1"/><path d="M161.0,621.0 L162.6,618.2 L164.2,616.7 L165.8,614.1 L167.4,612.4 L169.0,610.3 L170.4,607.5 L171.9,605.9 L173.3,606.5 L174.8,603.6 L176.2,602.1 L177.7,602.5 L179.1,599.8 L180.6,599.3 L182.0,596.9 L183.5,597.1 L185.0,595.8 L186.5,596.7 L188.0,597.1 L189.5,596.1 L191.0,596.4 L192.5,596.0 L194.0,594.4 L195.5,595.8 L197.0,595.2 L198.5,593.5 L200.0,591.9 L201.5,592.9 L203.0,590.9 L204.5,590.5 L206.0,589.9 L207.4,590.2 L208.9,591.4 L210.3,590.9 L211.7,592.6 L213.1,592.4 L214.6,594.3 L216.0,594.9 L217.4,592.6 L218.9,592.2 L220.3,592.0 L221.8,593.3 L223.2,591.6 L224.7,591.6 L226.1,590.4 L227.6,590.5 L229.0,589.7 L230.6,590.6 L232.2,592.2 L233.8,593.2 L235.4,595.0 L237.0,595.4 L238.4,593.4 L239.8,590.7 L241.2,588.4 L242.6,585.0 L244.0,581.2 L245.6,582.3 L247.1,582.0 L248.7,581.3 L250.3,579.9 L251.9,579.7 L253.4,577.9 L255.0,578.8 L256.5,577.8 L257.9,576.6 L259.4,575.7 L260.8,577.2 L262.3,577.1 L263.8,574.5 L265.2,575.8 L266.7,574.4 L268.2,573.4 L269.6,573.3 L271.1,574.0 L272.5,573.8 L274.0,571.4 L275.6,571.7 L277.1,569.3 L278.7,569.8 L280.3,567.8 L281.9,568.1 L283.4,567.2 L285.0,565.0 L286.5,565.6 L288.0,563.3 L289.5,562.2 L291.0,562.8 L292.5,560.9 L294.0,560.7 L295.5,560.6 L297.0,560.5 L298.5,558.8 L300.0,557.9 L301.5,559.2 L303.0,557.2 L304.5,558.0 L306.0,557.2 L307.5,555.2 L309.0,554.7 L310.5,554.1 L312.0,553.7 L313.5,552.9 L315.0,552.1 L316.4,551.8 L317.9,552.2 L319.3,550.7 L320.8,550.1 L322.2,550.3 L323.7,548.7 L325.1,548.4 L326.6,549.6 L328.0,548.1 L329.6,546.9 L331.2,544.4 L332.8,544.1 L334.3,543.3 L335.9,540.7 L337.5,540.9 L339.1,540.3 L340.7,538.3 L342.2,539.1 L343.8,538.1 L345.4,538.0 L347.0,536.6 L348.4,538.6 L349.8,539.9 L351.1,539.3 L352.5,540.5 L354.0,539.5 L355.5,537.7 L357.0,533.4 L358.5,531.4 L360.0,529.2 L361.6,528.9 L363.1,529.2 L364.7,529.4 L366.3,529.8 L367.9,530.7 L369.4,530.2 L371.0,530.7 L372.4,530.2 L373.9,527.0 L375.3,526.8 L376.8,525.8 L378.2,523.3 L379.7,521.7 L381.1,521.6 L382.6,518.8 L384.0,517.2 L385.4,518.4 L386.9,519.6 L388.3,518.8 L389.7,519.9 L391.1,520.5 L392.6,522.2 L394.0,521.9 L395.5,521.6 L397.0,518.6 L398.5,517.7 L400.0,517.2 L401.5,516.4 L403.0,514.1 L404.5,512.2 L406.0,510.7 L407.5,510.4 L409.0,508.3 L410.6,510.0 L412.1,510.3 L413.7,508.9 L415.3,509.4 L416.9,510.9 L418.4,510.7 L420.0,511.3 L421.5,508.3 L423.0,505.9 L424.5,504.3 L426.0,503.6 L427.5,500.5 L429.1,500.5 L430.7,500.5 L432.2,500.3 L433.8,500.1 L435.4,501.2 L437.0,499.2 L438.6,498.3 L440.1,500.1 L441.7,499.4 L443.2,499.2 L444.8,497.4 L446.3,498.1 L447.9,497.6 L449.4,495.4 L451.0,496.2 L452.4,495.6 L453.9,494.3 L455.3,493.1 L456.8,491.7 L458.2,491.0 L459.7,489.9 L461.1,488.7 L462.6,489.1 L464.0,487.5 L465.5,488.4 L467.0,486.2 L468.5,487.8 L470.0,487.0 L471.5,487.1 L473.0,486.7 L474.5,486.3 L476.0,485.2 L477.4,482.6 L478.8,483.2 L480.2,480.6 L481.6,479.7 L483.0,479.4 L484.4,478.4 L485.9,477.5 L487.3,478.1 L488.8,476.6 L490.2,475.3 L491.7,474.4 L493.1,475.2 L494.6,473.6 L496.0,473.7 L497.5,472.6 L498.9,472.3 L500.4,473.1 L501.8,473.8 L503.3,472.2 L504.8,473.7 L506.2,474.0 L507.7,473.7 L509.2,473.8 L510.6,471.8 L512.1,473.3 L513.5,473.9 L515.0,471.9 L516.5,472.6 L517.9,472.8 L519.4,473.5 L520.8,473.4 L522.3,473.7 L523.8,474.6 L525.2,472.9 L526.7,473.2 L528.2,473.5 L529.6,473.6 L531.1,473.7 L532.5,476.0 L534.0,475.9 L535.6,472.9 L537.1,472.9 L538.7,471.3 L540.3,470.3 L541.9,469.3 L543.4,468.9 L545.0,467.7 L546.5,467.2 L548.0,466.8 L549.5,467.1 L551.0,466.6 L552.5,467.6 L554.0,468.0 L555.5,467.2 L557.0,466.5 L558.5,466.7 L560.0,467.2 L561.6,467.1 L563.1,466.9 L564.7,465.3 L566.3,465.7 L567.9,464.6 L569.4,463.5 L571.0,462.7 L572.4,462.3 L573.9,462.2 L575.3,460.8 L576.8,460.8 L578.2,459.6 L579.7,458.4 L581.1,458.4 L582.6,458.1 L584.0,456.0 L585.5,456.7 L587.0,456.6 L588.5,457.6 L590.0,457.6 L591.5,456.2 L593.0,457.4 L594.5,457.0 L596.0,455.6 L597.5,456.0 L599.0,455.1 L600.4,457.6 L601.9,458.1 L603.3,459.5 L604.7,460.1 L606.1,460.7 L607.6,461.7 L609.0,462.2 L610.6,461.6 L612.1,463.2 L613.7,462.4 L615.3,463.2 L616.9,465.2 L618.4,464.0 L620.0,464.6 L621.5,463.8 L623.0,464.8 L624.5,462.2 L626.0,461.0 L627.5,462.1 L629.0,459.5 L630.5,460.4 L632.0,459.1 L633.5,458.7 L635.0,458.1 L636.6,457.8 L638.1,458.9 L639.7,457.6 L641.3,459.9 L642.9,459.9 L644.4,460.9 L646.0,460.1 L647.5,460.6 L649.0,460.0 L650.5,456.8 L652.0,456.4 L653.5,456.0 L655.0,455.5 L656.5,453.1 L658.0,451.9 L659.5,451.0 L661.0,450.9 L662.3,449.3 L663.7,446.6 L665.0,444.7 L666.5,444.4 L667.9,443.9 L669.4,443.6 L670.8,442.5 L672.3,443.1 L673.8,443.8 L675.2,442.1 L676.7,442.5 L678.2,440.7 L679.6,441.6 L681.1,441.4 L682.5,440.8 L684.0,440.0 L685.4,439.8 L686.8,439.9 L688.2,440.4 L689.6,438.4 L691.0,438.0 L692.4,439.0 L693.9,438.7 L695.3,437.2 L696.8,436.4 L698.2,436.4 L699.6,434.5 L701.1,434.1 L702.5,433.3 L704.1,433.0 L705.7,431.2 L707.2,429.9 L708.8,429.8 L710.4,429.3 L712.0,426.5 L713.4,426.5 L714.9,424.8 L716.3,424.8 L717.8,423.2 L719.2,421.4 L720.7,420.3 L722.1,418.9 L723.6,419.0 L725.0,417.7 L726.4,417.0 L727.9,417.2 L729.3,416.9 L730.8,417.7 L732.2,415.9 L733.6,417.7 L735.1,416.3 L736.5,416.3 L738.0,415.8 L739.4,416.4 L741.0,414.8 L742.5,412.5 L744.1,410.8 L745.6,409.7 L747.2,408.5 L748.8,405.8 L750.2,406.1 L751.6,406.2 L753.0,404.6 L754.4,403.6 L755.8,403.2 L757.2,403.9 L758.6,403.4 L760.0,403.6 L761.5,403.7 L763.0,402.6 L764.5,402.9 L766.0,403.4 L767.5,403.6 L769.1,403.8 L770.7,403.1 L772.2,402.1 L773.8,399.4 L775.4,399.8 L777.0,397.4 L778.4,397.0 L779.9,397.1 L781.3,394.9 L782.8,394.2 L784.2,395.4 L785.7,393.4 L787.1,392.9 L788.6,392.8 L790.0,392.4 L791.5,390.9 L793.0,391.8 L794.5,392.1 L796.0,392.4 L797.5,391.8 L799.0,392.8 L800.5,393.8 L802.0,392.5 L803.5,393.0 L805.0,392.1 L806.5,391.9 L808.0,392.2 L809.5,390.3 L811.0,391.5 L812.5,391.0 L814.0,388.4 L815.5,389.6 L817.1,387.4 L818.6,387.5 L820.2,386.6 L821.7,384.6 L823.3,384.7 L824.8,383.8 L826.4,383.3 L827.9,381.1 L829.5,381.5 L831.0,381.1 L832.4,379.5 L833.9,378.2 L835.3,376.3 L836.8,376.2 L838.2,375.0 L839.6,374.9 L841.1,373.9 L842.5,372.7 L844.0,371.7 L845.5,372.8 L847.0,372.8 L848.5,371.7 L850.0,373.4 L851.6,371.1 L853.1,368.0 L854.7,368.2 L856.3,364.5 L857.9,363.2 L859.4,362.3 L861.0,360.2 L862.4,359.4 L863.9,358.8 L865.3,357.6 L866.8,356.4 L868.2,355.3 L869.6,354.3 L871.1,355.0 L872.5,354.4 L874.0,353.1 L875.4,352.8 L876.9,351.2 L878.3,350.2 L879.8,349.7 L881.2,350.1 L882.7,347.4 L884.1,347.8 L885.6,346.4 L887.1,347.2 L888.5,345.8 L890.0,345.4 L891.4,345.2 L892.9,345.1 L894.4,345.3 L895.8,343.8 L897.3,344.6 L898.8,342.5 L900.2,342.3 L901.6,341.3 L903.0,340.7 L904.4,341.7 L905.8,341.0 L907.2,339.2 L908.6,338.6 L910.0,338.5 L911.6,338.2 L913.1,337.3 L914.7,336.0 L916.3,334.5 L917.8,332.3 L919.4,331.8 L920.9,330.7 L922.3,330.9 L923.8,330.4 L925.2,328.9 L926.7,328.4 L928.1,329.1 L929.6,326.7 L931.0,327.9 L932.5,327.5 L934.1,328.4 L935.7,327.8 L937.2,328.9 L938.8,329.7 L940.4,330.6 L942.0,332.1 L943.6,330.0 L945.1,327.7 L946.7,327.6 L948.3,325.2 L949.9,324.1 L951.4,323.0 L953.0,319.8 L954.4,322.1 L955.9,322.2 L957.3,322.2 L958.8,322.7 L960.2,323.0 L961.7,322.7 L963.1,323.9 L964.6,323.2 L966.0,324.7 L967.5,324.1 L969.0,322.6 L970.5,321.9 L972.0,321.9 L973.5,320.8 L975.0,318.0 L976.5,318.6 L978.0,317.2 L979.5,314.9 L981.0,314.7 L982.5,314.5 L983.9,314.3 L985.4,315.6 L986.8,316.6 L988.3,315.3 L989.8,316.8 L991.2,316.5 L992.7,315.4 L994.2,317.2 L995.6,316.8 L997.1,317.7 L998.5,317.4 L1000.0,317.6 L1001.6,314.8 L1003.1,314.1 L1004.7,312.5 L1006.3,310.5 L1007.8,307.7 L1009.4,306.6 L1010.9,305.6 L1012.3,304.4 L1013.8,303.9 L1015.2,303.7 L1016.7,303.6 L1018.1,303.2 L1019.6,303.7 L1021.0,303.8 L1022.5,303.1 L1024.2,304.9 L1025.8,307.6 L1027.5,308.9 L1028.9,307.7 L1030.3,306.7 L1031.7,304.2 L1033.1,302.1 L1034.5,302.1 L1035.9,300.1 L1037.3,297.6 L1038.8,295.9 L1040.3,296.2 L1041.8,296.2 L1043.4,295.1 L1044.9,294.4 L1046.5,294.8 L1048.0,296.0 L1049.5,293.4 L1051.0,293.2 L1052.4,291.6 L1053.9,290.6 L1055.4,289.5 L1056.9,289.0 L1058.4,287.5 L1059.9,286.1 L1061.3,285.3 L1062.8,284.5 L1064.3,284.2 L1065.8,282.2 L1067.3,281.1 L1068.8,281.1 L1070.3,280.8 L1071.8,281.2 L1073.3,279.4 L1074.9,280.0 L1076.4,279.7 L1077.9,278.6 L1079.5,280.6 L1081.0,278.5 L1082.5,277.9 L1084.1,278.6 L1085.6,277.6 L1087.0,278.3 L1088.5,277.2 L1089.9,276.2 L1091.4,275.6 L1092.8,276.8 L1094.3,275.3 L1095.7,276.1 L1097.2,274.9 L1098.6,275.6 L1100.1,273.6 L1101.5,273.1 L1103.0,272.7 L1104.4,273.6 L1105.8,273.8 L1107.2,273.8 L1108.6,273.9 L1110.0,276.0 L1111.5,276.1 L1113.0,274.5 L1114.5,272.4 L1116.0,271.8 L1117.5,271.3 L1119.0,270.8 L1120.5,269.9 L1122.0,269.2 L1123.5,270.0 L1125.0,270.0 L1126.5,267.4 L1128.0,268.5 L1129.5,266.4 L1131.0,266.4 L1132.5,265.8 L1134.0,265.0 L1135.5,262.0 L1137.0,261.8 L1138.5,261.7 L1140.0,261.7 L1141.5,259.3 L1142.9,259.6 L1144.4,260.6 L1145.9,258.6 L1147.4,259.0 L1148.8,258.6 L1150.3,259.2 L1151.8,259.5 L1153.2,257.4 L1154.7,258.5 L1156.2,258.3 L1157.7,258.2 L1159.1,257.3 L1160.6,257.9 L1162.0,257.3 L1163.4,258.1 L1164.8,258.4 L1166.2,260.4 L1167.8,258.5 L1169.2,256.9 L1170.8,255.5 L1172.2,255.7 L1173.8,254.3 L1175.2,254.6 L1176.8,253.9 L1178.2,254.3 L1179.8,253.6 L1181.2,255.0 L1182.8,253.5 L1184.2,254.6 L1185.8,255.4 L1187.2,255.3 L1188.8,254.0 L1190.6,256.7 L1192.5,260.5 L1194.0,258.5 L1195.5,257.6 L1197.0,256.1 L1198.5,253.6 L1200.0,253.2 L1201.5,252.3 L1203.0,250.9 L1204.5,250.5 L1206.0,249.3 L1207.5,249.6 L1209.0,250.5 L1210.5,248.0 L1212.0,248.6 L1213.5,247.0 L1215.0,246.5 L1216.5,247.3 L1218.1,245.7 L1219.6,244.6 L1221.2,244.3 L1222.7,244.9 L1224.3,244.2 L1225.8,242.2 L1227.4,242.1 L1228.9,243.3 L1230.5,240.9 L1232.0,241.1 L1233.5,239.5 L1234.9,239.1 L1236.4,237.4 L1237.9,236.5 L1239.3,234.7 L1240.8,232.5 L1242.2,231.2 L1243.7,229.7 L1245.2,230.2 L1246.6,227.2 L1248.1,225.7 L1249.6,226.7 L1251.0,223.6 L1252.5,223.9 L1254.0,221.5 L1255.5,221.8 L1257.0,220.7 L1258.5,221.6 L1260.0,220.6 L1261.6,221.6 L1263.1,222.8 L1264.7,224.0 L1266.3,223.7 L1267.8,225.3 L1269.4,225.9 L1271.0,223.5 L1272.5,223.7 L1274.1,221.5 L1275.6,220.5 L1277.2,217.5 L1278.8,216.7 L1280.6,209.5 L1282.5,203.0 L1284.0,201.7 L1285.4,202.6 L1286.9,203.1 L1288.3,202.3 L1289.8,203.7 L1291.2,204.3 L1292.7,203.8 L1294.1,204.5 L1295.6,204.7 L1297.1,202.0 L1298.6,200.7 L1300.0,200.5 L1301.5,197.3 L1303.0,195.8 L1304.5,194.7 L1305.9,194.7 L1307.3,194.2 L1308.8,195.7 L1310.2,194.9 L1311.7,194.9 L1313.1,196.4 L1314.6,196.7 L1316.0,198.7 L1317.4,198.9 L1318.8,199.9 L1320.3,202.4 L1321.7,203.5 L1323.1,203.9 L1324.6,203.2 L1326.0,204.2 L1327.4,203.7 L1328.8,205.5 L1330.3,205.7 L1331.7,204.5 L1333.1,204.0 L1334.6,200.2 L1336.0,197.9 L1337.4,197.4 L1338.8,194.4 L1340.3,192.9 L1341.7,191.1 L1343.3,190.9 L1345.0,193.9 L1346.7,194.0 L1348.3,195.6 L1350.0,193.6 L1351.7,192.6 L1353.3,190.8 L1355.0,187.8 L1356.4,187.5 L1357.8,188.1 L1359.2,188.4 L1360.5,187.8 L1361.9,188.1 L1363.3,189.6 L1364.8,187.6 L1366.3,186.5 L1367.8,184.7 L1369.3,182.6 L1370.7,179.5 L1372.2,177.2 L1373.7,175.7 L1375.2,174.2 L1376.7,172.6 L1378.3,172.8 L1380.0,172.6 L1381.7,173.9 L1383.3,172.8 L1384.8,172.1 L1386.3,172.0 L1387.8,170.7 L1389.3,168.4 L1390.7,167.1 L1392.2,167.4 L1393.7,164.3 L1395.2,163.5 L1396.7,163.4 L1398.2,162.8 L1399.6,161.2 L1401.0,160.3 L1402.5,160.1 L1404.0,160.8 L1405.4,159.5 L1406.8,160.1 L1408.3,159.0 L1410.0,160.3 L1411.7,158.9 L1413.3,160.1 L1415.0,160.5 L1416.5,160.3 L1418.0,158.9 L1419.4,157.0 L1420.9,157.0 L1422.4,154.7 L1423.9,154.0 L1425.3,152.6 L1426.8,152.7 L1428.3,150.6 L1430.0,152.2 L1431.6,153.6 L1433.3,156.5 L1434.7,156.2 L1436.1,155.5 L1437.5,155.2 L1438.9,154.1 L1440.3,151.9 L1441.7,150.8 L1443.4,152.3 L1445.0,152.4 L1446.7,151.7 L1448.2,153.0 L1449.6,152.8 L1451.0,152.7 L1452.5,153.0 L1454.0,153.1 L1455.4,155.1 L1456.8,156.2 L1458.3,156.8 L1459.7,154.9 L1461.1,154.5 L1462.5,154.3 L1463.9,153.2 L1465.3,151.9 L1466.7,150.6 L1468.4,148.3 L1470.0,145.0 L1471.7,142.5 L1473.1,144.0 L1474.5,145.0 L1475.8,144.3 L1477.2,144.2 L1478.6,144.4 L1480.0,144.9 L1481.7,143.2 L1483.3,139.9 L1484.8,140.9 L1486.3,138.7 L1487.9,138.9 L1489.4,139.1 L1490.9,138.7 L1492.4,139.5 L1493.9,139.2 L1495.4,139.2 L1497.0,138.2 L1498.5,136.6 L1500.0,137.7 L1501.4,137.5 L1502.8,137.2 L1504.2,136.6 L1505.5,137.5 L1506.9,137.8 L1508.3,135.7 L1510.0,135.2 L1511.7,132.6 L1513.3,131.1 L1515.0,130.1 L1516.7,131.1 L1518.3,131.2 L1520.0,131.7" fill="none" stroke="#F18F01" stroke-width="4.1"/></g>
<g><text x="157" y="130.6" font-size="22.5" text-anchor="end" textLength="84" lengthAdjust="spacingAndGlyphs">4000.00</text><text x="157" y="168.6" font-size="22.5" text-anchor="end" textLength="84" lengthAdjust="spacingAndGlyphs">3000.00</text><text x="157" y="223.6" font-size="22.5" text-anchor="end" textLength="84" lengthAdjust="spacingAndGlyphs">2000.00</text><text x="152" y="317.1" font-size="22.5" text-anchor="end" textLength="84" lengthAdjust="spacingAndGlyphs">1000.00</text><text x="157" y="331.1" font-size="22.5" text-anchor="end" textLength="70.5" lengthAdjust="spacingAndGlyphs">900.00</text><text x="157" y="347.1" font-size="22.5" text-anchor="end" textLength="70.5" lengthAdjust="spacingAndGlyphs">800.00</text><text x="157" y="365.40000000000003" font-size="22.5" text-anchor="end" textLength="70.5" lengthAdjust="spacingAndGlyphs">700.00</text><text x="157" y="386.6" font-size="22.5" text-anchor="end" textLength="70.5" lengthAdjust="spacingAndGlyphs">600.00</text><text x="157" y="410.6" font-size="22.5" text-anchor="end" textLength="70.5" lengthAdjust="spacingAndGlyphs">500.00</text><text x="157" y="440.6" font-size="22.5" text-anchor="end" textLength="70.5" lengthAdjust="spacingAndGlyphs">400.00</text><text x="157" y="479.6" font-size="22.5" text-anchor="end" textLength="70.5" lengthAdjust="spacingAndGlyphs">300.00</text><text x="157" y="533.6" font-size="22.5" text-anchor="end" textLength="70.5" lengthAdjust="spacingAndGlyphs">200.00</text><text x="152" y="628.3000000000001" font-size="22.5" text-anchor="end" textLength="70.5" lengthAdjust="spacingAndGlyphs">100.00</text><text x="157" y="642.6" font-size="22.5" text-anchor="end" textLength="58" lengthAdjust="spacingAndGlyphs">90.00</text><text x="157" y="658.6" font-size="22.5" text-anchor="end" textLength="58" lengthAdjust="spacingAndGlyphs">80.00</text><text x="157" y="740.1" font-size="22.5" text-anchor="end" textLength="54" lengthAdjust="spacingAndGlyphs">0.0%</text><text x="157" y="898.4" font-size="22.5" text-anchor="end" textLength="69" lengthAdjust="spacingAndGlyphs">−5.0%</text><text x="157" y="1054.6" font-size="22.5" text-anchor="end" textLength="82" lengthAdjust="spacingAndGlyphs">−10.0%</text><text x="228" y="1121.6" font-size="22.5" text-anchor="middle" textLength="50" lengthAdjust="spacingAndGlyphs">2000</text><text x="489" y="1121.6" font-size="22.5" text-anchor="middle" textLength="50" lengthAdjust="spacingAndGlyphs">2005</text><text x="749.2" y="1121.6" font-size="22.5" text-anchor="middle" textLength="50" lengthAdjust="spacingAndGlyphs">2010</text><text x="1010" y="1121.6" font-size="22.5" text-anchor="middle" textLength="50" lengthAdjust="spacingAndGlyphs">2015</text><text x="1270.6" y="1121.6" font-size="22.5" text-anchor="middle" textLength="50" lengthAdjust="spacingAndGlyphs">2020</text><text x="840.5" y="1169.6" font-size="24.5" text-anchor="middle" textLength="53" lengthAdjust="spacingAndGlyphs">Date</text><text x="0" y="0" font-size="24" text-anchor="middle" textLength="207" lengthAdjust="spacingAndGlyphs" transform="translate(33,377) rotate(-90)">Cumulative Return</text><text x="0" y="0" font-size="24" text-anchor="middle" textLength="168" lengthAdjust="spacingAndGlyphs" transform="translate(38,916) rotate(-90)">Drawdown (%)</text></g>
<g><line x1="988" x2="1048" y1="53" y2="53" stroke="#2E86AB" stroke-width="4"/><text x="1057.5" y="60.6" font-size="21.8" text-anchor="start" textLength="77" lengthAdjust="spacingAndGlyphs">Current</text><line x1="1154" x2="1214" y1="53" y2="53" stroke="#A23B72" stroke-width="4"/><text x="1223.5" y="60.6" font-size="21.8" text-anchor="start" textLength="70" lengthAdjust="spacingAndGlyphs">Perfect</text><line x1="1313" x2="1373" y1="53" y2="53" stroke="#F18F01" stroke-width="4"/><text x="1383.3" y="60.6" font-size="21.8" text-anchor="start" textLength="125" lengthAdjust="spacingAndGlyphs">Perfect Long</text></g>
</svg>
</body></html>
